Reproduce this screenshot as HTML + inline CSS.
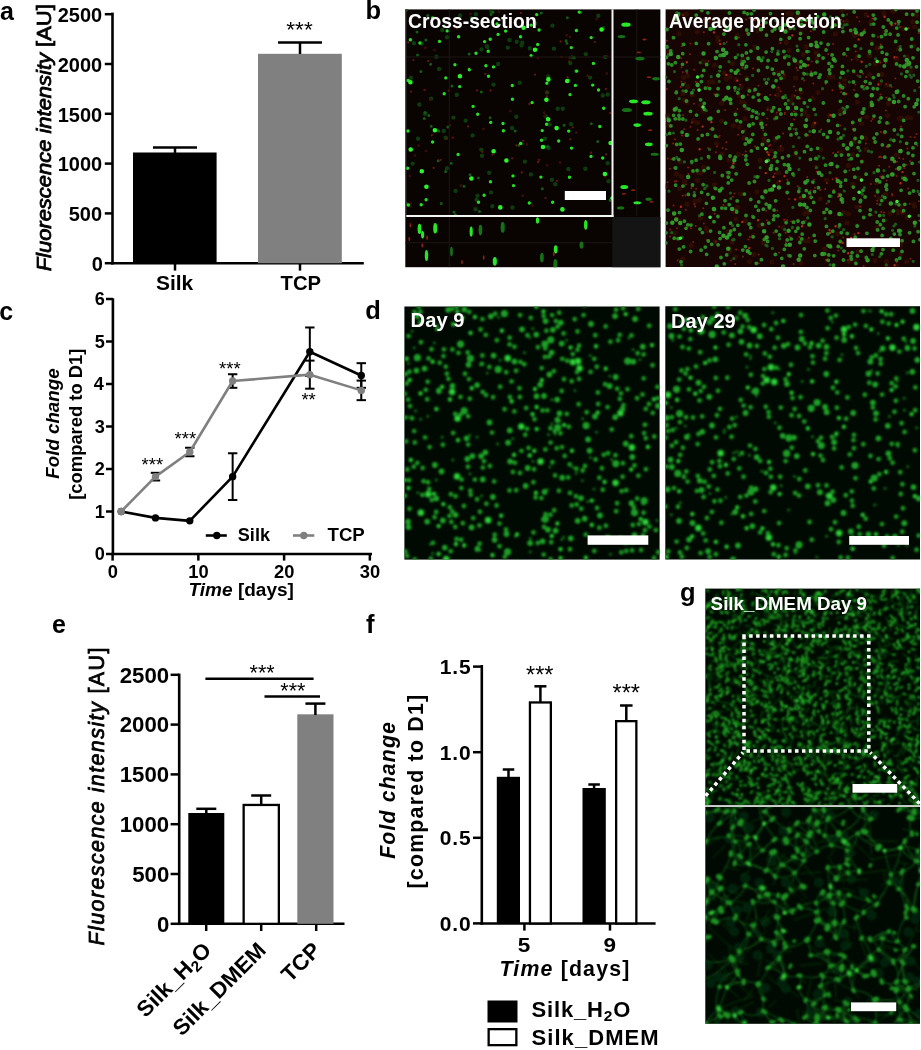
<!DOCTYPE html>
<html><head><meta charset="utf-8"><title>Figure</title>
<style>html,body{margin:0;padding:0;background:#fff}svg{display:block}text{font-family:"Liberation Sans",Arial,sans-serif}</style></head>
<body>
<svg width="921" height="1050" viewBox="0 0 921 1050">
<rect width="921" height="1050" fill="#fff"/>
<text transform="translate(-0.10,19.80)" font-size="25" font-weight="bold" font-style="normal" fill="#000">a</text>
<line x1="112.50" y1="12.60" x2="112.50" y2="264.45" stroke="#000" stroke-width="2.6" />
<line x1="111.25" y1="263.20" x2="363.80" y2="263.20" stroke="#000" stroke-width="2.5" />
<line x1="104.80" y1="263.20" x2="112.50" y2="263.20" stroke="#000" stroke-width="2.5" />
<text transform="translate(91.70,270.90)" font-size="20" font-weight="bold" font-style="normal" fill="#000">0</text>
<line x1="104.80" y1="213.40" x2="112.50" y2="213.40" stroke="#000" stroke-width="2.5" />
<text transform="translate(68.70,221.10)" font-size="20" font-weight="bold" font-style="normal" fill="#000">500</text>
<line x1="104.80" y1="163.60" x2="112.50" y2="163.60" stroke="#000" stroke-width="2.5" />
<text transform="translate(57.70,171.30)" font-size="20" font-weight="bold" font-style="normal" fill="#000">1000</text>
<line x1="104.80" y1="113.80" x2="112.50" y2="113.80" stroke="#000" stroke-width="2.5" />
<text transform="translate(57.70,121.50)" font-size="20" font-weight="bold" font-style="normal" fill="#000">1500</text>
<line x1="104.80" y1="64.00" x2="112.50" y2="64.00" stroke="#000" stroke-width="2.5" />
<text transform="translate(57.70,71.70)" font-size="20" font-weight="bold" font-style="normal" fill="#000">2000</text>
<line x1="104.80" y1="14.20" x2="112.50" y2="14.20" stroke="#000" stroke-width="2.5" />
<text transform="translate(57.70,21.90)" font-size="20" font-weight="bold" font-style="normal" fill="#000">2500</text>
<line x1="175.00" y1="263.20" x2="175.00" y2="270.60" stroke="#000" stroke-width="2.5" />
<line x1="300.00" y1="263.20" x2="300.00" y2="270.60" stroke="#000" stroke-width="2.5" />
<rect x="133.00" y="152.50" width="83.60" height="110.70" fill="#000"/>
<rect x="258.00" y="53.80" width="83.80" height="209.40" fill="#808080"/>
<line x1="175.00" y1="147.50" x2="175.00" y2="153.00" stroke="#000" stroke-width="2.5" />
<line x1="153.00" y1="147.50" x2="197.00" y2="147.50" stroke="#000" stroke-width="2.5" />
<line x1="300.00" y1="42.50" x2="300.00" y2="54.00" stroke="#000" stroke-width="2.5" />
<line x1="278.00" y1="42.50" x2="322.00" y2="42.50" stroke="#000" stroke-width="2.5" />
<text transform="translate(286.30,36.51)" font-size="22.6" font-weight="normal" font-style="normal" fill="#000">***</text>
<text transform="translate(155.92,289.60) scale(1.0300,1)" font-size="20.37" font-weight="bold" font-style="normal" fill="#000">Silk</text>
<text transform="translate(280.50,289.80) scale(1.0300,1)" font-size="19.68" font-weight="bold" font-style="normal" fill="#000">TCP</text>
<text transform="translate(51.00,271.35) rotate(-90) scale(1.0458,1)" font-size="21" font-weight="normal" font-style="normal" fill="#000" stroke="#000" stroke-width="0.8"><tspan font-style="italic">Fluorescence intensity</tspan> [AU]</text>
<text transform="translate(-0.70,319.60)" font-size="25" font-weight="bold" font-style="normal" fill="#000">c</text>
<line x1="112.90" y1="298.20" x2="112.90" y2="555.25" stroke="#000" stroke-width="2.6" />
<line x1="111.65" y1="554.00" x2="372.00" y2="554.00" stroke="#000" stroke-width="2.5" />
<line x1="106.00" y1="554.00" x2="112.90" y2="554.00" stroke="#000" stroke-width="2.5" />
<text transform="translate(94.82,560.40) scale(1.0200,1)" font-size="17.8" font-weight="bold" font-style="normal" fill="#000">0</text>
<line x1="106.00" y1="511.50" x2="112.90" y2="511.50" stroke="#000" stroke-width="2.5" />
<text transform="translate(94.82,517.90) scale(1.0200,1)" font-size="17.8" font-weight="bold" font-style="normal" fill="#000">1</text>
<line x1="106.00" y1="469.00" x2="112.90" y2="469.00" stroke="#000" stroke-width="2.5" />
<text transform="translate(94.82,475.40) scale(1.0200,1)" font-size="17.8" font-weight="bold" font-style="normal" fill="#000">2</text>
<line x1="106.00" y1="426.50" x2="112.90" y2="426.50" stroke="#000" stroke-width="2.5" />
<text transform="translate(94.82,432.90) scale(1.0200,1)" font-size="17.8" font-weight="bold" font-style="normal" fill="#000">3</text>
<line x1="106.00" y1="384.00" x2="112.90" y2="384.00" stroke="#000" stroke-width="2.5" />
<text transform="translate(93.80,390.40) scale(1.0200,1)" font-size="17.8" font-weight="bold" font-style="normal" fill="#000">4</text>
<line x1="106.00" y1="341.50" x2="112.90" y2="341.50" stroke="#000" stroke-width="2.5" />
<text transform="translate(94.82,347.90) scale(1.0200,1)" font-size="17.8" font-weight="bold" font-style="normal" fill="#000">5</text>
<line x1="106.00" y1="299.00" x2="112.90" y2="299.00" stroke="#000" stroke-width="2.5" />
<text transform="translate(94.82,305.40) scale(1.0200,1)" font-size="17.8" font-weight="bold" font-style="normal" fill="#000">6</text>
<line x1="112.60" y1="554.00" x2="112.60" y2="560.60" stroke="#000" stroke-width="2.5" />
<text transform="translate(107.75,578.30) scale(1.0300,1)" font-size="17.8" font-weight="bold" font-style="normal" fill="#000">0</text>
<line x1="198.35" y1="554.00" x2="198.35" y2="560.60" stroke="#000" stroke-width="2.5" />
<text transform="translate(188.35,578.30) scale(1.0300,1)" font-size="17.8" font-weight="bold" font-style="normal" fill="#000">10</text>
<line x1="284.10" y1="554.00" x2="284.10" y2="560.60" stroke="#000" stroke-width="2.5" />
<text transform="translate(274.10,578.30) scale(1.0300,1)" font-size="17.8" font-weight="bold" font-style="normal" fill="#000">20</text>
<line x1="369.85" y1="554.00" x2="369.85" y2="560.60" stroke="#000" stroke-width="2.5" />
<text transform="translate(359.85,578.30) scale(1.0300,1)" font-size="17.8" font-weight="bold" font-style="normal" fill="#000">30</text>
<text transform="translate(188.53,596.00) scale(1.0698,1)" font-size="17.8" font-weight="bold" font-style="normal" fill="#000"><tspan font-style="italic">Time</tspan> [days]</text>
<text transform="translate(59.30,478.70) rotate(-90) scale(1.0300,1)" font-size="18.19" font-weight="bold" font-style="italic" fill="#000">Fold change</text>
<text transform="translate(82.00,499.75) rotate(-90) scale(1.0300,1)" font-size="17.85" font-weight="bold" font-style="normal" fill="#000">[compared to D1]</text>
<line x1="232.65" y1="453.27" x2="232.65" y2="500.02" stroke="#000" stroke-width="2" />
<line x1="227.95" y1="453.27" x2="237.35" y2="453.27" stroke="#000" stroke-width="2" />
<line x1="227.95" y1="500.02" x2="237.35" y2="500.02" stroke="#000" stroke-width="2" />
<line x1="309.82" y1="327.48" x2="309.82" y2="375.93" stroke="#000" stroke-width="2" />
<line x1="305.12" y1="327.48" x2="314.52" y2="327.48" stroke="#000" stroke-width="2" />
<line x1="305.12" y1="375.93" x2="314.52" y2="375.93" stroke="#000" stroke-width="2" />
<line x1="361.27" y1="363.17" x2="361.27" y2="387.82" stroke="#000" stroke-width="2" />
<line x1="356.57" y1="363.17" x2="365.97" y2="363.17" stroke="#000" stroke-width="2" />
<line x1="356.57" y1="387.82" x2="365.97" y2="387.82" stroke="#000" stroke-width="2" />
<polyline points="121.17,511.50 155.47,517.88 189.77,520.85 232.65,476.65 309.82,351.70 361.27,375.50" fill="none" stroke="#000" stroke-width="2.6" stroke-linejoin="round"/>
<circle cx="121.17" cy="511.50" r="3.7" fill="#000"/>
<circle cx="155.47" cy="517.88" r="3.7" fill="#000"/>
<circle cx="189.77" cy="520.85" r="3.7" fill="#000"/>
<circle cx="232.65" cy="476.65" r="3.7" fill="#000"/>
<circle cx="309.82" cy="351.70" r="3.7" fill="#000"/>
<circle cx="361.27" cy="375.50" r="3.7" fill="#000"/>
<line x1="155.47" y1="472.82" x2="155.47" y2="480.48" stroke="#000" stroke-width="2" />
<line x1="150.78" y1="472.82" x2="160.17" y2="472.82" stroke="#000" stroke-width="2" />
<line x1="150.78" y1="480.48" x2="160.17" y2="480.48" stroke="#000" stroke-width="2" />
<line x1="189.77" y1="447.75" x2="189.77" y2="456.25" stroke="#000" stroke-width="2" />
<line x1="185.07" y1="447.75" x2="194.47" y2="447.75" stroke="#000" stroke-width="2" />
<line x1="185.07" y1="456.25" x2="194.47" y2="456.25" stroke="#000" stroke-width="2" />
<line x1="232.65" y1="374.23" x2="232.65" y2="387.82" stroke="#000" stroke-width="2" />
<line x1="227.95" y1="374.23" x2="237.35" y2="374.23" stroke="#000" stroke-width="2" />
<line x1="227.95" y1="387.82" x2="237.35" y2="387.82" stroke="#000" stroke-width="2" />
<line x1="309.82" y1="360.62" x2="309.82" y2="388.68" stroke="#000" stroke-width="2" />
<line x1="305.12" y1="360.62" x2="314.52" y2="360.62" stroke="#000" stroke-width="2" />
<line x1="305.12" y1="388.68" x2="314.52" y2="388.68" stroke="#000" stroke-width="2" />
<line x1="361.27" y1="380.60" x2="361.27" y2="400.15" stroke="#000" stroke-width="2" />
<line x1="356.57" y1="380.60" x2="365.97" y2="380.60" stroke="#000" stroke-width="2" />
<line x1="356.57" y1="400.15" x2="365.97" y2="400.15" stroke="#000" stroke-width="2" />
<polyline points="121.17,511.50 155.47,476.65 189.77,452.00 232.65,381.02 309.82,374.65 361.27,390.38" fill="none" stroke="#808080" stroke-width="2.6" stroke-linejoin="round"/>
<circle cx="121.17" cy="511.50" r="3.7" fill="#808080"/>
<circle cx="155.47" cy="476.65" r="3.7" fill="#808080"/>
<circle cx="189.77" cy="452.00" r="3.7" fill="#808080"/>
<circle cx="232.65" cy="381.02" r="3.7" fill="#808080"/>
<circle cx="309.82" cy="374.65" r="3.7" fill="#808080"/>
<circle cx="361.27" cy="390.38" r="3.7" fill="#808080"/>
<text transform="translate(141.50,470.75)" font-size="18.5" font-weight="normal" font-style="normal" fill="#000">***</text>
<text transform="translate(174.50,445.05)" font-size="18.5" font-weight="normal" font-style="normal" fill="#000">***</text>
<text transform="translate(219.00,375.05)" font-size="18.5" font-weight="normal" font-style="normal" fill="#000">***</text>
<text transform="translate(301.40,405.95)" font-size="18.5" font-weight="normal" font-style="normal" fill="#000">**</text>
<line x1="205.80" y1="535.50" x2="226.80" y2="535.50" stroke="#000" stroke-width="2.6" />
<circle cx="216.8" cy="535.5" r="3.7" fill="#000"/>
<text transform="translate(237.79,541.40) scale(1.0300,1)" font-size="17.59" font-weight="bold" font-style="normal" fill="#000">Silk</text>
<line x1="293.00" y1="535.50" x2="314.30" y2="535.50" stroke="#808080" stroke-width="2.6" />
<circle cx="303.8" cy="535.5" r="3.7" fill="#808080"/>
<text transform="translate(327.50,541.40) scale(1.0300,1)" font-size="18.12" font-weight="bold" font-style="normal" fill="#000">TCP</text>
<text transform="translate(52.00,632.60)" font-size="25" font-weight="bold" font-style="normal" fill="#000">e</text>
<line x1="179.20" y1="673.60" x2="179.20" y2="925.05" stroke="#000" stroke-width="2.6" />
<line x1="177.95" y1="923.80" x2="344.50" y2="923.80" stroke="#000" stroke-width="2.5" />
<line x1="170.60" y1="923.80" x2="179.20" y2="923.80" stroke="#000" stroke-width="2.5" />
<text transform="translate(157.02,931.50) scale(1.0350,1)" font-size="21.5" font-weight="bold" font-style="normal" fill="#000">0</text>
<line x1="170.60" y1="874.00" x2="179.20" y2="874.00" stroke="#000" stroke-width="2.5" />
<text transform="translate(132.18,881.70) scale(1.0350,1)" font-size="21.5" font-weight="bold" font-style="normal" fill="#000">500</text>
<line x1="170.60" y1="824.20" x2="179.20" y2="824.20" stroke="#000" stroke-width="2.5" />
<text transform="translate(119.76,831.90) scale(1.0350,1)" font-size="21.5" font-weight="bold" font-style="normal" fill="#000">1000</text>
<line x1="170.60" y1="774.40" x2="179.20" y2="774.40" stroke="#000" stroke-width="2.5" />
<text transform="translate(119.76,782.10) scale(1.0350,1)" font-size="21.5" font-weight="bold" font-style="normal" fill="#000">1500</text>
<line x1="170.60" y1="724.60" x2="179.20" y2="724.60" stroke="#000" stroke-width="2.5" />
<text transform="translate(119.76,732.30) scale(1.0350,1)" font-size="21.5" font-weight="bold" font-style="normal" fill="#000">2000</text>
<line x1="170.60" y1="674.80" x2="179.20" y2="674.80" stroke="#000" stroke-width="2.5" />
<text transform="translate(119.76,682.50) scale(1.0350,1)" font-size="21.5" font-weight="bold" font-style="normal" fill="#000">2500</text>
<line x1="206.20" y1="923.80" x2="206.20" y2="931.00" stroke="#000" stroke-width="2.5" />
<line x1="261.20" y1="923.80" x2="261.20" y2="931.00" stroke="#000" stroke-width="2.5" />
<line x1="316.20" y1="923.80" x2="316.20" y2="931.00" stroke="#000" stroke-width="2.5" />
<rect x="188.30" y="813.00" width="36.00" height="110.80" fill="#000"/>
<rect x="243.65" y="804.95" width="35.20" height="118.90" fill="#fff" stroke="#000" stroke-width="2.3"/>
<rect x="297.30" y="714.30" width="36.20" height="209.50" fill="#808080"/>
<line x1="206.30" y1="808.80" x2="206.30" y2="814.00" stroke="#000" stroke-width="2.5" />
<line x1="196.30" y1="808.80" x2="216.30" y2="808.80" stroke="#000" stroke-width="2.5" />
<line x1="261.20" y1="795.50" x2="261.20" y2="804.50" stroke="#000" stroke-width="2.5" />
<line x1="251.20" y1="795.50" x2="271.20" y2="795.50" stroke="#000" stroke-width="2.5" />
<line x1="315.40" y1="703.60" x2="315.40" y2="715.00" stroke="#000" stroke-width="2.5" />
<line x1="305.40" y1="703.60" x2="325.40" y2="703.60" stroke="#000" stroke-width="2.5" />
<line x1="205.40" y1="678.70" x2="313.60" y2="678.70" stroke="#000" stroke-width="2.5" />
<line x1="264.50" y1="696.50" x2="320.00" y2="696.50" stroke="#000" stroke-width="2.5" />
<text transform="translate(249.55,679.53)" font-size="21.5" font-weight="normal" font-style="normal" fill="#000">***</text>
<text transform="translate(280.35,698.03)" font-size="21.5" font-weight="normal" font-style="normal" fill="#000">***</text>
<text transform="translate(104.00,945.50) rotate(-90)" font-size="21.4" font-weight="normal" font-style="normal" fill="#000" letter-spacing="1.442" stroke="#000" stroke-width="0.8"><tspan font-style="italic">Fluorescence intensity</tspan> [AU]</text>
<text transform="translate(212.5,951.5) rotate(-45) scale(1.02,1)" text-anchor="end" font-size="22" font-weight="bold">Silk_H<tspan font-size="15" dy="4.2">2</tspan><tspan dy="-4.2">O</tspan></text>
<text transform="translate(267.2,951.5) rotate(-45) scale(1.02,1)" text-anchor="end" font-size="22" font-weight="bold">Silk_DMEM</text>
<text transform="translate(322,951.5) rotate(-45) scale(1.02,1)" text-anchor="end" font-size="22" font-weight="bold">TCP</text>
<text transform="translate(366.00,632.60)" font-size="25.5" font-weight="bold" font-style="normal" fill="#000">f</text>
<line x1="481.80" y1="665.10" x2="481.80" y2="924.65" stroke="#000" stroke-width="2.6" />
<line x1="480.55" y1="923.40" x2="655.60" y2="923.40" stroke="#000" stroke-width="2.5" />
<line x1="473.00" y1="923.40" x2="481.80" y2="923.40" stroke="#000" stroke-width="2.5" />
<text transform="translate(439.70,930.90)" font-size="21" font-weight="bold" font-style="normal" fill="#000" letter-spacing="0.9">0.0</text>
<line x1="473.00" y1="837.80" x2="481.80" y2="837.80" stroke="#000" stroke-width="2.5" />
<text transform="translate(439.70,845.30)" font-size="21" font-weight="bold" font-style="normal" fill="#000" letter-spacing="0.9">0.5</text>
<line x1="473.00" y1="752.20" x2="481.80" y2="752.20" stroke="#000" stroke-width="2.5" />
<text transform="translate(439.70,759.70)" font-size="21" font-weight="bold" font-style="normal" fill="#000" letter-spacing="0.9">1.0</text>
<line x1="473.00" y1="666.60" x2="481.80" y2="666.60" stroke="#000" stroke-width="2.5" />
<text transform="translate(439.70,674.10)" font-size="21" font-weight="bold" font-style="normal" fill="#000" letter-spacing="0.9">1.5</text>
<line x1="524.40" y1="923.40" x2="524.40" y2="930.60" stroke="#000" stroke-width="2.5" />
<line x1="610.00" y1="923.40" x2="610.00" y2="930.60" stroke="#000" stroke-width="2.5" />
<text transform="translate(517.70,952.00) scale(1.1000,1)" font-size="20.5" font-weight="bold" font-style="normal" fill="#000">5</text>
<text transform="translate(603.40,952.00) scale(1.1000,1)" font-size="20.5" font-weight="bold" font-style="normal" fill="#000">9</text>
<rect x="496.80" y="776.80" width="23.20" height="146.60" fill="#000"/>
<rect x="529.95" y="702.45" width="20.90" height="221.00" fill="#fff" stroke="#000" stroke-width="2.3"/>
<rect x="582.50" y="788.00" width="23.30" height="135.40" fill="#000"/>
<rect x="616.15" y="721.15" width="20.20" height="202.30" fill="#fff" stroke="#000" stroke-width="2.3"/>
<line x1="508.50" y1="769.50" x2="508.50" y2="777.00" stroke="#000" stroke-width="2.5" />
<line x1="502.75" y1="769.50" x2="514.25" y2="769.50" stroke="#000" stroke-width="2.5" />
<line x1="540.40" y1="686.30" x2="540.40" y2="702.00" stroke="#000" stroke-width="2.5" />
<line x1="534.40" y1="686.30" x2="546.40" y2="686.30" stroke="#000" stroke-width="2.5" />
<line x1="594.10" y1="784.50" x2="594.10" y2="789.00" stroke="#000" stroke-width="2.5" />
<line x1="588.35" y1="784.50" x2="599.85" y2="784.50" stroke="#000" stroke-width="2.5" />
<line x1="626.30" y1="705.50" x2="626.30" y2="721.00" stroke="#000" stroke-width="2.5" />
<line x1="620.05" y1="705.50" x2="632.55" y2="705.50" stroke="#000" stroke-width="2.5" />
<text transform="translate(526.00,683.18)" font-size="23.5" font-weight="normal" font-style="normal" fill="#000">***</text>
<text transform="translate(612.50,701.18)" font-size="23.5" font-weight="normal" font-style="normal" fill="#000">***</text>
<text transform="translate(499.50,975.50)" font-size="21.3" font-weight="bold" font-style="normal" fill="#000" letter-spacing="1.18"><tspan font-style="italic">Time</tspan> [days]</text>
<text transform="translate(395.20,858.80) rotate(-90)" font-size="21.3" font-weight="bold" font-style="italic" fill="#000" letter-spacing="1.13">Fold change</text>
<text transform="translate(423.00,888.50) rotate(-90)" font-size="21.3" font-weight="bold" font-style="normal" fill="#000" letter-spacing="1.233">[compared to D1]</text>
<rect x="487.50" y="1000.50" width="30.00" height="22.00" fill="#000"/>
<rect x="488.65" y="1029.15" width="27.70" height="16.00" fill="#fff" stroke="#000" stroke-width="2.3"/>
<text transform="translate(531.50,1016.80)" font-size="22" font-weight="bold" font-style="normal" fill="#000" letter-spacing="0.829">Silk_H<tspan font-size="15.5" dy="4.2">2</tspan><tspan dy="-4.2">O</tspan></text>
<text transform="translate(531.50,1045.00)" font-size="22" font-weight="bold" font-style="normal" fill="#000" letter-spacing="1.062">Silk_DMEM</text>
<defs><filter id="b1" x="-2%" y="-2%" width="104%" height="104%"><feGaussianBlur stdDeviation="0.55"/></filter><filter id="b2" x="-2%" y="-2%" width="104%" height="104%"><feGaussianBlur stdDeviation="0.8"/></filter></defs>
<text transform="translate(365.50,18.90)" font-size="25.5" font-weight="bold" font-style="normal" fill="#000">b</text>
<rect x="405.30" y="9.40" width="255.10" height="257.80" fill="#090302"/>
<clipPath id="cb1"><rect x="405.30" y="9.40" width="207.20" height="206.60"/></clipPath>
<clipPath id="cb2"><rect x="612.50" y="9.40" width="47.90" height="206.60"/></clipPath>
<clipPath id="cb3"><rect x="405.30" y="216.00" width="207.20" height="51.20"/></clipPath>
<g clip-path="url(#cb1)" filter="url(#b1)">
<path d="M491.4 11.5h0M575.9 71.1h0M481.5 49.4h0M522.3 42.8h0M431.0 98.8h0M521.5 45.4h0M519.7 82.7h0M603.3 28.3h0M607.6 94.5h0M509.5 40.0h0M553.9 48.6h0M475.9 14.3h0M475.5 209.3h0M607.6 163.2h0M406.0 203.7h0M585.3 168.7h0M442.3 30.0h0M491.0 192.4h0M524.8 161.6h0M453.4 117.6h0M551.9 179.8h0M572.1 57.4h0M585.8 54.1h0M571.1 124.1h0M443.7 131.0h0M512.4 207.5h0M413.9 43.3h0M608.5 181.3h0M436.4 56.7h0M516.7 41.8h0M472.2 19.6h0M552.4 25.6h0M610.9 199.6h0M568.4 169.0h0M481.3 149.6h0M562.7 108.7h0M418.0 138.8h0M472.6 135.4h0M492.3 206.2h0M447.0 168.2h0M549.7 124.4h0M421.8 43.5h0M605.2 57.1h0M439.1 69.0h0M516.3 116.8h0M406.0 10.1h0M507.8 47.6h0M530.9 174.4h0M425.1 113.8h0M489.2 172.7h0M602.7 95.5h0M455.6 190.9h0M410.9 77.7h0M486.9 46.2h0M545.8 116.5h0M456.8 94.8h0M548.3 76.5h0M419.3 104.5h0M445.6 137.8h0M447.0 37.3h0M590.1 77.6h0M465.7 120.6h0M548.6 148.0h0M570.3 63.1h0M493.5 84.6h0M512.1 128.0h0M535.4 23.4h0M482.0 155.8h0M412.6 163.6h0M547.1 92.4h0M498.1 64.0h0M557.7 108.7h0M460.1 15.5h0M476.6 199.7h0M545.1 138.6h0M598.3 15.7h0M529.8 48.2h0M487.3 47.0h0M477.5 195.6h0M555.2 184.2h0" stroke="#0f3a0d" stroke-width="4.4" stroke-linecap="round" fill="none"/>
<path d="M420.9 71.6h0M567.4 17.8h0M444.5 26.3h0M574.3 57.4h0M493.0 12.3h0M428.8 115.6h0M568.9 79.9h0M471.3 17.8h0M425.9 40.1h0M447.9 127.1h0M479.5 211.4h0M464.0 186.3h0M424.3 118.4h0M518.9 145.2h0M490.1 117.7h0M566.1 40.7h0M515.2 130.9h0M566.9 43.2h0M491.0 14.5h0M542.3 188.7h0M478.4 178.0h0M541.3 12.9h0M502.5 18.8h0M470.0 174.8h0M431.2 126.2h0M417.0 32.1h0M602.1 29.3h0M441.3 203.6h0M469.1 54.1h0M425.2 112.5h0M417.5 54.9h0M451.2 163.3h0M438.8 130.9h0M455.3 214.7h0M610.1 200.3h0M591.3 123.8h0M597.7 141.6h0M438.2 160.7h0M580.8 12.4h0M445.6 171.4h0M564.1 125.2h0M430.6 64.2h0M454.0 212.0h0M451.9 85.9h0M547.7 146.4h0M521.5 143.8h0M584.1 198.2h0M427.7 15.6h0M594.1 197.5h0M481.4 92.0h0" stroke="#145a12" stroke-width="3.0" stroke-linecap="round" fill="none"/>
<path d="M546.9 96.5h0M428.2 60.9h0M468.1 126.4h0M440.7 159.9h0M605.8 88.9h0M523.2 140.8h0M570.2 139.4h0M512.1 158.3h0M410.2 203.6h0M591.0 152.7h0M447.0 138.6h0M411.1 91.6h0M449.8 125.4h0M457.1 28.5h0M569.4 61.3h0M521.0 12.8h0M521.8 172.5h0M567.6 77.2h0M431.8 135.3h0M468.7 68.4h0M448.7 90.7h0M546.3 92.4h0M538.9 159.8h0M572.8 127.3h0M610.0 113.1h0M516.3 145.4h0M606.1 154.4h0M594.8 42.2h0M492.5 154.7h0M556.8 180.9h0M460.4 74.4h0M490.6 90.5h0M424.5 89.9h0M538.1 162.2h0M452.8 137.6h0M560.6 41.5h0M408.3 42.5h0M545.6 198.1h0M485.3 73.9h0M535.0 74.7h0M413.4 60.1h0M529.4 104.0h0M477.0 90.4h0M433.6 167.9h0M482.6 151.9h0" stroke="#621810" stroke-width="2.3" stroke-linecap="round" fill="none"/>
<path d="M522.7 195.4h0M569.9 36.7h0M498.6 11.7h0M561.4 57.1h0M607.2 56.0h0M510.3 111.0h0M576.3 132.4h0M587.4 75.4h0M425.4 47.8h0M414.9 155.5h0M547.1 165.3h0M566.7 35.3h0M418.6 145.6h0M405.5 79.0h0M526.8 144.2h0M532.5 205.5h0M606.8 73.6h0M470.4 13.8h0M430.3 99.9h0M537.9 58.1h0M425.9 150.9h0M544.2 112.8h0M434.4 50.1h0M460.7 185.6h0M596.7 19.1h0M598.9 198.0h0M569.2 57.6h0M605.2 176.5h0M434.1 16.8h0M483.4 129.1h0M410.4 206.6h0M544.4 116.1h0M507.0 31.0h0M559.9 162.6h0M409.9 176.1h0" stroke="#350c07" stroke-width="3.0" stroke-linecap="round" fill="none"/>
<path d="M478.5 202.2h0M476.0 53.2h0M445.8 77.9h0M419.9 43.0h0M503.0 123.5h0M520.5 36.7h0M410.4 39.7h0M591.2 37.6h0M546.6 124.2h0M529.3 203.0h0M458.1 154.5h0M512.3 85.5h0M488.2 51.2h0M426.1 199.8h0M537.7 44.5h0M571.3 47.6h0M542.2 130.6h0M570.0 94.6h0M602.7 158.0h0M498.1 34.4h0M458.6 36.7h0M513.0 175.9h0M558.7 141.0h0M493.5 66.9h0M571.5 148.1h0M568.7 131.1h0M459.7 86.6h0M469.3 69.7h0M591.0 156.4h0M532.1 102.6h0M505.6 31.1h0M503.4 130.8h0M477.7 114.2h0M611.9 198.0h0M421.2 204.8h0M569.5 177.2h0M432.6 142.0h0M576.4 30.5h0M408.3 205.0h0M593.4 63.4h0M576.7 71.1h0M579.2 12.1h0M531.1 55.8h0M536.7 14.6h0M539.1 30.0h0M497.0 23.9h0M484.6 41.6h0M473.1 106.4h0M541.5 140.3h0M513.5 185.6h0M490.2 39.2h0M546.9 83.2h0M598.5 90.0h0M408.2 80.4h0M603.7 108.2h0M575.4 85.4h0M531.1 25.1h0M447.2 30.9h0M488.5 76.2h0M520.6 143.4h0M454.9 64.8h0M484.1 195.2h0M444.2 93.7h0M408.0 131.0h0M485.9 65.7h0M552.6 202.2h0M592.7 85.1h0M407.7 168.3h0M540.9 177.1h0M512.4 99.2h0M432.5 18.0h0M439.5 41.4h0M599.8 126.5h0M490.5 181.8h0M490.7 122.4h0" stroke="#22e022" stroke-width="3.4" stroke-linecap="round" fill="none"/>
<path d="M459.9 76.2h0M421.8 171.2h0M506.4 160.5h0M523.6 27.8h0M567.2 81.0h0M604.9 174.0h0M548.1 119.2h0M548.4 79.4h0M426.4 186.7h0M500.3 207.4h0M556.6 128.1h0M493.6 151.2h0M471.4 178.5h0M601.6 29.5h0M410.4 82.3h0M546.4 99.8h0M562.4 209.4h0M543.0 147.0h0M434.9 130.3h0M535.0 49.7h0M410.7 149.5h0M610.6 143.0h0" stroke="#2af52a" stroke-width="4.6" stroke-linecap="round" fill="none"/>
</g>
<line x1="449.30" y1="9.40" x2="449.30" y2="267.20" stroke="#1d1615" stroke-width="1" />
<line x1="405.30" y1="57.00" x2="660.40" y2="57.00" stroke="#1d1615" stroke-width="1" />
<line x1="636.80" y1="9.40" x2="636.80" y2="216.00" stroke="#1d1615" stroke-width="1" />
<line x1="405.30" y1="242.70" x2="612.00" y2="242.70" stroke="#1d1615" stroke-width="1" />
<g clip-path="url(#cb2)" filter="url(#b1)">
<ellipse cx="624.2" cy="187.0" rx="3.9" ry="2.0" fill="#25e825"/>
<ellipse cx="648.6" cy="199.2" rx="3.2" ry="1.6" fill="#157015"/>
<ellipse cx="639.9" cy="58.6" rx="4.7" ry="1.9" fill="#157015"/>
<ellipse cx="654.7" cy="154.2" rx="4.1" ry="1.5" fill="#157015"/>
<ellipse cx="637.2" cy="202.7" rx="3.8" ry="1.5" fill="#25e825"/>
<ellipse cx="621.5" cy="36.6" rx="3.9" ry="1.7" fill="#157015"/>
<ellipse cx="656.0" cy="78.8" rx="3.9" ry="1.7" fill="#157015"/>
<ellipse cx="633.5" cy="101.4" rx="4.5" ry="1.8" fill="#25e825"/>
<ellipse cx="620.6" cy="207.9" rx="3.7" ry="1.6" fill="#157015"/>
<ellipse cx="648.0" cy="113.7" rx="4.7" ry="1.9" fill="#25e825"/>
<ellipse cx="626.9" cy="109.9" rx="5.0" ry="2.0" fill="#157015"/>
<ellipse cx="648.8" cy="144.3" rx="3.9" ry="1.9" fill="#25e825"/>
<ellipse cx="626.0" cy="24.7" rx="4.7" ry="2.1" fill="#25e825"/>
<ellipse cx="645.9" cy="102.2" rx="4.6" ry="2.0" fill="#25e825"/>
<ellipse cx="637.2" cy="125.1" rx="3.8" ry="1.8" fill="#25e825"/>
<ellipse cx="648.9" cy="77.2" rx="2.2" ry="0.9" fill="#8a2010"/>
<ellipse cx="650.1" cy="130.2" rx="2.2" ry="0.9" fill="#8a2010"/>
<ellipse cx="638.8" cy="52.4" rx="2.2" ry="0.9" fill="#8a2010"/>
<ellipse cx="644.5" cy="39.5" rx="2.2" ry="0.9" fill="#8a2010"/>
<ellipse cx="633.2" cy="190.2" rx="2.2" ry="0.9" fill="#8a2010"/>
<ellipse cx="651.6" cy="201.8" rx="2.2" ry="0.9" fill="#8a2010"/>
<ellipse cx="623.9" cy="193.8" rx="2.2" ry="0.9" fill="#8a2010"/>
</g>
<g clip-path="url(#cb3)" filter="url(#b1)">
<ellipse cx="502.7" cy="227.4" rx="2.1" ry="5.4" fill="#157015"/>
<ellipse cx="480.4" cy="230.1" rx="1.9" ry="5.3" fill="#157015"/>
<ellipse cx="555.3" cy="264.3" rx="2.0" ry="5.3" fill="#157015"/>
<ellipse cx="494.8" cy="261.4" rx="2.1" ry="4.4" fill="#25e825"/>
<ellipse cx="537.5" cy="220.4" rx="1.6" ry="3.2" fill="#25e825"/>
<ellipse cx="471.2" cy="231.6" rx="1.6" ry="5.2" fill="#25e825"/>
<ellipse cx="451.5" cy="251.5" rx="1.4" ry="4.8" fill="#157015"/>
<ellipse cx="435.2" cy="228.3" rx="2.0" ry="5.2" fill="#25e825"/>
<ellipse cx="426.5" cy="255.6" rx="1.7" ry="5.5" fill="#25e825"/>
<ellipse cx="585.7" cy="224.9" rx="1.7" ry="4.8" fill="#25e825"/>
<ellipse cx="581.5" cy="245.1" rx="2.0" ry="3.6" fill="#157015"/>
<ellipse cx="419.5" cy="228.9" rx="1.9" ry="5.2" fill="#25e825"/>
<ellipse cx="555.7" cy="249.4" rx="1.9" ry="4.1" fill="#25e825"/>
<ellipse cx="541.9" cy="257.6" rx="1.9" ry="4.8" fill="#157015"/>
<ellipse cx="422.6" cy="234.8" rx="1.6" ry="3.7" fill="#25e825"/>
<ellipse cx="483.7" cy="257.5" rx="0.9" ry="2.2" fill="#8a2010"/>
<ellipse cx="462.0" cy="262.1" rx="0.9" ry="2.2" fill="#8a2010"/>
<ellipse cx="409.3" cy="239.0" rx="0.9" ry="2.2" fill="#8a2010"/>
<ellipse cx="553.7" cy="254.0" rx="0.9" ry="2.2" fill="#8a2010"/>
<ellipse cx="410.4" cy="225.2" rx="0.9" ry="2.2" fill="#8a2010"/>
<ellipse cx="422.3" cy="245.4" rx="0.9" ry="2.2" fill="#8a2010"/>
<ellipse cx="427.1" cy="237.8" rx="0.9" ry="2.2" fill="#8a2010"/>
</g>
<rect x="612.20" y="217.00" width="48.20" height="50.20" fill="#141414"/>
<line x1="405.80" y1="9.40" x2="405.80" y2="216.00" stroke="#4a4a4a" stroke-width="1" />
<line x1="612.50" y1="9.40" x2="612.50" y2="217.00" stroke="#f6f6f6" stroke-width="2" />
<line x1="406.30" y1="216.10" x2="613.50" y2="216.10" stroke="#f6f6f6" stroke-width="2" />
<rect x="564.80" y="191.00" width="41.20" height="9.00" fill="#fff"/>
<text transform="translate(408.05,27.60) scale(0.9504,1)" font-size="20.3" font-weight="bold" font-style="normal" fill="#fff">Cross-section</text>
<rect x="665.60" y="9.40" width="254.40" height="257.60" fill="#170503"/>
<clipPath id="cb4"><rect x="665.60" y="9.40" width="254.40" height="257.60"/></clipPath>
<g clip-path="url(#cb4)" filter="url(#b1)">
<path d="M737.4 35.8h0M760.9 121.6h0M812.7 98.3h0M683.1 94.1h0M842.2 10.3h0M798.4 14.4h0M885.5 60.1h0M801.4 32.9h0M804.8 213.6h0M898.3 212.8h0M893.0 11.4h0M870.6 22.0h0M887.1 266.1h0M848.2 165.6h0M852.1 31.8h0M885.3 31.9h0M726.3 79.0h0M840.5 110.8h0M763.8 138.7h0M857.2 225.7h0M880.6 82.4h0M678.9 33.7h0M694.8 201.5h0M687.0 204.3h0M666.1 186.3h0M728.5 175.5h0M859.0 178.0h0M684.4 14.7h0M763.0 243.0h0M783.8 77.1h0M785.3 220.7h0M718.3 41.2h0M899.3 118.6h0M778.5 89.5h0M727.8 231.4h0M869.8 74.8h0M850.0 246.1h0M771.9 262.1h0M688.7 225.2h0M882.0 74.4h0M736.0 79.5h0M700.4 218.3h0M843.3 212.4h0M829.0 76.7h0M687.8 76.0h0M866.1 14.5h0M801.3 92.2h0M739.0 95.6h0M816.1 52.9h0M706.1 228.2h0M857.5 102.1h0M728.9 160.0h0M902.8 212.4h0M778.3 172.9h0M757.0 192.1h0M797.4 16.4h0M837.1 233.9h0M788.9 50.6h0M742.8 59.0h0M879.3 198.8h0M741.2 87.3h0M697.7 122.8h0M913.9 204.4h0M903.6 28.6h0M901.1 244.5h0M871.9 42.4h0M886.6 261.4h0M853.9 142.0h0M752.8 235.7h0M817.9 92.6h0M686.5 13.9h0M844.2 85.6h0M699.2 88.5h0M783.1 227.6h0M786.2 42.6h0M876.4 183.1h0M804.5 240.8h0M768.7 109.1h0M679.5 188.6h0M823.8 253.5h0M667.6 115.8h0M776.9 116.4h0M676.6 219.2h0M676.5 174.3h0M745.1 118.8h0M878.8 62.0h0M795.7 78.1h0M820.8 149.6h0M835.4 34.0h0M826.5 180.0h0M682.8 259.1h0M882.0 213.7h0M865.7 138.2h0M898.5 49.3h0M854.8 261.0h0M681.6 176.5h0M913.2 45.9h0M807.8 240.7h0M732.7 63.5h0M848.2 214.0h0M905.2 177.5h0M679.3 220.9h0M738.4 154.6h0M849.0 261.4h0M805.9 46.7h0M795.8 152.3h0M856.9 58.6h0M805.9 22.2h0M916.2 15.2h0M803.2 54.4h0M735.5 113.0h0M730.0 76.7h0M744.1 138.0h0M908.9 63.3h0M709.5 20.4h0M898.5 211.1h0M876.9 47.9h0M777.9 182.4h0M800.8 198.0h0M715.0 241.9h0M816.2 167.0h0M814.7 123.5h0M668.8 51.6h0M788.0 30.5h0M817.0 58.4h0M839.8 113.7h0M832.9 76.9h0M697.3 180.5h0M875.6 63.8h0M674.9 233.2h0M857.2 206.9h0M866.8 116.9h0M907.5 217.4h0M857.9 251.7h0M896.6 154.9h0M680.0 161.4h0M791.7 13.8h0M745.5 220.7h0M824.5 249.0h0M857.9 57.2h0M847.1 21.5h0M886.8 85.2h0M912.6 21.7h0M854.5 35.5h0M885.2 220.0h0M795.9 154.5h0M721.6 103.3h0M703.3 110.8h0M700.7 172.8h0M791.0 100.9h0M753.7 254.6h0M906.7 261.7h0M757.8 30.5h0M707.0 231.0h0M754.9 47.3h0M908.7 66.9h0M808.1 115.9h0M700.7 105.3h0M866.2 149.3h0M883.8 13.5h0M693.0 120.7h0M829.0 115.4h0M735.8 219.2h0M882.6 176.6h0M699.3 200.3h0M820.2 198.7h0M852.7 154.5h0M763.4 225.1h0M901.0 254.5h0M742.8 63.9h0M714.6 184.8h0M910.9 71.0h0M779.9 149.8h0M771.6 150.7h0M760.0 160.6h0M914.4 206.2h0M910.6 117.9h0M703.6 61.5h0M724.5 207.7h0M722.4 154.0h0M901.5 117.9h0M725.9 238.0h0M914.7 26.9h0M874.9 260.4h0M741.0 101.7h0M714.4 65.3h0M861.4 123.2h0M744.3 103.3h0M896.4 266.2h0M746.9 78.3h0M734.1 211.4h0M896.8 59.1h0M692.2 95.1h0M876.8 227.7h0M907.3 117.6h0M676.6 21.2h0M870.8 105.9h0M708.9 82.0h0M691.1 245.4h0M775.0 139.5h0M716.5 144.0h0M730.1 251.3h0M885.7 194.5h0M809.1 197.6h0M687.1 102.6h0M889.8 213.2h0M745.9 108.4h0M701.1 9.6h0M907.3 56.9h0M869.4 55.4h0M781.4 149.6h0M712.6 81.8h0M701.0 10.4h0M759.3 225.6h0M721.6 120.9h0M765.7 142.1h0M720.1 21.6h0M749.6 261.7h0M813.2 125.8h0M740.5 194.0h0M703.3 167.5h0M792.7 27.1h0M793.0 96.6h0M668.3 125.2h0M717.5 36.9h0M840.3 152.0h0M765.0 190.9h0M888.6 103.6h0M799.5 238.9h0M733.4 125.7h0M789.3 102.3h0M808.2 212.3h0M887.4 115.7h0M737.7 207.2h0M844.5 80.0h0M778.4 73.1h0M798.8 63.1h0M683.6 77.6h0M687.8 86.6h0M749.1 89.4h0M902.1 206.2h0M732.1 242.5h0M788.3 13.3h0M785.0 31.1h0M735.5 256.9h0M800.9 263.1h0M778.1 95.3h0M724.0 73.1h0M861.9 161.6h0M884.6 132.9h0M887.0 241.4h0M684.4 181.5h0M684.6 100.4h0M698.0 172.4h0M697.2 32.0h0M852.8 184.1h0M880.8 243.5h0M847.0 222.9h0M739.0 127.3h0M804.3 111.9h0" stroke="#300a06" stroke-width="5.5" stroke-linecap="round" fill="none" stroke-opacity="0.8"/>
<path d="M783.2 133.5h0M797.2 19.3h0M703.3 208.2h0M885.7 62.8h0M694.1 69.7h0M889.2 123.6h0M914.7 137.3h0M695.1 206.5h0M696.1 188.8h0M919.0 201.2h0M872.6 119.0h0M681.5 67.5h0M884.1 212.6h0M811.7 61.4h0M787.1 220.3h0M693.3 242.0h0M685.5 195.3h0M670.2 229.6h0M745.7 151.5h0M676.7 181.2h0M919.3 87.3h0M878.8 48.4h0M674.9 181.3h0M734.5 193.5h0M682.2 43.7h0M746.0 143.0h0M726.7 42.0h0M694.0 103.8h0M681.4 148.9h0M673.1 143.4h0M746.2 19.6h0M671.2 159.3h0M846.7 55.8h0M810.9 31.3h0M784.1 219.7h0M713.7 129.1h0M895.3 78.4h0M864.7 29.4h0M735.3 209.4h0M886.4 84.3h0M770.2 94.8h0M714.5 94.3h0M879.1 157.3h0M880.2 156.4h0M837.9 152.3h0M719.6 135.8h0M753.2 68.4h0M746.0 246.3h0M910.5 258.7h0M804.2 80.4h0M758.5 85.8h0M910.4 231.9h0M865.9 143.4h0M789.0 198.9h0M892.0 194.0h0M906.6 164.8h0M879.1 165.7h0M805.4 221.0h0M779.2 226.8h0M731.2 260.6h0M851.7 59.7h0M839.7 83.8h0M690.3 43.4h0M775.9 253.7h0M726.0 149.3h0M777.5 53.3h0M842.5 87.7h0M677.1 228.3h0M859.5 21.4h0M780.7 91.6h0M832.6 90.2h0M843.5 21.2h0M896.6 176.0h0M766.9 220.2h0M854.0 90.1h0M688.5 173.9h0M773.6 232.8h0M703.8 223.4h0M880.3 62.2h0M730.6 167.6h0M738.0 134.8h0M801.1 110.6h0M697.1 82.6h0M871.9 215.3h0M691.4 188.0h0M889.3 166.7h0M910.0 161.2h0M784.8 112.8h0M814.1 179.7h0M918.1 47.9h0M748.4 239.6h0M840.2 88.7h0M808.8 25.6h0M703.8 19.3h0M880.7 44.5h0M760.4 94.2h0M842.8 28.3h0M667.9 53.7h0M810.1 100.5h0M685.0 83.1h0M733.0 196.7h0M847.1 14.6h0M878.0 36.9h0M767.3 118.6h0M673.2 37.2h0M854.3 186.7h0M866.3 259.0h0M891.6 86.9h0M832.7 179.3h0M723.4 205.1h0M897.0 161.7h0M864.4 81.8h0M880.5 94.6h0M742.9 154.7h0M821.2 129.4h0M877.2 203.8h0M799.3 237.0h0M767.6 109.7h0M915.0 90.3h0M699.5 229.6h0M841.0 92.1h0M870.9 184.1h0M780.7 145.9h0M907.3 148.6h0M692.0 122.5h0M742.9 256.4h0M776.8 112.5h0M860.4 206.6h0M685.9 184.6h0M903.2 159.0h0M736.1 249.6h0M682.1 135.6h0M715.9 152.3h0M767.7 236.4h0M684.1 129.2h0M739.0 37.5h0M880.5 176.7h0M755.1 146.5h0M779.4 24.8h0M749.5 18.1h0M690.8 228.2h0M864.4 85.8h0M670.1 236.5h0M682.8 72.2h0M881.5 157.3h0M777.2 210.6h0M899.2 158.1h0M900.0 27.1h0M797.8 186.2h0M880.9 132.0h0M825.6 83.8h0M851.3 158.4h0M917.4 145.5h0M714.6 213.7h0M780.3 43.1h0M910.4 137.0h0M708.3 61.3h0M730.3 248.2h0M872.3 18.4h0M843.9 94.0h0M776.9 200.8h0M740.1 84.6h0M902.4 212.4h0M877.1 200.8h0M909.8 203.8h0M855.3 84.4h0M844.9 250.8h0M810.8 194.4h0M710.2 129.2h0M800.3 197.5h0M797.6 70.3h0M916.4 134.0h0M695.7 226.1h0M758.6 254.4h0M673.4 205.6h0M838.5 193.7h0M674.9 139.3h0M793.9 86.5h0M688.1 167.4h0M758.7 263.2h0M725.2 110.1h0M833.1 44.0h0M703.8 32.2h0M881.3 211.8h0M695.7 81.8h0M834.2 24.3h0M681.0 58.1h0M863.2 73.4h0M855.7 51.5h0M826.9 183.1h0M828.2 54.3h0M784.0 74.5h0M747.8 95.0h0M896.9 57.3h0M766.2 210.8h0M685.8 209.7h0M895.8 169.1h0M901.0 126.6h0M863.7 266.0h0M791.6 126.1h0M908.0 188.6h0M793.9 111.4h0M848.0 259.9h0M793.7 128.9h0M794.7 19.9h0M875.2 195.9h0M825.2 189.1h0M871.3 121.1h0M811.1 71.4h0M807.3 177.0h0M808.8 59.8h0M736.4 19.6h0M772.6 158.3h0M755.6 181.8h0M763.3 130.5h0M716.9 146.5h0M720.7 66.3h0M774.7 173.5h0M796.5 68.1h0M810.7 190.4h0M719.7 40.5h0M886.3 97.6h0M808.4 135.2h0M795.8 90.4h0M704.1 189.3h0M838.3 250.6h0M792.2 228.4h0M793.6 263.9h0M708.1 86.7h0M861.5 118.1h0M808.9 237.7h0M719.9 26.3h0M670.0 168.7h0M906.2 71.1h0M794.2 119.6h0M791.1 221.5h0M890.9 159.9h0M785.9 243.1h0M778.4 87.5h0M787.3 179.8h0M725.3 201.3h0M760.7 24.9h0M843.2 237.4h0M896.9 262.3h0M677.7 260.2h0M894.7 238.8h0M667.6 182.3h0M715.8 241.5h0M735.7 24.1h0M815.0 187.8h0M801.2 115.4h0M682.9 195.7h0M667.7 158.6h0M690.4 126.7h0M813.7 72.8h0M857.5 75.4h0M885.9 110.6h0M840.4 125.6h0M747.0 33.3h0M821.2 22.7h0M784.8 114.1h0M739.9 74.2h0M789.5 236.4h0M867.6 88.5h0M816.9 171.8h0M849.4 170.4h0M681.7 46.3h0M866.2 77.0h0M810.2 23.1h0M813.4 83.6h0M676.3 13.2h0M726.3 142.3h0M857.0 17.3h0M794.7 95.7h0M820.1 190.1h0M687.0 73.1h0M886.7 180.4h0M708.1 148.0h0M758.1 49.2h0M769.0 146.0h0M832.8 236.9h0M735.3 264.0h0M759.2 176.2h0M766.2 125.1h0M840.4 200.5h0M683.0 15.2h0M753.9 91.2h0M779.0 252.8h0M742.2 68.0h0M775.3 95.2h0M770.3 144.8h0M694.4 204.2h0M826.7 203.5h0M777.7 54.6h0M854.5 234.1h0M892.5 195.4h0M697.5 84.9h0M841.2 19.7h0M737.6 109.0h0M868.2 16.4h0M735.3 173.5h0M666.8 88.9h0M852.8 129.2h0M854.5 72.6h0M847.1 49.8h0M825.7 212.8h0M681.5 81.8h0M749.8 237.1h0M683.1 115.3h0M918.8 33.1h0M908.6 28.2h0M803.8 125.1h0M839.5 83.0h0M785.6 232.7h0M707.0 240.0h0M689.8 54.3h0M722.6 148.0h0M744.5 130.6h0M680.8 87.1h0M666.9 40.8h0M833.1 152.9h0M783.2 15.9h0M858.6 34.7h0M843.4 114.2h0M887.5 34.5h0M755.0 20.2h0M904.1 167.9h0M751.8 50.9h0M892.3 101.0h0M697.6 130.1h0" stroke="#7a1e12" stroke-width="2.0" stroke-linecap="round" fill="none"/>
<path d="M758.1 220.3h0M680.9 206.8h0M891.7 25.0h0M838.5 196.4h0M858.4 233.1h0M784.5 176.1h0M814.9 123.1h0M699.6 149.2h0M799.6 98.4h0M851.1 237.9h0M795.1 106.9h0M795.2 199.4h0M742.3 222.0h0M833.7 190.4h0M817.1 26.8h0M830.1 232.7h0M835.6 226.3h0M702.6 126.6h0M848.2 253.3h0M686.8 62.2h0M726.4 74.9h0M830.5 115.1h0M900.5 183.3h0M842.6 242.8h0M884.6 16.7h0M773.4 176.8h0M849.7 242.2h0M717.7 137.1h0M894.5 57.3h0M676.5 118.7h0M710.0 18.1h0M765.8 173.1h0M829.5 230.0h0M737.3 80.6h0M895.4 23.6h0M817.1 44.6h0M858.6 39.4h0M878.4 84.5h0M902.5 172.1h0M861.6 61.7h0M836.5 178.5h0M767.4 152.3h0M802.1 226.2h0M919.5 220.6h0M792.4 35.4h0M826.5 260.0h0M720.2 44.1h0M714.0 32.4h0M795.9 61.3h0M890.9 239.0h0M887.2 146.6h0M779.7 181.1h0M768.8 154.7h0M681.5 150.9h0M808.2 65.3h0M711.4 122.1h0M894.6 265.2h0M846.0 94.0h0M749.3 247.9h0M733.4 163.4h0" stroke="#b02c16" stroke-width="2.4" stroke-linecap="round" fill="none"/>
<path d="M849.3 82.0h0M901.4 73.9h0M917.9 191.3h0M799.8 158.1h0M892.6 230.3h0M676.5 91.4h0M667.9 118.2h0M845.1 109.7h0M808.8 51.5h0M717.9 94.9h0M730.5 193.0h0M864.1 88.9h0M878.7 99.8h0M877.3 190.1h0M792.9 207.4h0M866.3 66.2h0M894.2 97.5h0M681.5 264.9h0M918.0 180.3h0M676.7 12.5h0M864.4 187.5h0M879.7 256.6h0M825.2 218.7h0M758.7 114.1h0M822.5 88.7h0M832.1 236.8h0M779.5 238.7h0M859.9 76.6h0M682.9 90.8h0M817.2 159.1h0M706.9 185.9h0M746.6 108.2h0M694.3 192.3h0M729.0 61.7h0M893.4 95.3h0M871.0 24.4h0M793.8 175.7h0M844.8 129.0h0M709.5 149.4h0M890.3 85.3h0M769.0 180.4h0M755.0 176.7h0M771.8 51.6h0M787.2 25.3h0M686.0 120.2h0M752.4 216.2h0M679.2 98.7h0M818.9 156.3h0M823.3 158.0h0M911.0 67.1h0M794.3 28.8h0M860.0 150.7h0M911.3 39.1h0M802.5 78.5h0M772.4 248.4h0M724.1 43.5h0M768.3 79.2h0M861.5 193.1h0M732.6 225.5h0M725.4 25.7h0M709.0 158.0h0M862.3 194.2h0M706.4 110.6h0M874.0 172.7h0M860.9 48.7h0M869.7 53.5h0M673.4 133.0h0M830.0 172.7h0M789.3 56.4h0M809.9 131.5h0M665.8 77.2h0M763.3 198.1h0M913.2 261.3h0M810.1 100.3h0M883.7 215.4h0M909.9 75.1h0M919.4 162.0h0M829.6 69.7h0M900.2 46.7h0M841.2 248.0h0M869.8 64.4h0M914.9 226.1h0M918.9 215.6h0M907.1 65.6h0M719.6 71.0h0M786.6 55.7h0M895.5 224.2h0M752.6 75.4h0M700.2 62.7h0M735.1 90.3h0M844.6 24.9h0M807.7 217.9h0M727.0 172.3h0M732.7 239.9h0M793.0 103.9h0M900.3 141.7h0M763.1 57.6h0M693.4 90.0h0M671.7 232.7h0M893.9 226.0h0M788.3 100.4h0M738.8 44.7h0M738.8 89.2h0M793.6 58.4h0M799.0 137.7h0M701.4 158.4h0M896.0 203.8h0M803.4 73.0h0M847.8 70.9h0M881.4 80.9h0M714.9 209.9h0M719.2 81.4h0M842.9 108.1h0M765.9 245.1h0M886.3 264.9h0M807.7 106.8h0M815.7 114.7h0M911.3 77.3h0M875.9 212.1h0M736.6 210.4h0M841.8 214.7h0M797.0 46.1h0M788.4 255.4h0M896.4 91.7h0M830.6 16.8h0M848.9 159.5h0M764.5 79.3h0M686.7 70.9h0M774.6 118.8h0M704.9 188.4h0M668.2 55.4h0M737.9 54.9h0M872.3 254.5h0M785.2 95.7h0M880.1 204.5h0M831.0 247.2h0M684.4 161.9h0M733.8 258.5h0M682.1 237.3h0M898.6 24.2h0M890.7 139.7h0M894.5 130.0h0M914.8 90.7h0M714.6 172.4h0M913.8 75.2h0M840.3 77.7h0M760.2 167.7h0M861.4 136.9h0M902.3 177.9h0M674.6 167.8h0M674.5 71.6h0M801.7 114.7h0M840.1 114.5h0M871.6 151.9h0M816.4 167.7h0M793.4 146.6h0M667.2 47.8h0M745.1 68.2h0M714.5 187.8h0M778.1 51.0h0M832.2 54.8h0M741.8 61.1h0M838.0 139.2h0M669.0 191.2h0M711.2 76.7h0M691.8 163.0h0M807.2 74.1h0M918.8 112.1h0M699.6 215.7h0M796.0 129.3h0M819.7 131.4h0M775.7 20.7h0M868.6 151.2h0M847.1 24.5h0M785.9 97.6h0M799.4 188.4h0M730.8 198.6h0M842.6 27.7h0M884.0 170.5h0M734.0 239.4h0M676.8 157.4h0M882.6 196.1h0M897.9 134.5h0M898.1 21.3h0M875.7 58.8h0M830.2 264.8h0M792.5 227.3h0M839.1 227.2h0M666.6 134.7h0M831.1 196.2h0M904.4 56.0h0M798.9 169.6h0M767.1 245.9h0M793.9 28.4h0M828.8 201.3h0M843.5 135.4h0M784.6 229.4h0M844.3 191.0h0M873.9 36.0h0M843.6 229.7h0" stroke="#1f5a1a" stroke-width="3.2" stroke-linecap="round" fill="none"/>
<path d="M852.1 252.6h0M766.2 204.1h0M860.2 201.8h0M796.4 133.5h0M900.1 65.8h0M746.4 52.9h0M880.4 224.7h0M756.4 112.4h0M866.1 174.2h0M775.3 254.4h0M800.5 33.6h0M759.1 100.4h0M704.1 170.6h0M806.3 190.6h0M896.5 64.0h0M736.2 173.8h0M853.3 187.1h0M679.4 212.6h0M727.3 28.2h0M911.8 38.9h0M906.5 64.2h0M718.1 244.8h0M851.0 256.3h0M675.6 185.2h0M776.1 80.7h0M774.2 216.0h0M784.3 249.3h0M904.0 165.2h0M696.3 43.4h0M802.7 222.7h0M920.0 194.3h0M665.8 242.9h0M816.2 42.3h0M844.0 251.1h0M735.2 157.2h0M825.5 165.2h0M751.4 150.9h0M899.9 151.4h0M708.5 156.6h0M855.1 29.4h0M885.0 131.9h0M720.2 66.8h0M686.0 228.3h0M874.0 116.1h0M916.5 66.8h0M666.4 223.1h0M859.1 56.2h0M746.8 30.0h0M807.2 146.4h0M826.4 226.4h0M881.1 97.8h0M772.4 48.6h0M814.1 109.3h0M842.6 87.7h0M757.3 176.9h0M703.8 70.4h0M807.5 180.7h0M696.6 115.1h0M780.9 114.0h0M683.0 186.1h0M843.2 72.9h0M854.2 11.9h0M746.5 66.5h0M886.6 189.5h0M855.2 45.9h0M712.5 129.0h0M820.2 74.8h0M884.9 197.6h0M911.3 46.6h0M785.5 103.9h0M766.5 35.1h0M895.7 41.5h0M678.7 13.8h0M866.9 233.3h0M747.9 58.4h0M736.9 120.6h0M853.9 198.7h0M902.0 251.4h0M863.9 109.0h0M671.8 65.0h0M906.0 179.8h0M873.7 24.1h0M865.5 81.6h0M740.6 121.8h0M877.7 191.8h0M917.0 10.9h0M776.7 168.8h0M779.5 109.7h0M893.9 140.5h0M704.3 109.3h0M766.5 83.0h0M691.0 225.1h0M843.4 260.0h0M841.0 137.9h0M899.9 167.7h0M890.8 238.3h0M788.8 64.0h0M753.1 236.8h0M772.0 111.0h0M721.8 208.1h0M666.0 232.8h0M706.7 64.5h0M813.7 202.4h0M788.2 183.2h0M675.7 168.0h0M814.2 28.7h0M912.1 163.3h0M797.9 228.2h0M842.9 31.6h0M745.4 246.6h0M693.0 171.0h0M886.5 185.0h0M826.8 19.1h0M737.9 70.5h0M731.7 180.1h0M747.5 13.8h0M679.0 115.5h0M775.4 152.9h0M746.0 215.5h0M902.1 240.7h0M905.1 106.7h0M779.5 234.9h0M708.3 241.0h0M873.2 88.5h0M666.4 145.6h0M715.6 57.7h0M763.1 114.0h0M870.4 209.8h0M767.4 99.3h0M762.3 144.5h0M788.5 155.8h0M898.7 101.5h0M808.3 58.7h0M810.5 159.4h0M837.6 125.4h0M700.6 99.8h0M735.5 57.6h0M901.1 190.3h0M734.9 87.6h0M791.8 114.3h0M772.3 31.1h0M900.5 230.8h0M817.6 148.3h0M762.0 197.0h0M730.8 103.3h0M716.5 95.4h0M797.8 50.4h0M853.8 169.3h0M758.3 94.5h0M811.1 149.4h0M879.6 215.6h0M851.3 158.7h0M725.6 123.1h0M893.3 211.0h0M855.2 237.2h0M878.5 75.0h0M896.5 259.9h0M815.9 158.4h0M894.3 130.0h0M887.0 122.9h0M778.7 136.8h0M817.6 16.6h0M723.9 227.7h0M674.2 238.2h0M901.3 129.7h0M891.4 242.2h0M763.3 209.2h0M718.3 111.3h0M709.7 88.6h0M914.0 173.6h0M748.5 34.0h0M883.0 249.6h0M917.1 22.2h0M867.1 87.9h0M715.4 136.2h0M704.2 103.4h0M707.9 194.3h0M791.0 134.9h0M894.4 161.4h0M795.8 231.3h0M815.2 241.2h0M829.6 196.1h0M800.1 38.7h0M814.2 235.4h0M857.4 256.0h0M730.7 231.1h0M707.9 12.8h0M675.3 62.7h0M757.7 48.0h0M861.1 251.2h0M804.5 151.7h0M877.2 222.0h0M783.9 51.5h0M684.4 221.2h0M777.9 53.9h0M775.0 156.6h0M898.9 204.8h0M768.2 160.3h0M670.8 51.0h0M777.3 161.5h0M838.2 246.4h0M701.4 81.6h0M714.0 221.7h0M824.0 212.4h0M682.1 132.2h0M831.8 66.4h0M801.5 19.8h0M830.2 164.4h0M804.4 102.9h0M724.3 263.8h0M798.8 191.5h0M791.2 238.9h0M707.5 134.4h0M844.0 53.9h0M702.2 135.3h0M802.2 234.2h0M829.1 70.0h0M749.2 224.0h0M747.2 164.3h0M847.7 49.2h0M776.2 231.1h0M832.8 231.2h0M882.4 144.9h0M799.9 242.5h0M736.7 212.0h0M731.2 70.7h0M679.4 110.6h0M823.7 32.0h0M745.3 144.0h0M669.0 81.4h0M873.1 35.5h0M724.2 55.4h0M835.9 155.4h0M753.4 217.2h0M804.3 248.8h0M753.1 123.8h0M877.4 88.8h0M860.0 210.6h0M886.8 54.2h0M909.5 232.8h0M754.1 10.1h0M920.0 239.7h0M828.3 260.3h0M705.4 88.2h0M766.1 52.1h0M710.6 231.1h0M795.7 114.5h0M769.6 189.9h0M844.3 112.4h0M691.9 92.8h0M742.2 55.5h0M814.8 255.6h0M812.9 22.8h0M701.1 250.2h0M914.2 106.8h0M781.1 78.4h0M814.6 191.6h0M806.1 20.0h0M750.8 199.5h0M717.9 216.5h0M821.7 175.2h0M745.9 44.8h0M842.5 202.1h0M735.4 114.5h0M882.2 52.4h0M690.6 251.5h0M668.4 63.8h0M670.9 125.9h0M842.5 66.4h0M698.1 138.9h0M720.0 156.2h0M873.3 77.6h0M833.6 265.2h0M721.9 188.3h0M683.6 246.8h0M833.8 191.9h0M676.2 108.2h0M857.6 155.4h0M719.5 232.5h0M829.8 73.5h0M754.4 181.5h0M828.4 120.7h0M835.0 25.1h0M723.9 34.1h0M840.4 195.1h0M845.2 171.5h0M751.1 139.8h0M871.9 43.9h0M737.2 200.9h0M885.3 34.4h0M861.0 71.4h0M898.1 34.9h0M917.7 81.1h0M730.6 223.2h0M750.9 51.2h0M742.8 250.1h0M806.1 134.9h0M808.6 37.6h0M809.5 192.8h0M666.2 57.4h0M901.7 136.4h0M732.8 166.9h0M765.9 22.6h0M908.3 98.7h0M871.4 102.5h0M913.4 241.4h0M679.3 249.1h0M817.7 46.6h0M749.1 183.0h0M903.5 210.7h0M752.8 134.4h0M861.8 161.6h0M801.8 24.6h0M708.6 43.7h0M807.0 51.6h0M708.1 168.2h0M913.0 57.8h0M801.0 61.7h0M681.0 261.8h0M863.8 217.5h0M831.9 27.4h0M756.3 263.3h0M787.2 192.5h0M909.6 193.1h0M711.7 244.3h0M853.6 71.1h0M676.2 92.7h0M774.0 73.6h0M762.3 127.4h0M720.1 238.6h0M828.8 254.9h0M823.1 58.0h0M682.8 84.6h0M873.4 246.9h0M859.5 141.9h0M668.0 210.1h0M696.2 15.1h0M782.5 72.1h0M883.3 27.0h0M789.6 128.6h0M835.1 60.9h0M815.5 73.1h0M767.3 67.3h0M875.1 142.0h0M669.7 133.4h0M881.5 36.7h0M879.8 181.9h0M673.6 115.3h0M858.0 168.5h0M762.4 224.3h0M700.0 229.1h0M876.8 133.8h0M870.1 83.4h0M769.4 207.8h0M839.8 23.9h0M758.4 210.3h0M786.6 172.0h0M718.1 88.7h0M784.4 164.6h0M774.1 210.1h0M758.4 70.5h0M742.7 131.8h0M881.8 200.6h0M721.0 257.5h0M891.7 174.3h0M837.2 166.5h0M676.7 144.4h0M880.5 117.8h0M776.1 60.2h0M770.5 13.6h0M883.1 228.4h0M686.5 101.0h0M728.3 177.1h0M796.0 153.0h0M884.8 157.2h0M811.2 197.3h0M725.0 200.7h0M897.7 91.1h0M746.0 155.9h0M680.4 144.1h0M691.8 161.7h0M906.6 14.2h0M751.4 13.8h0M753.2 97.1h0M666.9 46.6h0M823.6 134.3h0M840.4 101.3h0M862.1 86.6h0M790.4 28.2h0M746.7 138.9h0M853.4 82.0h0M893.2 250.2h0M855.1 138.5h0M879.3 122.0h0M761.4 259.7h0M717.0 51.6h0M884.4 245.0h0M908.2 153.1h0M676.5 19.3h0M726.7 254.9h0M750.0 253.3h0M762.2 20.3h0M865.1 197.0h0M752.9 110.8h0M697.1 170.5h0M886.2 30.9h0M761.4 60.5h0M758.7 201.9h0M847.2 233.5h0M798.0 221.0h0M736.1 38.0h0M828.0 245.6h0M744.1 12.4h0M752.0 116.4h0M818.8 55.3h0M678.0 238.7h0M806.4 120.0h0M864.1 32.2h0M839.6 225.0h0M900.3 49.7h0M827.4 137.2h0M792.9 174.0h0M812.9 182.1h0M729.2 204.7h0M778.9 74.7h0M706.4 203.3h0M900.0 234.6h0M866.3 257.4h0M913.0 147.8h0M850.7 30.3h0M673.5 37.7h0M824.7 253.9h0M786.2 245.1h0M715.6 188.6h0M828.1 44.4h0M744.4 194.1h0M793.6 222.2h0M877.6 229.9h0M827.9 233.9h0M756.7 118.0h0M882.1 235.4h0M918.0 49.5h0M737.8 92.9h0M786.1 222.7h0M841.3 232.7h0M702.4 232.6h0M869.9 214.6h0M852.7 122.5h0M915.8 143.3h0M912.9 155.5h0M863.0 190.3h0M891.1 23.0h0M884.3 65.9h0M750.8 227.7h0M775.6 200.8h0M701.6 192.4h0M790.0 255.9h0M773.7 107.6h0M744.1 61.6h0M826.1 50.0h0M705.3 247.1h0M847.2 106.8h0M686.0 91.1h0M713.7 28.3h0M748.9 109.1h0M851.3 259.0h0M720.1 55.5h0M848.6 154.8h0M708.8 118.8h0M765.3 134.4h0M857.2 226.0h0M874.0 138.1h0M855.9 263.4h0M906.7 143.3h0M881.3 47.1h0M782.5 157.7h0M903.6 95.9h0M768.8 223.1h0M895.8 9.5h0M777.9 215.8h0M797.8 97.7h0M692.5 185.0h0M821.0 43.1h0M807.0 207.5h0M844.0 93.6h0M845.6 180.2h0M776.5 117.8h0M783.1 97.5h0M682.5 64.3h0M772.3 69.2h0M809.8 100.3h0M829.0 63.4h0M904.9 204.3h0M888.9 145.6h0M791.7 124.7h0M682.9 119.0h0M919.5 30.3h0M800.5 89.5h0M894.4 234.1h0M818.5 187.7h0M819.1 77.4h0M838.2 133.1h0M734.3 229.5h0M840.7 186.2h0M755.1 89.5h0M841.4 155.1h0M683.7 44.4h0M843.0 15.3h0M789.3 38.0h0M840.3 86.0h0M823.3 103.0h0M875.0 18.8h0M913.5 191.0h0M667.0 29.5h0M787.2 239.9h0M869.5 51.4h0M725.5 208.3h0M873.3 15.1h0M810.4 210.4h0M843.5 145.0h0M885.9 186.6h0M730.0 156.0h0M890.1 34.2h0M724.0 99.7h0M817.0 61.8h0M688.4 194.4h0M784.7 57.5h0M912.7 14.6h0M840.2 241.5h0M854.4 129.7h0M706.6 254.3h0M801.5 109.9h0M781.8 258.3h0M694.4 195.5h0M702.0 75.8h0M728.3 182.9h0M826.2 81.8h0M679.2 118.9h0M755.8 206.3h0M883.6 220.5h0M764.3 239.4h0M858.1 147.6h0M896.8 28.1h0M833.7 255.8h0M887.8 176.1h0M905.8 76.6h0M729.4 13.0h0M687.8 224.8h0M744.4 105.8h0M907.0 71.7h0M889.3 99.3h0M881.4 253.8h0M746.9 79.4h0M860.6 200.5h0M898.9 21.6h0M909.0 64.3h0M859.7 120.1h0M832.1 54.9h0M701.9 214.2h0M803.3 222.4h0M682.7 53.7h0M851.1 142.7h0M804.3 73.8h0M728.9 172.7h0M917.6 100.0h0M722.3 175.5h0M840.6 182.5h0M773.5 219.7h0M737.9 225.3h0M899.8 258.2h0M800.7 67.2h0M836.6 17.6h0M888.3 19.9h0M903.6 120.4h0M745.8 159.8h0M918.1 231.7h0M776.8 137.8h0M696.1 160.2h0M784.7 24.9h0M757.5 148.2h0M749.4 90.9h0M774.8 29.2h0M801.8 238.9h0M771.5 165.7h0M678.5 14.8h0M739.8 234.5h0M673.8 158.9h0M701.9 10.3h0M703.2 184.7h0M854.9 177.2h0M767.6 241.4h0M805.7 65.6h0M675.2 118.8h0M826.7 209.3h0M690.5 111.3h0M768.3 140.7h0M678.8 159.6h0M882.9 177.4h0M780.8 39.3h0M768.1 60.5h0" stroke="#2b8a24" stroke-width="3.8" stroke-linecap="round" fill="none"/>
<path d="M789.8 244.8h0M892.4 158.8h0M716.8 266.5h0M765.7 98.1h0M735.7 72.8h0M674.8 109.5h0M766.6 237.6h0M847.3 148.4h0M909.0 63.1h0M798.7 259.8h0M670.8 53.9h0M703.5 53.5h0M789.6 168.9h0M916.3 104.0h0M906.8 60.1h0M688.1 177.1h0M877.9 170.4h0M749.1 141.7h0M896.8 91.9h0M898.8 168.6h0M726.3 53.0h0M819.0 172.9h0M811.5 74.4h0M772.0 189.5h0M780.4 28.2h0M833.7 59.2h0M894.0 102.1h0M800.1 204.5h0M811.0 45.1h0M785.5 31.4h0M892.5 174.6h0M747.8 251.3h0M719.8 190.5h0M742.2 64.3h0M720.3 158.1h0M856.6 95.5h0M900.6 150.9h0M804.2 204.7h0M899.1 230.8h0M674.1 213.6h0M712.9 197.7h0M678.2 57.0h0M758.6 58.2h0M831.5 164.0h0M822.4 254.1h0M681.8 150.0h0M697.6 85.0h0M769.5 206.0h0M851.1 144.5h0M862.6 112.8h0M749.2 125.6h0M890.8 203.4h0M787.8 108.0h0M773.3 86.4h0M797.8 12.7h0M904.2 66.6h0M729.5 234.6h0M686.9 134.9h0M723.1 55.0h0M715.9 58.1h0M764.1 231.2h0M904.6 178.7h0M742.8 96.7h0M730.2 99.6h0M871.8 95.2h0M861.9 137.4h0M668.8 120.3h0M778.9 187.4h0M728.3 87.8h0M713.9 209.0h0M676.2 219.5h0M805.4 182.5h0M765.6 191.5h0M837.8 181.0h0M867.6 260.3h0M723.1 49.8h0M794.8 60.4h0M830.2 212.3h0M842.1 72.7h0M800.2 255.5h0M833.5 115.7h0M672.3 222.8h0M830.0 131.9h0M872.5 249.9h0M710.5 118.6h0M824.2 14.4h0M788.6 230.7h0M734.3 160.2h0M839.4 214.1h0M877.0 180.3h0M856.0 32.6h0M727.0 237.4h0M761.4 123.8h0M761.0 29.3h0M796.2 107.9h0M680.2 223.0h0M710.4 28.9h0M914.8 222.8h0M723.4 235.7h0M885.5 60.1h0M861.7 34.2h0M872.0 105.0h0M728.2 248.8h0M770.7 168.9h0M876.3 242.2h0M809.4 224.4h0M783.0 266.6h0M816.6 46.1h0M803.9 196.0h0M732.1 209.0h0M841.7 199.2h0M813.8 131.3h0M805.7 125.9h0M726.4 97.7h0M804.0 64.9h0M811.0 19.9h0M718.2 75.6h0M676.0 16.8h0M788.3 165.3h0M830.0 246.2h0" stroke="#329a2a" stroke-width="4.5" stroke-linecap="round" fill="none"/>
<path d="M766.4 161.4h0M697.6 77.0h0M680.3 238.3h0M859.1 192.2h0M897.0 201.5h0M909.3 216.3h0M703.0 107.0h0M765.9 148.8h0M861.5 180.1h0M774.1 186.0h0M906.1 29.0h0M699.1 90.1h0M710.1 217.2h0M877.2 61.5h0" stroke="#40e840" stroke-width="3.6" stroke-linecap="round" fill="none"/>
</g>
<rect x="846.50" y="238.30" width="53.50" height="8.70" fill="#fff"/>
<text transform="translate(669.06,27.80) scale(0.9425,1)" font-size="20.3" font-weight="bold" font-style="normal" fill="#fff">Average projection</text>
<text transform="translate(365.30,319.40)" font-size="25.5" font-weight="bold" font-style="normal" fill="#000">d</text>
<rect x="404.40" y="306.50" width="255.20" height="253.10" fill="#010a02"/>
<clipPath id="cd1"><rect x="404.40" y="306.50" width="255.20" height="253.10"/></clipPath>
<g clip-path="url(#cd1)" filter="url(#b2)">
<path d="M420.6 419.3h0M452.8 460.0h0M646.4 424.4h0M549.9 466.9h0M432.8 553.5h0M438.5 388.9h0M555.2 434.2h0M408.6 381.0h0M574.9 390.6h0M417.9 492.8h0M427.6 358.5h0M448.5 558.6h0M551.8 424.0h0M590.4 457.5h0M639.9 359.7h0M477.1 437.3h0M470.0 473.9h0M498.6 317.4h0M529.9 337.6h0M594.0 489.1h0M590.2 355.6h0M524.5 352.8h0M584.4 306.5h0M610.5 554.3h0M613.9 482.5h0M559.7 421.5h0M548.6 434.7h0M497.7 444.0h0M437.3 325.0h0M480.2 550.1h0M561.6 539.6h0M587.7 501.6h0M533.0 461.4h0M412.1 331.1h0M408.2 417.1h0M414.2 347.9h0M430.5 544.2h0M480.4 364.8h0M611.5 459.5h0M487.2 373.1h0M633.1 349.8h0M415.6 411.0h0M582.2 480.6h0M427.9 416.3h0M547.3 489.6h0M582.6 418.7h0M596.5 432.1h0M434.3 343.0h0M436.2 480.0h0M408.5 363.4h0M657.0 520.4h0M532.8 328.7h0M500.0 360.2h0M469.7 435.3h0M628.8 338.0h0M566.5 340.2h0M442.1 437.2h0M609.8 376.1h0M563.6 537.3h0M551.9 399.8h0M481.6 495.9h0M576.3 473.2h0M572.8 467.2h0M530.2 551.9h0M431.6 319.9h0M530.3 538.5h0M515.2 536.2h0M512.8 438.7h0M592.9 541.9h0" stroke="#0f5a14" stroke-width="3.4" stroke-linecap="round" fill="none"/>
<path d="M532.5 414.3h0M645.8 408.9h0M562.0 447.1h0M555.9 321.0h0M569.7 464.4h0M632.8 525.0h0M571.9 450.8h0M594.3 358.9h0M409.1 480.2h0M504.6 409.2h0M443.5 356.1h0M547.4 410.4h0M647.9 447.0h0M482.7 391.9h0M409.5 508.8h0M405.0 495.7h0M421.0 342.2h0M469.0 379.1h0M436.4 409.0h0M420.3 322.3h0M427.7 381.8h0M422.7 468.0h0M543.3 519.6h0M413.8 466.8h0M438.7 553.9h0M445.8 366.7h0M645.0 530.3h0M616.1 309.7h0M414.5 312.0h0M537.8 543.0h0M442.1 386.9h0M528.6 447.9h0M643.7 378.4h0M494.2 481.4h0M500.2 386.8h0M544.9 356.9h0M492.6 555.3h0M428.7 358.4h0M564.0 379.3h0M533.4 482.2h0M443.9 349.4h0M461.4 488.1h0M560.5 558.1h0M492.0 432.6h0M450.7 551.2h0M582.7 470.5h0M452.3 511.4h0M618.1 340.2h0M438.6 526.1h0M541.4 498.1h0M643.5 503.0h0M585.0 466.0h0M626.3 490.2h0M484.0 461.3h0M560.6 549.2h0M654.3 436.5h0M520.0 473.0h0M534.6 419.2h0M452.4 349.5h0M542.5 410.5h0M536.0 492.9h0M446.9 373.8h0M605.1 384.2h0M494.7 534.8h0M408.2 399.6h0M643.1 535.4h0M534.4 450.8h0M558.9 490.8h0M605.9 525.7h0M586.7 412.3h0M535.6 497.5h0M638.4 475.8h0M408.6 488.1h0M429.7 447.1h0M469.8 398.7h0M617.2 388.8h0M634.5 465.5h0M638.2 308.9h0M432.7 361.7h0M632.1 550.4h0M448.5 378.9h0M524.3 364.2h0M458.5 352.9h0M610.4 341.7h0M557.4 523.6h0M460.4 414.8h0M408.6 336.1h0M514.9 462.8h0M456.6 539.0h0M550.6 559.2h0M529.8 455.5h0M576.4 468.7h0M552.4 462.2h0M470.3 490.6h0M595.6 459.5h0M493.1 397.3h0M474.9 316.9h0M544.1 527.0h0M543.7 554.6h0M552.1 315.1h0M559.2 312.8h0M623.5 405.1h0M453.2 324.3h0M439.7 362.8h0M621.0 393.4h0M625.8 542.6h0M657.5 386.9h0M599.3 477.8h0M443.3 504.1h0M563.6 333.5h0M511.5 381.4h0M452.3 309.0h0M571.7 381.3h0M482.8 467.6h0M652.0 345.1h0M463.9 506.0h0M509.6 344.4h0M605.7 326.4h0M627.5 389.3h0M598.2 404.0h0M541.9 380.2h0M619.9 398.9h0M433.0 542.9h0M514.4 411.4h0M449.8 507.2h0M597.1 508.0h0M449.9 399.5h0M577.5 331.5h0M597.9 392.5h0M404.7 393.7h0M637.1 398.3h0M485.8 334.9h0M501.9 330.8h0M407.3 469.5h0M607.6 407.1h0M644.1 433.1h0M527.1 428.7h0M631.3 436.3h0M517.0 534.5h0M412.0 418.2h0M427.2 399.2h0M621.3 552.4h0M489.9 466.0h0M462.4 317.7h0M410.9 460.0h0M550.5 514.8h0M422.4 494.9h0M545.6 514.3h0M631.5 335.5h0M643.6 354.5h0M570.6 347.6h0M519.9 397.0h0M450.9 494.2h0M516.2 490.3h0M641.1 550.1h0M520.1 315.1h0M470.5 333.0h0M546.4 330.8h0M644.8 424.8h0M469.2 311.9h0M554.2 510.3h0M622.9 463.3h0M543.5 311.5h0M504.9 556.8h0M449.5 515.9h0M568.2 477.5h0M526.2 408.0h0M602.8 489.8h0M536.3 306.8h0M516.1 370.7h0M425.1 437.4h0M479.5 525.4h0M442.9 444.8h0M495.2 313.8h0M625.8 314.1h0M541.7 368.1h0M530.8 317.9h0M623.1 308.3h0M414.8 442.5h0M425.8 389.9h0M597.8 412.7h0M577.1 372.1h0M649.2 325.7h0M562.3 358.9h0M405.4 551.5h0M581.3 508.8h0M404.5 480.1h0M572.8 354.1h0M423.6 481.2h0M509.9 397.0h0M638.9 524.1h0M455.6 496.2h0M409.7 379.9h0M453.2 433.0h0M482.0 363.9h0M596.8 366.8h0M564.7 455.9h0M637.7 353.2h0M434.2 494.0h0M496.6 505.5h0M480.6 329.5h0M637.2 498.5h0M654.1 557.9h0M465.0 373.8h0M604.7 482.0h0M461.6 479.5h0M499.6 546.3h0M619.7 334.9h0M545.3 348.4h0M626.3 551.0h0M591.9 500.6h0M658.1 398.1h0M611.7 429.5h0M620.4 538.2h0M496.9 340.3h0M599.4 527.8h0M511.7 401.5h0M570.0 549.3h0M436.2 512.0h0M608.1 453.2h0M615.5 455.2h0M417.4 462.9h0M653.9 399.3h0M410.0 406.1h0M553.9 371.3h0M480.0 511.8h0M467.7 352.5h0M482.4 355.5h0M591.9 525.0h0M462.8 523.2h0M506.0 529.4h0M474.9 479.6h0M468.2 444.6h0M550.4 428.3h0M457.5 311.9h0M579.1 379.0h0M482.4 319.1h0M549.2 356.6h0M468.1 416.2h0M594.3 551.0h0M535.0 389.1h0M554.9 431.3h0M418.8 306.6h0M405.6 374.3h0M616.2 511.3h0M479.6 543.7h0M514.1 454.9h0M595.3 335.2h0M451.3 521.9h0M470.7 494.8h0M519.5 388.3h0M645.9 469.3h0M464.2 545.5h0M567.2 360.7h0M509.7 337.8h0M406.2 441.4h0M617.1 503.3h0M622.6 476.7h0M640.8 519.1h0M509.5 490.5h0M404.9 417.6h0M583.6 315.1h0M578.7 404.2h0M414.2 431.1h0M596.0 346.3h0M585.7 534.6h0M461.2 539.8h0M577.6 349.7h0M513.0 472.0h0M460.5 396.9h0M458.0 440.3h0M601.9 468.2h0M506.2 372.2h0M428.1 482.2h0M566.8 413.9h0M571.7 505.5h0M455.9 544.3h0M468.0 466.7h0M537.9 347.2h0M437.2 328.9h0M556.7 448.2h0M555.1 475.4h0M585.9 557.7h0M477.1 499.2h0M574.7 319.2h0M520.4 361.9h0M590.6 371.9h0M545.4 449.5h0M551.8 536.1h0M527.5 335.2h0M642.5 394.5h0M434.6 517.2h0M429.3 489.0h0M652.5 365.3h0M420.5 393.5h0M430.9 558.6h0M431.5 349.2h0M414.7 559.4h0M557.7 326.8h0M473.2 518.1h0M605.7 368.8h0M525.3 434.7h0M652.8 412.9h0M514.5 346.8h0M633.8 507.2h0M576.7 504.5h0M501.3 515.7h0M456.9 306.7h0M575.9 496.2h0M550.6 442.6h0M543.7 316.1h0M409.5 371.8h0M536.6 407.0h0M579.1 345.6h0M560.5 433.2h0M561.7 391.0h0M621.6 491.3h0M551.2 542.3h0M471.7 388.3h0M431.7 500.0h0M499.5 523.6h0M406.7 383.6h0M649.5 526.6h0M658.2 552.2h0M631.1 469.6h0M521.5 450.9h0M603.8 454.8h0M455.3 526.9h0M534.0 469.3h0M407.1 555.9h0M564.1 425.1h0M568.9 426.7h0M643.6 512.7h0M486.4 503.7h0M486.0 395.0h0M489.4 366.9h0M406.7 358.7h0M649.0 404.0h0M420.4 311.7h0M655.9 530.1h0M455.3 413.9h0M645.8 438.2h0M536.7 429.1h0M533.5 532.4h0M570.0 492.9h0" stroke="#1a9222" stroke-width="4.9" stroke-linecap="round" fill="none"/>
<path d="M584.7 518.7h0M510.2 461.4h0M471.6 527.4h0M485.4 452.4h0M448.2 309.8h0M417.3 316.0h0M615.1 316.1h0M615.7 377.0h0M408.0 521.7h0M570.8 538.3h0M581.0 498.1h0M562.2 477.7h0M642.8 346.7h0M452.5 386.0h0M548.0 529.7h0M444.8 547.6h0M536.6 396.2h0M506.5 534.0h0M544.0 395.9h0M522.0 329.3h0M545.6 321.1h0M492.9 496.9h0M468.6 364.7h0M551.6 352.6h0M591.0 323.9h0M434.9 465.0h0M442.9 520.5h0M438.9 391.0h0M561.7 343.6h0M508.1 442.7h0M632.4 541.2h0M467.3 459.0h0M595.0 416.4h0M634.5 535.1h0M588.1 439.4h0M607.7 537.7h0M416.5 370.6h0M489.5 422.4h0M658.0 406.0h0M609.6 386.0h0M493.6 355.6h0M540.3 384.7h0M633.3 361.7h0M557.2 399.6h0M559.5 413.5h0M427.2 521.6h0M482.8 479.4h0M509.8 430.4h0M408.5 527.1h0M455.5 514.8h0M514.5 361.5h0M542.6 541.3h0M625.8 443.7h0M544.6 491.9h0M490.8 316.3h0M536.3 334.6h0M477.1 385.1h0M464.3 309.4h0M436.3 498.5h0M525.7 485.9h0M494.6 539.8h0M481.1 456.1h0M549.4 374.5h0M477.4 548.9h0M589.6 450.7h0M552.9 329.8h0M600.0 515.4h0M622.4 409.2h0M441.5 471.5h0M615.2 417.2h0M527.7 468.0h0M577.7 520.8h0M560.8 322.7h0M424.6 368.6h0M555.6 530.7h0M632.3 457.0h0M472.4 456.1h0M466.6 438.3h0M530.1 543.1h0M635.1 319.0h0M557.4 419.9h0M631.5 503.2h0" stroke="#1ea026" stroke-width="5.8" stroke-linecap="round" fill="none"/>
<path d="M457.0 476.3h0M498.2 369.4h0M488.1 520.2h0M557.7 427.5h0M446.2 559.0h0M615.8 463.6h0M540.6 461.5h0M504.4 313.6h0M452.1 391.8h0M545.3 519.1h0M572.9 362.1h0M627.7 361.1h0M620.5 413.1h0M634.5 512.6h0M615.6 482.8h0M417.4 357.7h0M507.7 358.2h0M464.2 410.8h0M428.3 494.1h0M460.6 344.1h0M521.3 426.5h0M507.6 551.8h0M645.4 522.0h0M550.8 339.8h0M579.6 368.3h0M544.9 344.1h0M578.1 361.2h0M644.2 500.8h0M457.6 418.5h0M586.1 425.6h0M631.9 447.4h0M470.4 358.4h0M420.9 512.7h0" stroke="#1e9e26" stroke-width="7.2" stroke-linecap="round" fill="none"/>
<path d="M532.9 414.6h0M572.3 451.1h0M647.9 446.9h0M436.5 409.5h0M438.4 554.4h0M442.3 386.5h0M492.1 554.9h0M560.9 557.9h0M438.9 526.3h0M560.3 549.0h0M535.7 492.5h0M534.2 451.0h0M408.6 488.1h0M432.6 361.8h0M557.5 523.2h0M529.4 455.4h0M475.1 317.2h0M453.2 324.7h0M443.5 504.4h0M652.1 345.5h0M541.7 380.0h0M450.1 399.6h0M501.9 330.6h0M517.2 534.6h0M410.8 460.1h0M570.4 347.5h0M470.9 332.7h0M543.5 311.6h0M536.3 306.8h0M625.4 314.4h0M597.4 412.5h0M404.4 479.8h0M410.1 380.2h0M433.7 493.5h0M604.2 481.7h0M591.5 500.5h0M511.4 401.0h0M654.4 399.7h0M591.5 524.9h0M457.2 311.6h0M535.0 389.1h0M514.0 454.9h0M464.1 545.0h0M640.4 519.0h0M596.2 346.6h0M457.9 439.8h0M456.2 543.8h0M585.7 557.8h0M551.8 535.9h0M420.6 393.2h0M605.9 368.3h0M500.8 515.5h0M536.9 407.4h0M472.1 388.2h0M631.6 469.5h0M564.1 424.8h0M406.8 358.5h0M537.1 429.0h0" stroke="#2ccc36" stroke-width="2.6" stroke-linecap="round" fill="none"/>
<path d="M457.0 476.3h0M488.1 520.2h0M446.2 559.0h0M540.6 461.5h0M452.1 391.8h0M572.9 362.1h0M620.5 413.1h0M615.6 482.8h0M507.7 358.2h0M428.3 494.1h0M521.3 426.5h0M645.4 522.0h0M579.6 368.3h0M578.1 361.2h0M457.6 418.5h0M631.9 447.4h0M420.9 512.7h0" stroke="#36e040" stroke-width="3.8" stroke-linecap="round" fill="none"/>
</g>
<rect x="587.60" y="535.40" width="60.70" height="9.40" fill="#fff"/>
<text transform="translate(410.61,327.30) scale(0.9942,1)" font-size="20.3" font-weight="bold" font-style="normal" fill="#fff">Day 9</text>
<rect x="665.30" y="306.20" width="254.70" height="253.30" fill="#010a02"/>
<clipPath id="cd2"><rect x="665.30" y="306.20" width="254.70" height="253.30"/></clipPath>
<g clip-path="url(#cd2)" filter="url(#b2)">
<path d="M898.1 446.6h0M761.9 471.3h0M724.5 430.2h0M779.2 369.0h0M672.9 340.2h0M869.3 310.8h0M750.4 358.6h0M689.0 434.8h0M889.5 416.4h0M907.2 372.7h0M870.4 311.2h0M709.9 493.6h0M676.3 428.1h0M788.6 509.9h0M826.3 494.9h0M682.6 347.9h0M812.5 436.8h0M898.2 545.4h0M874.8 504.9h0M733.7 452.9h0M794.5 476.4h0M736.4 417.0h0M725.7 497.5h0M671.4 514.7h0M878.2 333.5h0M879.4 351.4h0M832.2 322.0h0M737.0 451.7h0M907.7 466.6h0M712.1 318.4h0M871.0 372.3h0M781.1 485.7h0M842.0 354.7h0M795.3 553.0h0M749.4 455.3h0M772.8 312.8h0M904.1 398.2h0M916.7 427.9h0M802.1 381.5h0M680.2 502.8h0M731.6 514.1h0M826.6 536.3h0M752.1 391.9h0M835.8 436.6h0M904.4 410.2h0M871.5 370.6h0M739.1 455.2h0M808.4 369.4h0M680.4 321.7h0M756.5 395.7h0M775.2 422.9h0M750.5 355.9h0M724.2 432.4h0M906.8 545.6h0M897.2 381.3h0M747.0 367.2h0M885.0 488.4h0M906.0 341.8h0M671.2 407.5h0M685.2 426.1h0M816.9 557.1h0" stroke="#0f5a14" stroke-width="3.4" stroke-linecap="round" fill="none"/>
<path d="M779.7 494.1h0M855.5 478.2h0M805.3 470.4h0M880.6 359.0h0M674.0 488.1h0M703.6 497.0h0M773.0 544.3h0M833.0 387.7h0M702.9 317.1h0M686.1 417.2h0M847.9 557.7h0M853.5 440.1h0M813.0 454.1h0M680.2 454.9h0M682.5 346.9h0M891.7 383.2h0M717.0 415.2h0M811.8 539.8h0M811.6 343.2h0M665.6 437.6h0M689.0 389.4h0M686.2 320.0h0M863.3 444.2h0M770.4 468.7h0M881.6 311.4h0M900.8 494.0h0M823.0 460.0h0M878.6 459.1h0M882.1 394.6h0M712.1 462.3h0M852.6 548.7h0M873.8 488.5h0M818.0 485.3h0M700.7 391.1h0M813.0 362.6h0M736.8 318.3h0M666.8 557.0h0M679.5 336.6h0M834.1 448.5h0M697.7 444.1h0M827.6 328.2h0M858.1 353.1h0M692.4 514.0h0M778.0 337.7h0M839.6 359.9h0M800.9 331.9h0M841.6 467.5h0M749.3 327.2h0M836.5 381.8h0M884.0 545.7h0M675.3 309.3h0M668.3 551.5h0M740.3 496.9h0M826.5 485.5h0M747.8 387.6h0M717.4 314.1h0M805.0 343.5h0M825.1 358.7h0M715.8 378.0h0M693.0 417.5h0M871.4 329.4h0M835.9 315.6h0M727.3 377.8h0M755.3 501.5h0M671.8 417.2h0M763.1 376.1h0M705.1 362.9h0M809.6 522.0h0M895.9 400.8h0M679.2 379.6h0M847.4 397.5h0M769.8 356.7h0M886.1 472.0h0M779.5 427.8h0M680.0 422.1h0M889.8 458.3h0M837.3 392.4h0M780.2 476.8h0M788.8 374.3h0M704.0 386.7h0M760.1 460.9h0M706.9 518.0h0M719.4 461.0h0M832.6 491.7h0M870.7 481.5h0M699.5 400.5h0M686.8 548.0h0M742.0 453.2h0M901.6 423.2h0M750.6 407.2h0M844.0 334.5h0M832.1 437.0h0M771.3 329.3h0M830.7 317.9h0M709.6 556.9h0M676.6 541.6h0M791.6 392.7h0M703.2 533.5h0M713.8 475.9h0M788.0 344.3h0M700.1 352.2h0M682.0 556.7h0M726.6 546.7h0M731.6 436.7h0M709.8 469.5h0M740.2 312.8h0M702.2 416.4h0M683.9 328.9h0M725.8 465.0h0M916.6 549.7h0M750.0 445.6h0M903.0 508.3h0M858.8 526.8h0M792.5 398.1h0M887.9 338.4h0M785.6 555.0h0M688.8 348.6h0M776.1 323.0h0M846.1 418.8h0M768.6 412.1h0M742.9 516.2h0M708.8 486.5h0M696.9 490.9h0M756.9 346.0h0M865.9 325.9h0M864.8 394.8h0M718.1 325.9h0M888.7 323.6h0M880.8 363.8h0M818.0 441.3h0M836.9 407.8h0M780.8 407.6h0M746.6 528.2h0M914.9 450.2h0M835.0 522.2h0M852.7 505.8h0M672.7 430.0h0M892.6 462.8h0M851.9 336.3h0M690.3 339.1h0M727.7 473.5h0M891.8 443.9h0M810.1 347.2h0M766.0 472.9h0M914.9 496.3h0M711.9 511.9h0M899.4 351.6h0M902.3 531.7h0M863.5 311.1h0M887.0 536.5h0M692.2 536.5h0M875.8 355.5h0M720.0 408.9h0M791.6 415.3h0M742.5 326.6h0M774.7 347.8h0M695.3 393.7h0M795.5 550.4h0M795.2 493.0h0M684.0 476.8h0M776.2 367.8h0M714.5 501.2h0M896.5 325.0h0M854.0 448.2h0M877.7 373.5h0M852.6 537.8h0M720.5 500.7h0M764.2 511.1h0M737.2 507.5h0M720.0 466.3h0M812.5 356.3h0M666.6 425.3h0M900.2 472.3h0M760.2 532.4h0M836.5 433.6h0M826.4 353.3h0M804.3 421.5h0M895.7 386.5h0M764.4 369.1h0M894.5 411.8h0M902.5 321.8h0M879.4 474.3h0M915.4 387.4h0M739.3 468.4h0M870.5 456.0h0M896.2 516.6h0M839.0 418.1h0M686.3 471.5h0M747.7 320.0h0M698.5 434.0h0M786.7 548.3h0M717.5 489.6h0M783.3 320.9h0M681.5 370.4h0M697.8 475.9h0M696.0 366.5h0M827.4 310.6h0M762.8 383.6h0M891.6 390.1h0M892.7 558.0h0M728.6 344.8h0M716.0 437.4h0M764.1 325.0h0M695.1 323.0h0M769.1 462.0h0M755.5 448.9h0M799.1 495.6h0M687.4 369.1h0M856.1 348.0h0M865.7 518.8h0M844.0 426.9h0M799.1 416.0h0M733.8 459.1h0M764.9 353.5h0M676.1 442.3h0M728.1 307.1h0M762.4 528.4h0M729.4 427.0h0M799.3 479.0h0M779.1 523.1h0M666.4 466.6h0M770.8 476.7h0M862.8 514.9h0M855.1 324.6h0M671.9 445.7h0M915.2 410.2h0M859.7 534.2h0M851.8 491.4h0M665.7 403.1h0M714.1 306.5h0M849.8 454.4h0M871.7 357.4h0M743.6 476.7h0M770.6 492.2h0M677.2 400.0h0M791.0 364.8h0M902.4 484.3h0M918.6 535.6h0M721.4 522.8h0M848.9 327.1h0M690.8 330.4h0M836.6 337.8h0M746.1 354.4h0M685.6 373.6h0M705.7 540.4h0M903.8 338.7h0M716.0 541.9h0M750.9 374.8h0M872.9 407.6h0M682.9 447.8h0M751.1 487.6h0M882.0 524.1h0M876.0 534.2h0M718.0 390.7h0M897.6 444.2h0M680.0 552.5h0M768.9 416.7h0M840.7 557.4h0M807.9 428.5h0M723.7 332.5h0M821.0 437.8h0M822.6 340.8h0M882.4 321.7h0M687.6 481.6h0M665.3 506.4h0M820.5 455.6h0M678.0 506.7h0M668.0 431.1h0M875.6 419.5h0M746.4 495.6h0M690.6 377.7h0M800.6 397.2h0M785.7 461.1h0M704.6 481.7h0M734.7 425.2h0M869.3 382.8h0M911.6 414.1h0M831.0 529.2h0M891.2 314.3h0M715.9 554.3h0M743.6 405.6h0M845.8 495.3h0M812.1 381.4h0M854.0 434.9h0M740.8 399.9h0M765.8 406.7h0M852.0 500.6h0M700.6 553.1h0M679.3 491.3h0M904.6 432.0h0M794.7 409.0h0M767.9 533.1h0M914.6 348.5h0M896.3 378.4h0M678.4 461.1h0M773.8 554.3h0M785.6 379.5h0M732.1 418.6h0M838.8 542.0h0M778.4 545.2h0M715.5 347.6h0M801.1 315.1h0M791.8 447.8h0M709.5 360.5h0M751.2 513.9h0M886.2 314.3h0M778.8 556.7h0" stroke="#1a9222" stroke-width="4.9" stroke-linecap="round" fill="none"/>
<path d="M834.2 442.2h0M801.8 339.0h0M745.6 413.0h0M686.9 437.0h0M670.6 459.7h0M872.9 402.6h0M850.9 531.4h0M759.8 336.2h0M912.5 310.9h0M888.4 453.3h0M918.8 498.4h0M891.4 539.8h0M870.3 361.7h0M782.7 435.8h0M741.5 341.8h0M731.9 335.3h0M708.1 551.2h0M740.4 331.3h0M701.6 490.0h0M692.5 523.0h0M826.3 374.0h0M709.6 322.0h0M712.0 425.5h0M670.0 326.1h0M853.2 412.9h0M912.4 371.8h0M826.5 346.9h0M733.0 559.4h0M667.6 489.4h0M818.6 345.6h0M913.1 341.0h0M826.7 412.2h0M735.2 512.1h0M699.8 480.6h0M671.5 336.0h0M904.3 523.2h0M679.0 520.9h0M749.6 345.5h0M755.6 489.1h0M827.5 503.2h0M756.8 457.2h0M825.1 406.9h0M882.7 348.5h0M907.4 348.0h0M833.4 499.9h0M752.4 526.1h0M702.3 431.8h0M807.8 486.3h0M868.4 534.3h0M715.3 359.3h0M868.5 373.7h0M712.4 318.7h0M794.0 437.6h0M698.5 382.7h0M709.3 396.8h0M895.0 536.7h0M671.9 466.9h0M819.9 492.2h0M783.8 345.8h0M738.0 545.5h0M843.5 512.9h0M875.2 384.4h0M787.0 383.9h0M689.1 539.6h0M913.5 487.1h0M745.2 315.7h0M876.1 413.3h0M887.8 425.8h0M797.5 347.5h0M666.6 417.9h0M917.3 359.9h0M796.8 456.1h0M844.2 339.9h0M878.4 438.3h0" stroke="#1ea026" stroke-width="5.8" stroke-linecap="round" fill="none"/>
<path d="M766.7 380.1h0M750.9 492.0h0M844.1 329.4h0M874.2 478.1h0M839.1 533.1h0M811.2 408.3h0M668.0 394.8h0M679.6 413.6h0M773.3 487.6h0M712.2 334.4h0M720.7 453.2h0M799.0 544.8h0M698.4 527.9h0M677.8 473.4h0M753.7 329.8h0M786.6 453.4h0M701.1 331.1h0M676.6 389.3h0M892.5 347.6h0M788.9 437.9h0M768.9 537.4h0M755.7 391.2h0M916.5 327.2h0M855.0 465.5h0M771.0 367.2h0M817.1 402.5h0M829.5 495.9h0M821.3 445.5h0M774.3 381.9h0" stroke="#1e9e26" stroke-width="7.2" stroke-linecap="round" fill="none"/>
<path d="M779.6 494.0h0M773.1 544.5h0M813.2 454.3h0M811.2 343.6h0M881.8 311.1h0M853.0 549.0h0M666.5 556.6h0M692.0 514.4h0M836.1 382.1h0M747.7 387.6h0M871.2 329.6h0M705.6 363.0h0M886.1 472.0h0M788.9 374.3h0M870.5 481.7h0M844.0 334.3h0M791.6 393.0h0M726.8 546.7h0M726.3 464.6h0M887.9 338.3h0M743.3 516.6h0M718.0 326.3h0M747.0 528.2h0M852.1 336.6h0M914.6 496.4h0M691.9 536.7h0M695.5 393.5h0M896.6 325.1h0M737.3 507.5h0M836.2 434.0h0M902.8 321.8h0M838.6 417.7h0M783.6 321.3h0M891.8 389.7h0M769.0 462.0h0M843.8 426.5h0M762.6 528.8h0M862.4 514.8h0M666.2 402.7h0M676.9 399.6h0M691.2 330.2h0M715.6 541.8h0M875.9 534.6h0M807.6 428.3h0M665.0 506.5h0M690.2 377.7h0M911.6 414.5h0M812.4 381.4h0M678.8 491.4h0M678.2 461.4h0M715.4 347.3h0M778.8 557.1h0" stroke="#2ccc36" stroke-width="2.6" stroke-linecap="round" fill="none"/>
<path d="M766.7 380.1h0M844.1 329.4h0M839.1 533.1h0M668.0 394.8h0M773.3 487.6h0M720.7 453.2h0M698.4 527.9h0M753.7 329.8h0M701.1 331.1h0M892.5 347.6h0M768.9 537.4h0M916.5 327.2h0M771.0 367.2h0M829.5 495.9h0M774.3 381.9h0" stroke="#36e040" stroke-width="3.8" stroke-linecap="round" fill="none"/>
</g>
<rect x="849.20" y="536.00" width="59.80" height="8.80" fill="#fff"/>
<text transform="translate(671.01,327.60) scale(0.9891,1)" font-size="20.3" font-weight="bold" font-style="normal" fill="#fff">Day 29</text>
<text transform="translate(680.10,600.80)" font-size="25.5" font-weight="bold" font-style="normal" fill="#000">g</text>
<rect x="705.30" y="588.60" width="214.70" height="216.80" fill="#000a01"/>
<clipPath id="cg1"><rect x="705.30" y="588.60" width="214.70" height="216.80"/></clipPath>
<g clip-path="url(#cg1)" filter="url(#b2)">
<path d="M889.7 784.7l-2.3 4.2M783.4 768.9l8.2 4.7M905.3 700.2l1.2 4.6M874.3 651.6l6.1 2.5M777.7 605.2l-11.3 3.1M784.7 774.5l2.8 6.4M732.5 779.1l6.0 0.3M838.3 698.2l-7.8 5.7M788.7 795.7l-3.1 7.3M854.5 661.6l8.7 5.1M764.5 776.7l6.2 1.2M869.6 619.0l7.3 7.0M818.1 761.9l-7.2 3.5M732.8 739.3l5.7 8.2M726.1 706.8l2.6 3.1M736.5 694.7l11.6 2.3M905.0 620.9l4.2 0.9M891.6 624.7l-1.5 6.1M792.6 801.2l-7.1 7.9M837.4 724.1l3.7 10.4M854.9 719.1l10.0 3.0M884.9 717.0l4.7 6.9M758.1 744.2l-2.2 8.0M814.3 612.8l-4.7 1.1M784.3 664.1l-2.4 9.9M759.7 662.0l-2.7 9.9M817.6 789.5l0.2 7.6M812.3 634.5l8.6 1.4M874.6 699.1l2.7 6.7M739.4 617.2l-3.8 2.3M758.3 660.2l-8.1 6.9M890.5 739.5l-7.3 4.4M886.6 683.9l0.2 11.6M786.0 676.1l8.8 3.0M897.1 671.9l-7.5 6.8M873.3 663.2l9.7 1.3M836.8 753.2l10.5 1.4M709.2 681.1l1.3 7.2M820.4 744.7l-9.8 6.9M766.9 677.2l0.9 9.1M899.0 763.2l-2.2 4.9M729.5 787.8l-5.8 4.0M844.1 649.1l-5.6 5.0M898.6 791.4l-4.7 6.2M879.6 800.5l3.1 6.5M747.6 761.8l7.8 6.5M908.3 725.0l7.6 3.7M733.1 677.0l6.6 3.4M856.5 641.0l1.9 4.9M748.1 803.6l-9.5 3.3M738.3 719.2l-2.0 8.6M907.9 614.4l4.6 6.3M742.7 737.7l2.5 3.2M752.4 703.1l-8.2 2.7M798.8 769.2l-5.7 3.7M861.0 783.4l-4.5 10.6M821.2 738.9l-0.0 9.7M739.8 632.1l4.3 5.9M811.3 802.1l-3.5 9.6M850.8 681.1l-5.1 9.3M750.3 646.3l-5.1 4.2M736.9 700.4l-4.3 1.2M898.1 718.3l2.3 8.7M709.3 678.2l-0.2 8.9M902.3 789.8l-6.2 2.1M893.7 645.9l11.2 3.1M819.0 613.6l-4.0 2.0M868.2 672.3l-3.5 4.1M858.9 796.1l3.5 3.8M818.0 692.3l-3.0 5.4M844.6 791.6l4.9 0.1M908.7 663.7l2.1 6.4M897.0 766.2l6.1 7.4M731.2 689.9l-5.6 5.8M818.9 687.3l-2.2 3.8M716.0 718.0l1.0 7.7M884.3 689.4l-1.1 10.4M774.5 740.9l6.7 9.9M879.9 690.8l-3.3 5.1M724.3 669.0l-8.8 7.7M776.9 653.0l-11.7 0.6M847.7 625.7l-6.4 5.8M734.9 619.5l-6.3 2.7M827.4 750.3l-4.6 6.0M766.4 636.2l4.1 8.7M909.3 668.9l2.7 10.3M898.4 598.6l1.9 5.7M835.7 789.4l-2.3 8.8M826.8 651.4l-6.0 6.4M723.7 723.9l8.8 5.3M861.9 786.1l-1.8 4.0M891.9 750.0l-6.5 3.4M839.0 702.6l-9.1 1.2M800.6 602.9l5.3 3.1M803.5 781.9l-2.9 3.9M919.6 637.8l5.9 3.9M780.9 767.0l-4.7 4.8M743.5 690.8l3.2 3.1M893.4 677.8l-9.2 3.4M797.5 728.9l-8.8 5.6M879.9 683.9l-4.1 9.4M842.3 715.9l9.3 4.2M750.5 691.3l8.2 5.1M813.3 755.6l-2.7 5.1M767.8 680.3l4.4 0.3M735.7 681.7l-4.5 1.7M720.5 676.0l-0.4 4.3M822.4 692.9l4.7 3.3M806.1 757.2l-5.1 8.6M851.7 600.3l-3.5 2.5M741.0 699.4l10.0 1.6M836.4 799.8l-8.0 5.1M774.9 652.3l-8.2 0.9M919.3 636.2l-8.6 7.1M718.2 721.7l-1.9 8.6M853.3 639.6l-10.2 3.3M722.6 710.7l-9.7 5.6M758.9 623.8l-5.2 7.7M799.4 784.6l10.3 3.6M917.4 601.9l-11.4 1.2M867.4 755.7l-9.8 2.8M713.1 762.4l0.7 6.9M744.0 736.2l-8.0 8.5M893.5 603.3l10.5 2.1M794.3 629.0l-0.2 4.5M784.8 733.4l2.5 6.3M879.7 800.5l-5.8 3.5M802.4 785.7l-1.1 4.0M771.1 687.8l2.3 10.2M857.1 747.2l-1.5 9.1M716.3 663.7l10.4 0.9M719.6 638.8l5.7 2.7M907.3 745.6l-5.3 9.0M737.4 633.8l-7.2 7.1M844.2 667.1l7.9 3.5M840.5 594.6l-8.8 1.4M730.1 688.2l-5.4 2.6M853.3 599.7l6.8 1.7M743.5 757.1l0.5 5.4M902.3 745.6l5.2 2.9M909.6 626.5l7.0 1.1M893.6 755.9l5.4 0.0M808.6 707.6l-2.7 5.2M842.6 635.2l4.4 3.0M911.0 739.2l4.9 8.9M827.6 691.3l9.0 1.0M768.5 687.7l2.1 5.3M847.2 736.4l-6.0 6.1M867.7 620.0l3.8 1.8M889.6 796.6l1.7 4.8M782.2 721.0l0.5 8.8M709.1 731.2l11.7 0.6M873.6 650.1l10.4 4.8M739.8 659.5l9.0 6.6M907.5 728.3l-3.9 6.4M822.3 632.5l-10.2 4.0M807.2 716.9l1.3 11.0M761.7 599.4l9.9 5.9M845.5 597.9l5.2 1.6M848.2 764.3l-6.4 8.9M835.9 708.7l-3.4 10.5M804.9 660.9l2.1 6.8M878.5 795.0l-6.1 1.5M787.5 771.2l4.3 7.0M776.3 601.5l9.1 6.6M892.1 590.1l-0.7 11.7M793.7 642.0l1.9 6.0M915.5 611.0l2.3 9.3M843.6 739.3l0.9 5.4M732.0 615.1l5.4 0.5M858.1 656.9l-1.1 5.7M707.3 671.7l5.5 7.7M848.0 707.8l10.3 0.6M850.4 651.5l10.1 0.4M769.7 795.8l1.0 4.8M821.2 601.5l-7.6 3.8M833.9 773.4l11.2 0.5M779.6 682.5l3.7 5.3M901.0 709.2l6.0 2.0M741.6 752.6l9.2 5.4M829.1 662.0l-9.2 5.1M752.8 701.2l-4.0 0.6M709.7 707.0l-6.5 5.2M866.7 686.8l6.1 0.9M774.5 624.9l9.4 1.1M742.7 666.2l-3.9 2.7M895.3 787.7l7.2 2.9M824.7 772.2l2.6 3.5M813.0 628.3l1.2 9.9M889.0 662.4l6.3 8.7M865.4 743.1l2.9 7.1M849.9 608.4l2.9 8.4M898.0 661.3l-8.4 0.0M781.0 612.1l-0.1 9.1M836.7 656.9l10.4 5.2M919.2 660.1l-3.3 8.5M763.3 649.7l8.4 1.9M735.7 705.0l1.3 5.3M848.1 783.7l-3.2 8.9M898.9 647.0l-5.9 2.3M815.5 735.6l-6.7 8.9M734.6 702.0l-3.1 6.1M842.4 781.8l-6.7 1.9M896.9 739.1l2.1 4.1M829.7 656.4l-11.6 2.7M795.3 717.4l2.9 4.9M815.8 796.2l-9.1 3.6M845.3 645.8l8.1 6.4M822.2 726.0l-4.9 3.6M767.6 710.8l4.3 7.0M797.0 761.3l-5.4 3.6M823.4 761.4l-6.3 9.4M909.1 743.6l-4.5 3.6M791.2 695.7l7.6 3.3M785.8 606.9l-7.8 3.0M836.4 633.6l1.0 6.3M871.7 604.5l-0.5 10.7M853.3 624.3l2.0 6.0M822.3 676.1l7.5 0.7M823.6 724.8l4.1 3.0M763.1 608.5l3.2 8.7M773.4 725.1l-0.7 6.2M847.9 761.4l-8.0 0.5M771.8 690.7l-7.8 4.9M807.6 606.0l-6.9 5.0M765.5 702.2l-1.0 5.2M919.1 756.7l3.7 4.9M912.7 680.6l5.6 9.0M740.1 620.8l-0.0 4.3M879.7 773.2l-4.7 10.9M830.3 656.0l6.9 2.2M785.8 688.6l4.9 7.5M812.2 639.5l1.5 7.1M763.5 707.5l5.7 0.9M795.6 735.4l9.4 3.4M848.1 798.0l0.3 5.8M885.1 638.8l4.4 4.6M865.4 589.5l5.9 7.7M887.4 651.8l-3.6 6.6M801.8 664.4l-5.4 2.9M835.6 748.4l-7.6 2.9M767.0 755.6l4.4 0.2M721.4 651.8l-5.3 2.7M904.5 745.0l-6.8 9.7M811.8 791.9l5.9 1.8M878.2 729.2l-3.7 4.0M817.6 657.4l10.0 1.9M770.2 613.5l-1.3 7.7M735.1 734.7l-8.7 7.5M836.8 729.4l-0.3 5.8M864.1 768.3l6.5 5.4M764.9 797.7l3.8 11.0M896.9 729.9l4.0 0.3M801.8 699.3l-7.2 5.8M795.7 610.5l-4.6 2.0M728.1 652.4l9.1 7.7M731.8 751.5l-2.5 9.7M746.2 800.2l8.7 7.8M911.8 589.9l-2.9 7.9M818.2 665.0l2.0 4.8M737.6 760.3l9.2 2.8M788.7 761.1l5.7 10.5M844.1 679.7l6.5 1.4M723.5 768.9l-10.8 4.4M908.9 604.7l0.2 4.6M859.2 590.4l7.0 3.4M730.2 595.9l-8.4 5.5M710.7 695.1l-5.9 7.4M870.5 773.3l-3.3 7.4M756.7 594.2l5.1 4.5M711.4 793.3l0.8 5.1M741.1 657.5l3.2 3.6M839.0 646.3l-2.9 4.2M905.2 743.6l2.3 7.4M839.6 795.9l-6.6 4.9M767.4 736.8l3.9 6.4M735.8 707.8l5.3 4.5M722.2 621.5l3.6 2.3M856.9 610.5l11.6 3.0M825.9 751.2l-2.6 11.4M810.3 720.6l9.0 5.3M731.9 662.0l-6.4 1.6M759.3 679.6l6.0 5.1M713.6 601.6l-1.0 6.0M709.0 678.1l-5.8 0.0M908.9 672.4l-6.3 7.6M808.3 768.8l-4.9 2.4M830.5 798.7l-1.6 7.6M787.8 682.0l0.9 5.6M749.0 628.8l2.9 5.1M868.8 652.9l-5.9 9.9M898.9 742.8l-8.5 2.1M915.0 625.4l-8.9 3.5M827.1 675.4l-3.1 11.6M865.0 695.0l-10.4 1.7M749.8 756.3l10.7 3.6M741.9 795.4l1.7 5.8M743.4 754.5l4.6 1.4M900.0 725.7l-3.2 9.8M830.5 667.2l1.1 11.0M709.7 665.3l-3.5 3.6M813.1 619.0l6.7 7.4M852.6 650.9l1.9 5.3M717.5 790.5l-11.4 2.9M755.1 612.9l-7.1 5.1M872.5 679.5l-8.6 1.1M868.5 653.4l7.4 6.2M861.3 786.0l2.5 5.4M773.1 629.0l4.5 3.1M896.4 786.1l-2.4 3.3M908.5 784.9l5.6 4.3M771.2 705.7l0.6 9.4M842.4 802.7l-4.2 5.1M839.1 667.5l-3.8 6.9M866.4 728.8l-1.7 5.8M768.5 798.9l11.6 3.2M754.8 593.6l9.8 3.4M760.2 736.2l11.2 3.4M895.7 696.3l-9.1 7.6M746.9 681.7l4.9 1.6M781.8 696.6l-7.6 7.1M846.9 634.4l4.5 3.6M762.9 710.7l-1.8 6.7M900.3 670.3l4.3 5.1M831.1 749.1l-7.5 4.4M716.7 790.0l-4.0 2.3M731.2 732.4l5.2 9.3M874.1 630.8l-4.1 10.8M737.4 642.8l-5.6 6.9M784.1 761.5l10.2 3.1M913.7 697.6l-6.0 1.9M815.3 680.4l-1.5 6.6M918.1 776.4l11.6 1.5M806.3 744.6l1.8 4.3M869.5 698.9l3.3 3.8M877.0 635.9l8.1 8.1M836.0 774.7l-4.0 0.1M740.2 734.5l-1.4 3.8M917.3 802.4l8.3 3.0M847.3 804.9l7.2 0.3M746.1 708.7l-2.5 8.7M843.8 672.3l4.5 2.0M736.2 802.2l-3.6 5.7M907.4 605.0l-1.7 9.8M783.8 778.2l-4.6 8.9M733.4 706.4l5.2 10.6M895.1 775.7l3.7 7.6M819.4 750.3l-7.9 5.9M712.6 641.1l-9.4 3.4M776.3 609.3l-9.0 1.4M855.3 681.4l-1.6 6.4M805.6 802.0l4.0 0.9M881.3 786.4l9.5 1.2M707.9 625.2l10.3 2.9M737.1 594.3l-9.2 4.9M718.4 641.7l2.2 7.4M729.5 653.6l-7.6 8.2M837.4 646.3l-6.9 2.0M732.0 753.0l-1.3 4.1M779.5 645.7l-4.8 3.4M763.9 674.4l10.4 4.3M767.2 612.1l7.6 3.5M861.5 668.4l5.5 5.3M865.8 678.9l4.0 9.4M862.4 732.1l3.9 6.2M906.5 788.8l-6.8 1.6M867.7 730.1l-9.1 5.5M858.5 790.7l3.8 1.5M720.6 659.1l4.1 4.6M792.7 739.2l-2.7 6.3M792.8 696.6l-3.9 1.4M850.4 640.7l1.5 5.7M835.7 748.0l4.1 5.9M712.1 729.2l5.7 2.0M765.5 767.5l-3.0 9.2M718.4 678.1l-2.2 3.6M746.7 639.6l-8.2 2.5M780.4 658.2l11.4 0.4M720.8 604.8l0.1 8.4M741.0 655.4l6.6 2.3M800.4 614.9l-1.4 10.6M873.3 678.6l1.4 4.6M792.9 720.7l-5.7 8.1M812.5 663.4l-9.2 6.9M800.0 645.3l3.9 3.3M872.2 594.7l6.1 4.0M755.1 695.1l-8.7 3.3M803.2 798.8l7.6 0.3M832.4 725.0l4.5 0.1M719.4 795.7l3.9 5.3M730.8 606.1l8.4 1.6M766.8 729.4l-4.4 1.3M788.9 651.0l6.4 0.9M908.5 590.8l-7.7 7.9M802.3 718.6l6.1 3.8M859.7 711.7l10.1 1.8M888.4 602.3l-5.8 7.3M808.7 749.7l11.2 3.8M737.7 661.2l5.9 5.0M887.2 695.8l-0.2 8.6M839.8 776.4l2.2 6.1M725.0 757.4l-4.0 2.3M889.5 653.3l5.8 2.6M803.9 690.3l-9.3 2.6M798.0 694.6l3.8 1.4M902.9 654.1l5.8 3.6M841.7 645.8l-6.3 3.6M868.7 594.3l-7.7 4.1M856.6 704.3l1.3 7.9M750.4 640.8l-9.9 6.3M838.5 742.0l-11.3 2.8M845.8 798.7l5.9 7.0M850.8 704.8l-4.5 6.8M913.0 799.7l-1.5 11.0M779.6 765.6l6.9 3.8M790.4 717.7l7.6 5.8M859.2 696.5l7.7 6.5M881.7 719.3l-4.6 1.1M724.9 673.8l-5.3 3.8M836.6 720.0l4.6 6.7M814.6 723.8l-7.6 2.2M756.7 687.1l6.4 4.8M754.2 602.7l-1.1 4.2M824.7 700.9l1.2 4.7M878.3 642.0l2.3 7.0M795.1 682.1l-3.9 3.0M782.3 657.4l-6.3 9.2M795.7 683.6l5.4 5.7M744.8 741.5l0.8 10.9M824.5 593.1l-5.9 5.1M860.8 628.1l-7.7 1.8M837.3 716.0l-5.3 7.0M708.9 721.1l-10.8 4.1M846.7 685.5l-7.5 7.0M705.8 698.4l-0.8 7.6M779.7 627.6l-4.9 4.2M717.7 592.9l-2.5 3.3M864.8 725.2l-7.1 8.1M831.0 693.2l2.3 6.1M768.3 784.8l8.9 7.0M801.3 591.8l-6.1 7.5M918.5 606.5l-4.9 10.6M869.5 798.2l5.3 2.1M851.4 615.4l11.5 0.6M867.3 743.8l2.6 7.5M762.9 685.5l10.5 5.6M863.9 672.7l-2.5 4.8M712.0 723.3l4.0 4.9M791.1 804.4l-10.2 1.0M823.3 772.2l6.5 9.3M869.4 651.1l-5.6 5.0M757.6 669.3l1.7 4.7M902.0 719.5l-2.1 3.7M730.4 721.1l-4.1 10.1M772.0 635.5l5.2 10.6M903.7 598.8l-4.8 7.0M918.5 716.1l-0.9 9.6M799.5 697.7l-6.3 2.5M779.9 642.9l3.4 10.5M728.5 687.1l-1.0 5.0M783.9 731.8l3.5 11.3M900.3 768.1l3.8 3.3M742.7 770.4l9.2 0.7M899.3 722.9l9.3 4.4M886.7 682.0l-2.5 9.5M722.5 637.4l2.5 7.6M811.8 800.5l3.9 7.8M826.1 643.9l3.1 4.0M854.2 735.6l10.5 3.5M820.1 735.4l4.2 8.8M867.8 620.7l-10.5 4.1M880.1 728.2l2.3 3.8M723.8 772.7l-2.6 10.9M915.7 592.8l3.9 0.9M711.5 672.9l-8.5 5.4M836.3 742.0l-10.1 4.0M726.5 727.7l3.5 5.1M784.1 615.3l-3.5 3.3M713.3 634.8l-1.4 8.2M802.8 728.3l6.3 9.1M830.9 779.2l-2.7 10.3M849.4 799.0l2.2 3.4M719.9 701.9l10.1 1.7M908.3 788.4l5.5 0.4M811.0 624.0l7.4 3.2M706.7 615.0l-1.7 6.3M916.5 778.1l0.1 8.7M743.6 710.8l5.7 7.7M753.3 802.8l4.4 11.0M902.0 592.1l-9.9 3.2M911.6 708.5l6.4 2.1M789.1 619.1l-10.1 4.7M720.4 755.6l6.4 1.0M833.9 724.1l4.8 9.3M715.4 696.7l-0.5 9.1M868.8 656.8l3.8 1.4M792.3 617.1l4.9 5.2M765.9 738.6l-9.9 2.9M754.2 646.2l-9.2 3.7M848.0 756.3l6.9 2.3M800.9 745.6l-2.0 4.0M839.8 789.0l0.0 8.3M863.2 757.8l-9.3 5.2M802.3 699.5l4.0 4.1M709.6 804.3l-11.2 4.1M886.7 746.8l1.7 7.4M825.7 704.2l-2.1 5.7M848.7 740.9l-10.7 4.2M741.4 602.3l5.6 9.3M725.8 756.5l-3.0 7.2M845.1 725.8l1.9 9.4M904.7 702.2l7.6 1.6M893.5 643.7l-10.6 3.3M775.9 618.2l4.4 0.8M713.2 643.4l-7.5 5.9M813.9 694.7l-6.1 8.8M779.3 590.4l-8.0 8.9M718.4 733.9l-1.5 7.4M752.9 620.1l7.8 7.2M764.1 701.4l-8.6 2.2M850.4 767.6l-11.4 0.9M765.8 792.2l-7.2 1.3M821.1 592.2l-3.7 9.6M915.0 655.1l3.7 6.9M857.4 728.6l1.8 7.1M854.0 631.2l-1.8 6.2M710.1 802.4l-4.2 4.6M883.6 637.1l9.3 2.0M752.1 666.7l8.0 7.7M823.4 743.7l5.4 5.5M806.3 757.0l6.8 0.1M905.6 700.4l6.1 10.0M899.9 797.3l7.4 6.4M898.8 625.0l11.2 3.1M914.4 712.0l-6.0 2.0M792.0 617.6l7.1 3.8M856.4 604.6l-0.9 4.1M730.7 709.3l-4.6 0.6M847.7 669.1l0.3 7.5M851.0 753.7l-5.6 3.3M751.2 609.5l8.2 5.1M815.0 772.4l-0.3 10.5M761.6 695.6l8.7 4.0M817.8 771.5l4.9 1.3M860.3 751.7l11.2 3.7M780.8 623.3l8.2 8.6M752.5 655.4l3.2 4.7M889.1 696.3l9.7 1.4M750.1 625.7l-4.7 0.3M821.8 718.7l-1.4 11.4M907.4 712.1l4.1 1.3M879.4 697.8l3.3 5.7M854.5 653.7l-5.5 4.8M720.9 667.6l-8.1 7.2M852.1 653.9l7.5 1.7M718.9 657.9l-8.1 4.1M852.9 675.2l-5.6 9.3M886.3 617.5l1.8 5.5M827.8 610.0l-3.6 8.8M804.0 804.1l10.1 4.5M851.8 618.5l7.8 9.0M738.5 749.4l-2.9 6.8M772.9 643.8l-6.0 0.9M735.2 613.7l-4.9 11.0M839.5 635.1l-9.4 4.9M752.7 590.8l-1.1 4.8M758.5 649.5l11.1 4.4M913.7 606.9l-7.6 0.8M785.4 665.5l0.9 11.5M912.4 763.5l-2.5 3.3M897.0 759.9l7.6 2.7M813.5 617.9l-8.4 2.4M780.4 654.4l3.3 8.7M829.3 627.7l-0.5 11.9M913.3 729.3l10.0 2.0M785.3 708.8l-6.0 2.3M898.1 607.8l0.8 7.4M876.8 633.0l6.2 5.3M870.1 789.2l9.4 3.0M800.7 714.0l2.9 10.2M814.6 664.6l3.8 2.1M742.1 680.9l9.3 2.9M810.0 748.7l4.3 6.8M896.8 790.4l-4.5 9.3M823.2 791.2l5.7 2.7M896.6 681.8l2.5 5.1M823.3 601.1l7.4 5.7M776.2 595.6l3.5 5.1M789.6 656.4l3.2 5.4M829.5 755.4l-3.4 10.7M893.5 609.4l6.2 0.5M724.3 786.1l5.9 2.4M844.6 675.3l5.3 1.9M791.0 660.4l11.0 0.0M870.5 691.7l-9.0 2.5M790.9 698.1l4.9 5.8M787.9 648.3l-3.8 5.4M884.9 799.2l-5.5 2.8M824.0 741.8l8.8 2.2M768.9 612.4l-1.0 10.9M789.5 669.0l9.1 5.0M781.2 744.9l-6.0 1.7M807.8 684.8l3.9 2.1M868.7 677.2l-1.4 5.0M806.2 667.5l-6.0 0.1M713.4 782.6l-1.7 4.3M876.0 689.6l4.5 0.0M859.7 668.2l-4.6 1.1M851.0 708.3l-6.6 7.1M710.3 626.5l5.9 1.0M807.1 790.6l4.7 4.1M711.6 690.0l-8.1 8.2M893.0 619.1l-4.3 2.5M795.6 591.0l-1.9 3.6M739.5 763.6l-6.3 2.6M743.7 666.0l-2.6 4.1M846.4 693.6l8.4 1.4M837.5 758.3l8.0 8.8M754.7 649.9l-3.4 5.0M781.1 652.2l3.5 10.0M842.3 763.9l6.2 1.1M811.2 666.3l7.8 0.7M768.0 601.1l-0.8 6.7M891.3 692.4l2.9 8.4M855.3 797.0l1.3 7.9M780.4 750.7l-0.4 9.0M917.0 720.5l-7.8 2.3M773.4 760.3l7.7 2.0M782.6 639.2l-5.4 6.6M819.7 782.3l5.1 4.1M758.7 792.9l2.2 7.1M843.1 616.3l-6.8 2.0M807.9 639.0l-4.1 7.9M837.3 793.1l-11.5 3.1M733.7 627.3l5.0 0.2M812.0 751.4l-3.9 4.5M895.8 617.3l1.2 9.2M783.7 779.8l4.7 4.8M918.9 795.0l-3.9 5.6M910.8 699.3l6.0 1.8M903.2 694.2l-6.0 3.5M807.4 686.2l2.7 11.3M715.4 608.8l4.1 1.3M744.1 631.7l7.4 6.4M825.4 650.6l6.5 0.9M733.0 753.7l4.6 7.8M888.5 667.1l-3.4 3.3M850.4 718.1l1.1 6.6M815.2 768.8l8.5 8.1M784.4 728.7l-3.8 5.5" stroke="#137016" stroke-width="1.0" stroke-linecap="round" fill="none" stroke-opacity="0.85"/>
<path d="M843.3 633.8l-1.0 2.3M874.7 782.1l-4.0 1.2M727.1 676.9l0.7 3.1M803.1 768.9l1.7 1.7M743.9 769.6l3.4 0.7M739.9 682.1l-0.2 3.4M914.8 706.8l1.4 1.7M853.5 611.7l0.8 3.6M893.0 665.1l-1.1 2.2M776.4 761.2l0.7 3.2M719.7 684.1l-1.9 3.5M839.4 672.3l1.4 1.8M906.3 718.7l1.1 1.9M826.8 715.4l-0.1 2.6M725.7 680.5l0.5 1.8M833.2 776.3l-0.7 1.7M742.8 753.1l1.7 1.3M804.3 600.0l-3.7 0.5M889.7 687.0l0.7 1.8M767.0 691.3l-2.6 1.0M905.3 762.1l-3.4 2.0M721.8 785.8l-2.0 0.3M815.8 797.2l-2.3 2.7M735.7 635.2l-1.3 3.9M910.3 695.3l0.4 2.1M810.4 597.7l-2.4 1.2M849.4 682.2l0.7 1.4M761.8 619.7l2.2 0.2M812.0 717.4l-1.3 2.9M735.4 669.2l0.4 1.7M707.1 638.1l2.0 0.3M715.4 661.0l1.6 0.3M858.5 745.3l-1.4 0.8M880.3 785.0l1.5 4.1M820.8 715.8l2.1 3.3M793.6 622.6l-0.9 2.9M784.3 629.3l-1.7 1.2M746.4 785.3l-2.2 0.1M732.1 793.0l2.2 1.4M745.5 800.0l-0.7 2.0M913.0 695.4l1.6 2.5M746.3 694.7l2.9 2.7M737.6 652.9l-2.2 0.9M888.7 805.1l-1.9 2.5M863.6 690.5l0.9 3.3M708.8 654.8l3.5 0.5M722.7 691.0l-0.8 2.6M834.9 781.5l2.5 0.9M847.2 786.8l-3.1 2.8M759.6 604.5l2.1 3.5M773.8 719.3l3.0 0.3M850.8 653.0l-2.1 1.3M867.4 622.4l3.7 1.0M768.7 601.5l-1.8 2.2M748.0 742.9l1.8 0.9M746.1 689.2l3.3 2.6M746.1 700.6l3.2 0.5M723.1 732.9l3.1 3.0M864.4 664.8l2.1 0.4M887.6 761.8l-0.6 2.9M910.1 743.1l0.9 4.0M884.7 691.5l1.3 3.9M809.3 745.6l-1.7 1.7M916.6 769.6l1.2 3.3M804.3 594.1l-1.6 0.9M725.8 765.5l-1.2 3.4M913.7 783.5l-3.6 2.2M806.5 700.5l3.3 1.2M790.0 658.3l-0.8 4.1M770.9 655.9l-1.7 3.6M841.8 717.7l-1.7 1.9M824.8 734.2l-4.0 1.5M891.1 762.9l-1.8 1.2M916.6 804.1l-1.2 2.0M799.9 592.5l3.9 1.2M771.3 688.9l-1.5 0.3M836.6 664.6l-1.9 2.2M918.7 757.1l3.6 0.2M745.4 743.7l0.5 2.1M806.1 680.8l-3.2 0.3M814.4 732.7l-0.9 1.8M728.9 620.8l-0.7 3.4M803.2 624.3l-0.0 1.7M737.2 730.8l2.6 3.6M860.4 688.1l-1.7 0.5M902.3 781.9l4.2 1.0M867.9 613.9l1.0 2.9M909.8 671.1l-3.0 1.3M843.7 635.7l-4.0 1.0M855.9 798.3l3.4 0.4M885.1 726.1l3.8 0.2M906.3 663.9l-0.6 1.9M708.0 695.8l-1.1 4.2M771.5 664.2l-3.2 0.7M814.1 709.8l0.3 2.3M864.3 724.8l0.0 2.8M758.4 737.2l3.0 1.5M879.4 623.4l-0.8 4.3M844.3 746.0l-0.5 2.2M850.2 648.2l-2.8 1.6M786.0 765.9l-2.7 3.6M900.0 794.2l0.2 2.0M807.7 611.2l-2.3 3.2M850.9 701.6l-2.9 2.7M903.6 693.3l1.9 1.5M731.4 784.0l-1.3 0.9M725.3 727.5l-1.4 3.7M853.4 731.5l2.4 1.6M912.7 643.9l3.6 0.0M854.5 796.5l-2.5 0.3M774.7 740.5l1.5 0.4M858.8 690.9l0.3 1.5M894.4 595.1l-2.2 1.8M757.7 728.6l2.6 2.3M734.8 731.2l0.0 1.9M836.4 721.2l1.5 0.9M724.0 647.2l2.1 0.3M709.6 742.3l3.6 2.5M897.1 632.7l-1.9 0.5M713.2 636.8l-0.2 2.0M803.0 669.9l-3.7 1.3M906.6 596.1l1.3 2.8M785.2 681.4l1.2 1.6M722.5 669.9l-2.0 1.9M894.7 676.9l-1.6 0.9M857.2 626.5l-4.1 0.7M711.6 632.7l-3.3 0.8M803.1 769.3l2.4 2.1M822.8 617.3l1.1 4.3M778.4 687.2l-1.3 2.6M728.3 672.1l-1.6 2.1M726.8 600.7l-2.1 1.0M777.0 751.0l-4.0 1.2M809.5 800.0l-1.5 0.8M730.0 743.4l-0.6 3.9M790.8 791.2l2.1 2.7M870.9 601.2l-1.0 2.0M910.1 731.9l-2.5 0.1M801.7 744.1l-3.4 1.6M793.2 717.3l-2.3 1.6M717.6 672.1l0.6 2.7M782.5 703.5l-1.5 1.4M861.2 675.9l1.3 1.5M889.9 621.3l3.7 1.9M777.2 614.0l2.2 2.1M809.2 755.0l-1.7 0.1M718.2 606.9l-1.7 0.7M780.6 588.7l-2.8 0.5M846.7 698.7l4.3 0.8M790.2 747.4l-3.2 1.0M746.3 687.5l1.0 4.0M808.5 692.0l-1.1 4.0M791.7 609.5l3.1 1.3M913.3 753.5l1.5 3.9M793.2 729.1l2.5 1.0M801.6 644.6l-3.0 3.0M772.1 641.2l1.4 0.9M905.3 735.8l3.2 2.6M815.7 774.7l0.1 3.3M752.4 791.2l-1.6 1.7M879.2 662.4l2.6 1.4M835.5 749.2l-3.4 1.7M855.8 714.0l3.3 2.4M715.9 746.8l-1.1 4.2M873.3 782.6l-4.0 0.0M821.1 635.7l1.7 0.8M739.8 762.5l-1.8 1.9M818.4 592.0l0.7 2.1M789.0 712.5l-1.9 4.0M845.9 774.1l-4.0 2.1M709.1 617.3l-1.4 0.9M877.7 752.1l-1.9 0.2M772.2 799.6l3.1 2.7M886.6 599.0l-3.0 0.9M880.4 783.6l-0.6 2.4M859.6 654.6l-2.0 1.6M804.7 700.2l-1.4 4.2M826.0 690.4l2.0 4.0M819.0 626.7l0.8 1.3M878.0 708.3l0.6 4.1M725.6 647.1l-2.2 0.3M912.2 782.8l3.1 1.6M808.3 731.3l0.6 3.8M849.6 715.9l-2.5 3.2M815.0 599.5l0.6 1.9M753.2 602.2l-0.9 2.8M850.6 590.6l-1.5 2.6M786.2 765.0l-3.8 1.0M904.6 769.4l1.7 1.2M883.8 724.5l0.5 2.3M818.5 640.5l-0.3 4.3M815.3 594.7l-0.5 3.7M836.1 783.0l-3.8 0.0M863.7 802.4l1.2 2.1M706.6 797.2l1.3 1.3M824.3 767.4l1.1 2.3M872.4 620.8l2.3 1.2M769.0 656.0l-1.9 0.8M840.7 795.3l4.3 0.7M716.9 695.9l-2.2 1.3M810.4 644.0l2.3 2.5M824.1 728.6l-0.7 1.6M761.8 690.0l1.6 0.7M766.0 609.3l0.9 1.7M707.8 606.9l-2.8 2.4M771.3 690.7l-1.0 1.6M890.6 782.4l-3.7 0.2M863.0 770.3l-2.1 1.6M783.1 798.4l-3.4 0.5M784.0 729.0l2.7 0.3M802.7 631.1l-0.8 1.4M793.2 619.9l-0.4 4.4M902.2 686.8l-1.8 1.0M773.1 665.4l-2.2 3.8M819.8 802.1l-1.3 3.7M894.6 738.3l-2.2 1.8M895.5 620.9l-3.3 1.6M727.3 590.6l1.6 3.6M807.1 764.7l0.2 1.9M709.8 732.5l-2.5 1.6M721.3 663.9l2.3 3.3M784.2 740.1l0.4 2.1M782.7 610.9l4.4 0.6M757.4 798.6l0.8 4.1M737.4 589.3l4.2 0.6M882.0 669.4l-0.6 2.6M745.9 746.1l4.2 1.3M797.8 659.8l-1.1 2.5M852.7 794.2l3.5 1.7M716.8 712.6l2.6 2.8M874.0 628.1l0.9 1.7M891.5 708.0l1.6 3.4M707.1 636.0l2.7 3.3M778.8 684.8l1.4 1.7M783.2 803.7l-0.7 1.8M802.0 763.3l-2.0 0.9M776.8 617.3l-4.3 0.9M738.6 699.6l2.5 2.8M716.2 623.9l-1.3 3.9M917.9 628.8l-2.0 3.7M788.0 710.3l0.3 1.7M785.7 634.7l-2.3 1.9M710.4 748.4l-2.5 2.7M719.1 621.8l3.7 0.9M896.9 794.6l-2.1 0.5M775.8 781.6l-1.6 0.5M897.5 687.2l-1.9 2.9M845.8 661.5l-1.6 1.3M749.8 679.5l2.9 2.9M892.1 617.5l2.8 2.0M839.7 707.3l-3.4 0.9M722.2 642.7l-2.3 0.3M799.9 696.7l2.7 2.0M748.7 762.4l0.1 4.0M885.5 608.0l2.4 0.1M912.5 595.4l1.5 2.3M912.4 759.9l1.5 1.1M748.1 750.2l-3.3 0.8M784.1 648.4l1.5 1.4M915.8 660.1l4.0 0.4M917.1 680.8l-1.7 1.3M840.5 761.8l-1.4 1.6M771.7 667.0l-2.3 1.9M787.9 625.8l-2.4 0.6M762.7 797.8l-0.5 3.5M812.3 674.7l1.0 1.6M752.8 643.1l1.0 1.4M837.0 705.6l2.5 0.0M902.7 617.5l0.4 2.9M871.5 730.1l1.8 0.2M865.6 593.8l1.7 1.4M765.7 796.4l1.8 2.6M782.7 591.6l0.2 2.5M789.4 800.1l-2.7 3.3M787.9 670.5l-0.1 3.2M860.3 642.8l2.3 0.3M756.0 686.2l-3.0 2.9M764.0 695.5l3.6 1.1M864.8 748.2l-2.1 3.1M905.6 726.7l3.2 1.2M899.0 677.7l0.2 3.0M721.4 772.0l-2.9 3.0M900.2 613.4l1.9 2.9M880.7 674.8l2.3 3.4M875.3 735.8l-1.8 1.9M714.4 711.8l2.8 0.1M909.4 799.5l1.4 1.2M728.3 592.2l1.9 1.1M786.3 591.1l1.1 2.2M871.3 658.1l1.6 1.2M740.7 716.4l-3.4 0.3M735.8 763.7l0.2 2.5M787.8 649.0l0.1 2.6M786.3 778.4l1.8 4.1M915.1 768.0l1.0 1.4M745.8 766.9l1.9 1.9M815.7 793.0l3.7 0.7M808.8 740.8l2.4 3.6M748.5 777.1l3.1 3.3M711.4 719.8l-3.5 1.8M839.5 703.9l-1.9 0.7M884.2 791.4l-0.8 1.7M783.7 761.3l-2.3 0.1M806.2 694.0l3.5 2.6M904.9 671.8l-3.6 2.4M857.4 639.9l-2.7 0.1M721.7 688.4l-2.6 3.0M736.3 649.8l2.2 2.3M847.0 605.2l-1.6 0.4M821.9 643.9l0.0 1.8M848.5 690.1l1.2 2.5M764.6 734.0l0.8 2.5M740.1 660.6l3.1 1.1M708.1 774.4l-3.9 1.6M810.4 648.8l-3.2 2.0M747.3 679.9l2.1 1.6M764.6 621.3l4.0 0.1M719.1 650.3l2.4 0.9M805.0 722.8l-2.3 2.0M884.9 693.0l2.6 0.9M747.2 741.4l-0.9 1.5M724.3 744.7l0.7 1.5M741.8 781.1l-1.8 0.8M801.4 662.2l1.0 4.4M856.3 757.6l-2.0 0.2M809.3 699.8l0.6 3.3M913.8 640.0l-3.4 1.9M832.9 798.0l-3.6 0.3M883.9 761.0l-1.7 3.5M748.7 632.6l0.1 3.5M889.9 777.9l-0.8 1.9M842.1 762.8l-2.0 0.1M907.6 638.7l-2.8 1.2M822.4 621.7l0.4 4.2M840.8 663.2l2.6 1.0M864.8 754.2l-2.0 1.0M759.3 621.9l1.0 3.6M814.2 640.9l1.7 0.8M772.0 706.4l-3.4 1.0M814.7 635.9l-1.0 4.2M882.9 745.5l1.4 0.6M778.1 788.4l2.1 2.9M726.3 665.4l2.1 0.8M768.0 722.2l1.9 3.7M914.6 596.5l-2.0 1.8M867.2 722.1l2.2 3.5M858.6 627.1l-2.5 1.3M726.2 659.1l1.3 3.1M910.2 758.7l-4.1 0.4M758.5 801.7l2.0 0.6M746.3 741.9l-3.4 1.2M757.1 793.0l3.7 2.0M786.1 774.9l-1.1 3.4M773.1 602.0l-1.7 0.2M787.3 788.3l4.1 0.0M756.0 720.0l-1.1 3.3M902.1 608.2l-0.7 4.2M717.1 604.3l-3.1 1.7M778.0 746.7l4.3 0.9M844.6 648.2l1.4 1.2M863.1 712.3l-0.7 2.7M731.2 664.0l0.2 1.6M756.6 631.0l-1.8 2.8M714.8 621.9l2.2 1.0M847.6 695.0l-0.3 2.5M905.1 761.5l2.4 0.3M743.7 605.0l1.0 1.5M884.2 754.4l1.0 2.4M838.2 714.7l-1.7 0.2M729.3 772.5l2.8 0.9M858.0 688.4l2.2 1.5M820.1 673.5l1.1 2.0M743.9 609.6l2.9 1.0M912.9 789.3l-2.8 1.9M874.9 612.2l-0.9 2.7M755.9 687.2l0.8 1.4M887.4 771.3l2.3 0.7M841.9 727.8l-1.3 2.7M875.2 669.4l-0.1 3.5M837.3 778.2l1.1 2.1M808.8 603.0l1.1 1.1M743.0 613.6l-1.8 0.8M821.7 764.1l2.8 2.6M746.3 744.2l2.5 0.5M892.6 670.3l2.5 0.6M818.7 661.9l2.4 1.2M901.6 786.1l-1.5 3.7M743.4 604.6l-0.4 1.7M846.1 616.7l-1.0 2.3M820.8 671.0l-3.1 2.5M887.3 699.3l0.2 2.0M867.5 607.0l1.5 0.4M750.6 710.3l0.6 1.4M915.3 710.9l-2.1 3.5M732.6 626.5l-1.0 2.2M874.4 802.0l2.7 0.5M826.5 799.0l-1.8 0.0M752.6 647.9l0.7 2.2M748.9 680.1l1.7 1.0M839.1 695.9l-0.7 1.6M802.8 693.2l-1.0 1.7M799.4 705.5l-3.7 0.1M756.8 631.3l1.7 2.9M803.1 655.7l-1.2 1.5M738.3 697.4l-0.2 2.2M752.9 669.8l3.9 1.6M854.5 631.7l2.7 1.0M789.2 785.3l-0.1 2.6M838.4 738.3l1.5 0.4M765.2 745.6l-2.5 2.6M714.9 657.0l2.3 3.7M783.0 705.9l4.1 1.1M843.7 641.9l2.7 2.5M823.2 744.7l0.3 2.0M789.4 796.2l0.9 2.1M721.1 628.1l1.1 2.1M711.0 714.2l-0.1 4.1M741.9 675.4l1.8 2.9M712.4 620.0l-1.2 2.7M725.3 728.0l2.4 1.2M881.6 649.9l4.1 0.6M767.9 655.3l-0.4 3.8M846.8 743.4l-0.4 4.4M808.4 647.0l-3.4 1.6M880.1 610.0l-1.3 3.7M769.1 738.1l1.2 2.9M843.4 754.0l-0.2 4.2M804.7 622.7l3.5 0.5M911.7 670.9l1.9 0.6M722.4 638.3l0.9 1.5M856.5 743.0l-2.9 1.3M782.2 688.7l-0.7 2.9M790.0 717.9l-0.9 4.3M860.9 766.7l-4.1 1.5M746.1 766.5l-0.7 2.8M807.9 610.4l-2.4 1.5M843.4 722.8l-1.2 1.6M715.4 763.4l0.7 1.5M775.4 647.0l-1.4 1.4M788.3 692.4l-0.7 1.9M845.4 695.4l0.3 2.1M863.7 695.9l-0.6 1.7M762.7 757.7l0.3 3.0M911.9 649.0l2.7 0.8M705.5 675.1l-0.9 1.5M706.2 755.1l-2.0 1.7M720.1 651.9l0.8 3.9M718.9 741.5l-0.9 1.2M864.3 764.4l1.3 2.5M709.3 668.7l1.5 1.2M739.1 619.3l2.5 2.0M776.7 804.2l-2.4 2.7M737.8 659.0l0.9 3.1M806.4 793.9l-2.3 0.3M917.7 635.1l3.4 2.6M816.2 702.1l-0.6 1.8M811.8 779.0l3.4 0.2M766.3 734.5l-3.6 1.0M816.0 795.5l-1.5 3.9M740.7 648.9l2.1 1.2M717.0 697.3l0.9 3.3M780.2 679.7l3.8 1.0M785.9 760.4l-3.5 2.3M736.4 802.9l3.1 1.1M867.7 801.0l-1.7 3.1M728.1 599.9l-1.0 1.3M901.6 628.9l1.5 2.8M740.7 599.5l-0.3 4.0M882.4 768.3l1.2 1.3M817.9 798.3l-3.4 1.1M785.5 677.9l2.6 2.3M849.0 628.9l1.7 0.7M866.2 625.8l-3.0 2.1M775.5 748.0l-1.8 0.9M748.6 781.5l1.2 1.8M804.5 669.6l-0.6 3.7M874.7 762.2l0.5 4.0M883.2 720.7l2.1 1.4M737.1 722.0l-2.5 0.4M793.5 771.5l0.8 1.8M755.1 799.6l0.1 4.2M753.0 674.6l-0.3 2.3M833.0 726.4l3.8 2.4M784.0 718.0l-1.5 1.5M851.1 606.6l-0.6 3.3M753.0 695.0l-1.8 0.3M851.9 668.1l-1.6 1.6M750.3 755.5l1.5 1.1M741.9 641.8l0.5 4.3M896.7 595.7l1.9 2.5M740.4 599.9l4.2 1.0M722.3 774.5l1.6 0.2M709.6 769.7l-2.6 1.4M711.5 647.8l1.0 3.2M787.6 799.2l2.6 1.0M872.4 600.1l3.7 2.1M900.3 719.1l3.2 0.1M860.6 775.5l-2.7 1.1M837.3 655.2l-2.8 1.3M808.8 696.9l2.8 2.6M769.4 764.7l-2.5 0.0M718.6 668.7l-2.7 0.1M794.7 708.4l2.6 1.1M785.2 629.3l0.5 2.4M710.5 611.3l1.9 1.1M831.4 804.6l-2.4 3.7M804.1 789.7l-1.8 1.5M717.9 686.9l-3.3 0.6M772.9 775.5l2.0 0.0M903.6 593.0l1.3 1.0M832.8 778.0l-3.9 2.1M791.4 683.1l-2.5 0.6M723.0 761.1l-3.9 1.9M734.5 680.1l2.6 1.6M880.7 734.9l0.2 3.3M916.8 739.1l2.4 3.6M799.3 629.8l-3.3 0.9M710.4 801.0l-3.2 1.9M759.4 755.2l-1.2 1.0M732.5 601.0l-2.2 2.8M857.9 633.2l1.0 1.9M856.4 600.0l-1.4 1.0M728.0 594.5l1.1 1.1M866.4 608.6l-2.3 0.9M867.5 787.3l2.4 2.8M851.0 678.2l-1.7 0.7M772.2 615.4l-1.4 2.6M744.0 692.3l3.3 2.4M907.3 670.7l0.4 3.2M842.6 629.4l-2.7 0.8M848.0 788.8l-3.3 2.7M772.8 681.7l-2.8 1.7M820.8 791.8l-4.0 1.6M876.9 706.9l1.4 1.3M758.9 778.1l-1.5 1.0M834.1 632.5l1.3 1.5M877.0 675.5l1.3 1.9M764.6 621.2l-0.7 3.4M873.9 752.9l-0.2 4.1M736.2 776.0l1.3 1.4M726.3 655.1l-0.9 4.1M720.0 630.7l-0.3 1.5M727.0 596.4l1.0 3.5M809.9 790.3l-2.7 3.0M822.8 783.4l-0.5 1.5M881.0 720.7l-2.0 3.1M719.3 675.9l2.4 0.6M879.9 628.2l-3.0 0.9M772.6 758.5l-0.1 1.6M897.3 700.5l-0.2 4.2M867.8 649.6l-1.6 0.7M741.6 594.1l-0.7 2.2M706.8 720.1l1.5 1.2M736.7 663.5l2.1 0.5M919.2 804.3l0.8 2.7M713.4 622.6l-1.3 0.8M813.9 628.7l-1.9 2.4M807.8 771.9l-0.7 3.0M732.2 712.5l-0.6 4.0M857.3 625.1l-1.5 0.9M906.1 787.5l1.1 1.8M800.0 637.5l1.7 0.8M915.8 678.5l1.7 0.5M716.8 634.3l-1.5 2.3M912.9 738.9l-4.1 0.1M826.8 641.7l-3.5 2.0M772.0 755.1l1.6 1.8M804.8 658.0l-2.3 2.8M822.2 704.0l1.0 3.8M807.7 678.7l-2.5 0.5M723.4 590.8l-0.2 3.7M741.1 617.1l-3.0 0.1M750.4 741.4l-0.7 2.0M830.9 761.9l-2.7 2.3M915.9 796.3l2.0 3.0M766.5 719.6l-4.3 0.5M752.6 684.6l-2.8 0.0M755.9 701.9l0.9 1.2M753.8 704.0l-2.2 1.2M753.8 715.4l-2.8 0.5M760.8 662.2l2.6 0.3M868.2 755.4l1.5 1.0M840.0 785.3l-1.0 3.1M849.6 702.7l-0.5 1.8M866.8 639.1l2.8 1.5M807.8 633.4l-3.9 0.1M902.1 612.2l-0.6 4.1M751.5 782.1l0.5 3.3M877.2 666.1l1.5 0.4M760.2 654.0l3.4 1.3M729.6 634.8l-0.3 3.4M905.9 636.9l4.4 0.6M901.8 726.8l-3.7 1.1M711.3 601.5l-1.3 2.9M818.2 638.8l-0.6 1.5M767.4 705.3l-3.2 0.9M807.2 661.4l-3.9 1.4M824.9 612.3l2.0 0.1M870.0 637.5l1.2 1.8M707.0 589.5l1.1 1.6M708.0 801.3l-2.7 2.1M730.7 638.2l4.0 0.8M787.5 792.0l-3.7 0.3M836.6 738.1l2.4 3.6M890.4 615.5l3.0 2.7M891.0 695.8l-1.6 0.6M862.7 628.0l2.0 0.1M724.2 722.2l-2.9 3.4M878.8 683.0l3.6 0.7M839.3 675.3l-2.1 3.9M868.6 745.5l-2.5 0.4M876.1 661.0l-3.9 0.5M916.7 749.4l-0.8 1.3M861.5 751.0l-1.3 2.3M729.2 691.3l-2.4 0.9M882.8 742.8l1.2 2.7M918.2 637.0l0.9 2.3M802.4 621.0l0.1 2.1M919.8 761.7l2.3 2.4M812.2 795.2l-0.5 1.8M793.2 803.0l1.8 0.8M861.8 733.6l-3.5 2.5M880.6 595.7l1.7 0.2M878.0 777.8l0.9 1.4M788.2 718.6l-1.5 1.1M803.0 715.0l0.7 2.2M908.9 658.7l0.2 3.8M883.7 650.9l-1.1 1.2M866.6 794.6l-3.6 2.4M824.3 705.2l-0.8 4.2M773.3 707.9l0.3 3.9M710.8 708.2l-1.5 0.4M821.9 663.5l1.4 3.0M867.2 721.8l2.7 1.9M863.6 626.2l2.2 1.8M710.9 623.3l-2.1 3.0M857.0 721.7l1.7 2.3M798.9 756.9l2.2 2.2M717.0 597.0l-0.3 1.8M889.1 625.1l3.2 0.0M727.8 604.1l-1.9 3.0M918.9 589.3l1.2 3.5M737.1 600.7l4.0 0.6M755.2 698.2l-3.3 1.5M753.7 760.9l1.3 1.1M812.7 661.3l1.2 2.0M826.6 695.5l-1.4 0.8M816.5 592.5l3.6 1.7M882.5 591.4l2.2 2.3M918.3 629.0l2.0 1.7M872.3 736.3l-2.9 2.1M727.4 776.8l-3.0 0.4M774.0 649.0l-3.4 0.0M705.8 675.9l-1.1 1.6M839.1 782.7l2.3 0.7M793.2 719.2l-2.0 0.9M870.2 640.8l-4.1 0.7M761.6 803.3l-1.7 3.0M901.1 708.1l-0.5 1.7M768.3 710.6l-2.2 0.1M786.3 623.5l0.8 3.6M785.6 667.3l-0.9 2.4M775.3 592.1l2.2 2.1M742.3 610.9l1.6 1.3M827.9 667.4l0.8 3.3M915.2 801.2l-0.4 1.6M802.0 673.3l1.1 2.9M708.0 696.8l0.3 4.0M847.3 617.0l-0.1 1.9M788.1 642.2l-2.4 1.7M794.8 625.4l3.6 1.3M767.0 774.9l-2.1 1.5M739.2 723.5l1.4 1.5M815.8 771.8l3.2 0.0M889.7 770.0l-3.0 1.6M803.5 687.0l-0.2 1.8M804.0 747.0l-0.9 1.7M913.7 595.4l1.3 2.7M765.3 762.0l-0.9 3.0M900.0 645.3l1.0 2.4M847.6 667.0l-2.2 2.5M807.1 751.0l-1.9 1.7M839.2 600.5l-0.9 2.6M766.5 590.1l-4.2 0.8M918.1 735.2l-0.8 1.8M812.2 748.5l-2.7 0.6M724.6 611.9l3.0 0.5M730.4 785.2l-2.7 2.1M780.4 629.5l3.3 1.4M895.7 708.0l0.7 4.1M805.4 799.5l1.3 0.8M850.3 682.6l0.1 3.9M813.7 671.3l0.9 3.4M723.7 634.5l0.8 4.4M902.5 639.1l0.4 2.2M914.9 616.7l0.6 1.7M834.9 631.3l3.2 0.7M810.6 621.5l-1.6 0.3M841.6 711.7l-1.4 0.9M821.3 604.2l-1.2 2.5M728.7 802.5l2.6 0.5M760.8 672.0l-1.1 1.2M707.9 603.0l2.7 2.8M847.9 666.7l1.7 0.2M861.7 709.3l3.1 1.4M883.3 786.8l-2.0 1.8M721.2 766.5l-1.8 3.8M825.0 635.8l1.3 3.2M812.2 731.4l-1.9 0.6M722.7 693.1l-1.8 3.6M855.5 795.6l-1.6 3.8M876.0 632.4l0.9 1.5M709.6 757.4l-2.4 1.6M797.9 685.3l1.4 2.5M776.0 792.9l-1.3 1.6M864.0 678.1l-1.2 2.4M737.9 731.3l-2.8 1.6M804.6 765.5l-0.7 2.7M894.3 643.7l0.3 2.4M766.0 704.0l0.0 3.1M745.4 762.9l-3.0 2.8M832.8 776.1l1.7 3.4M910.6 625.2l-2.2 2.6M779.3 655.3l-1.8 1.7M908.8 749.0l2.9 2.8M766.0 729.2l2.0 0.9M918.0 687.9l-2.8 3.3M721.7 763.1l-3.3 1.0M806.8 657.7l1.4 1.8M744.4 802.9l-3.9 1.0M808.1 675.7l0.0 2.2M756.5 617.6l-1.2 1.8M811.9 597.0l-3.6 2.5M736.2 709.0l0.4 3.2M848.4 594.7l4.0 1.1M772.4 767.3l0.2 3.0M729.3 775.4l0.2 3.8M779.6 634.2l-3.6 0.3M910.6 676.2l2.0 2.1M852.2 728.2l0.1 3.3M736.4 721.7l0.3 1.7M813.6 640.5l-1.7 2.2M713.0 712.7l2.8 3.5M904.5 778.7l1.7 0.3M812.8 712.7l1.8 2.7M771.7 784.2l3.0 0.0M749.2 726.6l3.9 1.0M747.1 801.2l2.1 2.0M886.7 608.8l-2.6 1.3M802.7 658.6l2.4 1.0M806.0 652.6l0.9 3.5M848.4 766.2l-1.3 2.0M914.6 710.1l0.1 3.5M789.2 795.3l0.5 2.3M789.0 773.6l2.4 1.0M797.4 757.5l1.5 0.7M797.5 783.5l2.9 2.7M894.9 654.5l-1.8 0.1M725.4 799.9l4.1 0.6M899.3 785.5l0.7 1.9M822.3 594.5l-2.6 1.1M827.3 749.0l1.4 2.3M777.8 609.8l-3.2 3.2M842.6 803.3l0.5 1.4M764.0 680.7l1.3 4.0M909.0 775.6l-4.0 1.9M889.2 701.4l2.1 0.2M781.6 778.2l3.0 1.4M735.0 723.4l1.9 2.0M834.7 751.9l4.3 1.3M706.4 605.3l-1.4 2.1M868.8 699.6l0.7 4.3M734.0 663.6l1.7 2.4M845.3 625.9l0.5 3.8M777.7 655.6l-3.2 1.1M753.4 622.0l2.9 3.4M842.8 639.9l1.3 1.4M788.5 638.4l2.5 1.7M768.1 794.9l-0.5 3.8M855.7 655.2l4.1 1.8M915.7 794.3l0.0 1.9M896.3 628.2l2.0 1.6M726.8 730.1l2.2 2.6M824.8 804.7l1.9 1.0M844.4 590.6l-2.7 0.2M778.1 768.1l2.6 3.2M844.6 745.1l0.5 1.8M769.5 594.6l-1.8 2.5M813.1 612.9l1.7 3.0M873.6 703.6l-3.5 0.3M873.8 780.0l-1.4 3.9M718.7 666.2l2.3 1.5M782.9 756.3l2.3 1.2M816.9 595.6l-0.0 4.2M861.4 601.6l0.2 4.3M777.4 591.2l-0.5 1.5M818.6 604.8l0.5 1.7M754.0 768.4l-2.9 2.7M781.2 708.6l0.8 2.0M770.9 784.8l-3.1 1.5" stroke="#1ca020" stroke-width="2.1" stroke-linecap="round" fill="none" stroke-opacity="0.9"/>
<path d="M818.3 711.4h0M861.2 728.9h0M801.9 702.5h0M706.1 774.5h0M919.8 658.7h0M814.9 694.6h0M913.8 636.8h0M918.8 667.9h0M820.6 780.4h0M757.3 741.8h0M754.1 784.8h0M763.1 721.8h0M794.8 708.2h0M791.6 717.2h0M727.7 613.0h0M745.3 642.6h0M771.3 591.6h0M782.4 705.4h0M832.4 792.9h0M835.1 765.4h0M872.0 629.1h0M729.0 720.8h0M842.4 689.9h0M918.5 704.0h0M778.2 730.7h0M733.0 696.3h0M716.5 775.2h0M714.7 601.1h0M784.7 591.7h0M871.9 596.9h0M737.0 794.1h0M894.3 722.1h0M802.3 700.6h0M850.1 744.4h0M734.0 598.2h0M707.9 627.7h0M876.5 671.2h0M724.0 706.3h0M889.8 795.5h0M863.6 605.9h0M868.8 771.6h0M726.4 719.6h0M789.1 666.5h0M743.6 723.9h0M777.9 755.2h0M852.7 637.1h0M800.6 760.9h0M761.7 599.6h0M816.7 635.2h0M790.1 734.5h0M909.1 744.9h0M833.7 673.0h0M724.6 625.6h0M896.6 713.4h0M887.2 677.0h0M745.4 620.1h0M723.5 751.1h0M868.3 600.0h0M725.0 718.2h0M839.2 698.7h0M825.8 746.8h0M911.2 619.0h0M729.9 635.4h0M707.8 805.4h0M919.3 709.8h0M850.6 644.9h0M846.6 673.2h0M770.8 774.0h0M820.7 741.2h0M820.7 738.5h0M840.0 804.4h0M835.8 604.1h0M861.6 685.5h0M823.2 720.9h0M863.8 604.9h0M787.2 639.4h0M884.3 722.7h0M885.1 628.0h0M906.2 669.1h0M720.7 659.0h0M810.1 795.4h0M883.9 733.7h0M874.8 695.9h0M724.4 725.8h0M711.7 790.5h0M882.3 750.3h0M802.8 709.2h0M825.2 591.4h0M909.0 684.9h0M898.2 640.6h0M860.5 798.3h0M908.9 688.4h0M721.3 750.6h0M753.7 653.7h0M896.1 669.5h0M736.4 766.9h0M716.3 723.3h0M748.9 616.3h0M772.5 779.3h0M837.0 779.9h0M892.6 784.4h0M894.7 676.7h0M852.9 782.7h0M801.3 659.8h0M825.7 793.2h0M762.6 774.3h0M840.5 648.7h0M742.8 727.9h0M734.5 666.9h0M710.0 689.8h0M903.7 672.9h0M814.1 705.2h0M728.7 680.1h0M710.5 666.1h0M823.5 749.7h0M721.3 667.1h0M782.8 677.9h0M840.3 592.0h0M817.4 757.4h0M845.3 680.6h0M861.1 672.3h0M751.6 703.5h0M726.4 781.7h0M914.8 617.1h0M716.5 742.1h0M872.1 773.6h0M792.3 737.1h0M865.9 665.3h0M709.8 782.3h0M818.0 760.0h0M804.0 596.0h0M908.9 715.7h0M807.9 795.6h0M860.3 678.8h0M882.1 750.3h0M751.2 662.7h0M773.6 742.5h0M917.5 680.9h0M740.2 736.7h0M839.0 622.9h0M725.2 767.8h0M823.1 723.2h0M837.1 713.2h0M763.3 598.5h0M799.6 600.3h0M920.0 591.0h0M790.1 708.4h0M740.2 676.5h0M827.4 652.4h0M729.3 723.5h0M895.4 789.0h0M843.5 731.3h0M738.7 734.1h0M725.3 732.0h0M821.6 783.2h0M915.8 752.0h0M794.7 759.1h0M797.8 658.0h0M866.9 722.6h0M882.7 747.6h0M749.5 762.7h0M728.8 649.3h0M744.3 727.7h0M771.0 689.1h0M792.2 627.2h0M910.2 757.5h0M801.1 731.9h0M840.4 712.4h0M722.0 717.8h0M808.7 617.4h0M868.2 663.2h0M848.7 746.9h0M886.2 635.2h0M835.2 723.2h0M832.6 713.9h0M767.8 608.0h0M779.7 794.7h0M839.6 691.2h0M779.6 801.7h0M754.4 689.6h0M827.1 618.5h0M757.1 631.4h0M891.3 796.5h0M849.3 631.2h0M712.1 717.3h0M879.9 801.6h0M909.0 651.8h0M879.2 769.8h0M827.8 723.2h0M752.0 664.7h0M893.5 770.5h0M835.6 797.8h0M864.6 783.6h0M763.6 802.4h0M912.0 625.4h0M889.9 720.8h0M733.2 701.5h0M875.1 776.8h0M799.2 743.5h0M815.4 705.5h0M874.1 638.4h0M870.9 609.0h0M883.3 640.5h0M714.6 731.9h0M847.2 594.5h0M717.9 754.8h0M783.3 758.0h0M819.9 761.7h0M889.3 777.4h0M707.5 789.1h0M802.6 788.4h0M750.9 773.2h0M774.7 672.8h0M713.2 775.0h0M856.9 590.0h0M794.7 616.1h0M731.9 743.4h0M765.1 632.8h0M877.6 671.4h0M764.3 641.4h0M878.3 781.3h0M863.0 638.0h0M745.2 657.2h0M908.3 659.0h0M777.0 791.4h0M849.2 642.4h0M877.2 650.3h0M865.9 630.1h0M731.6 704.5h0M766.6 592.3h0M893.7 787.4h0M757.0 783.5h0M848.2 595.3h0M827.3 681.5h0M829.8 752.4h0M881.3 599.0h0M804.3 674.4h0M879.8 658.6h0M888.6 683.3h0M747.9 661.6h0M795.1 681.7h0M831.1 732.8h0M878.2 666.7h0M751.0 771.5h0M916.3 745.8h0M883.1 630.6h0M720.2 656.4h0M834.1 706.2h0M855.3 733.3h0M795.8 669.0h0M775.4 663.1h0M796.8 764.0h0M706.2 648.7h0M869.6 697.6h0M880.2 614.1h0M707.9 800.0h0M883.9 769.7h0M849.8 757.2h0M917.9 772.6h0M876.6 726.6h0M777.6 630.2h0M707.3 789.6h0M912.1 796.2h0M776.5 677.0h0M737.3 736.0h0M708.4 741.4h0M741.6 652.3h0M916.6 740.2h0M755.8 768.1h0M845.0 735.0h0M751.0 785.5h0M761.7 704.4h0M807.6 637.3h0M770.4 751.2h0M856.6 758.6h0M895.5 789.0h0M755.7 735.7h0M754.6 733.4h0M808.9 789.7h0M891.4 764.5h0M794.5 688.4h0M770.0 796.2h0M769.9 686.1h0M762.0 759.6h0M877.9 668.3h0M777.2 775.2h0M909.8 711.0h0M788.7 664.9h0M793.3 726.7h0M899.0 718.2h0M819.4 623.9h0M759.5 651.1h0M768.4 790.9h0M914.4 768.3h0M862.8 721.9h0M882.7 595.6h0M897.1 683.2h0M878.6 656.0h0M746.2 668.5h0M873.5 673.0h0M911.8 606.7h0M864.6 659.5h0M848.8 788.7h0M759.3 751.6h0M735.3 619.9h0M805.2 799.1h0M834.3 748.7h0M816.7 593.6h0M712.3 702.3h0M907.3 634.1h0M885.3 744.7h0M798.3 647.2h0M820.7 748.1h0M892.7 606.5h0M847.4 605.0h0M888.8 675.9h0M884.7 590.2h0M800.8 589.7h0M775.8 710.2h0M781.4 692.7h0M780.5 785.7h0M827.9 789.1h0M840.3 750.4h0M856.8 712.1h0M719.6 799.1h0M778.7 782.1h0M914.4 792.7h0M820.7 640.5h0M903.3 743.7h0M911.7 796.4h0M865.6 785.2h0M836.6 629.1h0M852.2 774.5h0M733.2 719.9h0M887.9 763.5h0M908.0 793.5h0M771.5 747.2h0M917.4 589.9h0M820.5 678.5h0M813.5 761.0h0M782.9 740.7h0M824.1 632.7h0M918.7 762.2h0M710.8 640.3h0M765.5 769.6h0M888.9 727.6h0M895.8 589.9h0M753.9 745.9h0M731.6 728.8h0M869.9 688.7h0M841.1 732.0h0M788.1 680.6h0M808.4 772.8h0M774.9 709.0h0M724.1 651.2h0M816.0 784.5h0M740.8 785.5h0M829.9 681.2h0M737.9 789.8h0M836.7 593.5h0M858.4 657.3h0M750.2 648.9h0M799.7 676.3h0M848.0 613.9h0M858.9 777.0h0M858.2 612.9h0M836.4 661.6h0M853.9 646.1h0M823.4 707.2h0M782.8 646.6h0M876.6 702.4h0M855.3 646.1h0M766.0 768.4h0M881.8 732.4h0M810.9 630.0h0M811.4 772.8h0M812.7 610.7h0M713.1 653.7h0M892.1 672.2h0M809.1 635.1h0M904.6 725.6h0M820.9 698.8h0M747.0 674.2h0M898.1 591.7h0M817.1 634.9h0M733.6 723.4h0M733.4 636.5h0M793.6 652.7h0M897.6 648.6h0M756.5 622.9h0M744.2 637.4h0M769.5 702.8h0M864.9 682.2h0M727.3 687.7h0M862.9 790.3h0M908.6 636.0h0M748.2 662.7h0M855.0 794.7h0M729.4 758.6h0M707.5 701.6h0" stroke="#22b026" stroke-width="2.6" stroke-linecap="round" fill="none"/>
<path d="M869.6 626.8h0M777.1 790.8h0M825.0 638.1h0M827.2 751.1h0M808.1 609.9h0M875.5 782.3h0M893.3 739.1h0M802.4 783.7h0M705.6 798.2h0M806.6 720.2h0M777.5 759.6h0M787.0 615.3h0M820.9 668.0h0M886.4 737.9h0M854.6 684.4h0M846.8 792.4h0M903.4 785.9h0M778.6 627.3h0M758.9 761.7h0M892.1 739.5h0M800.1 712.4h0M744.4 647.0h0M891.2 741.6h0M771.3 643.8h0M719.8 695.7h0M899.2 644.4h0M857.6 751.0h0M811.3 612.7h0M912.2 782.1h0M802.2 735.3h0M826.5 742.2h0M747.1 721.1h0M819.2 593.0h0M836.8 683.7h0M706.4 653.6h0M895.8 593.1h0M775.2 747.9h0M866.7 624.9h0M708.8 774.4h0M739.3 765.0h0M736.1 726.4h0M899.6 803.3h0M733.3 621.9h0M811.8 764.3h0M722.5 760.2h0M769.2 718.7h0M857.6 719.0h0M735.1 743.1h0M909.9 600.7h0M845.4 687.8h0M812.3 651.8h0M716.4 716.6h0M774.9 611.6h0M712.6 648.7h0M745.5 650.7h0M837.8 779.2h0M800.3 601.8h0M715.9 737.0h0M856.0 620.3h0M721.8 612.9h0M709.4 736.2h0M909.9 613.0h0M734.0 737.6h0M804.2 626.6h0M744.8 760.7h0M854.2 600.7h0M850.7 614.2h0M810.7 610.6h0M751.1 770.2h0M812.2 696.6h0M742.5 665.0h0M825.9 684.5h0M768.3 715.5h0M726.9 693.4h0M864.2 753.0h0M818.4 748.6h0M778.2 668.9h0M799.6 617.1h0M723.7 789.2h0M878.9 777.4h0M919.8 687.7h0M824.8 691.3h0M735.1 605.6h0M837.2 612.7h0M878.7 729.6h0M837.5 695.4h0M886.8 637.2h0M781.1 701.9h0M859.9 607.7h0M777.6 680.1h0M886.4 734.0h0M759.6 737.0h0M740.6 770.4h0M769.1 730.4h0M899.8 722.9h0M908.1 623.3h0M786.4 705.8h0M879.5 802.9h0M906.9 788.1h0M758.3 787.5h0M737.3 795.5h0M789.3 671.0h0M856.4 729.1h0M773.4 645.0h0M739.9 798.3h0M852.9 615.3h0M741.0 767.6h0M760.6 660.7h0M881.5 697.1h0M809.0 741.6h0M890.1 760.5h0M762.0 722.3h0M751.4 643.8h0M737.7 744.4h0M789.4 641.2h0M856.6 668.3h0M869.5 788.3h0M915.8 803.5h0M741.7 794.5h0M757.2 797.4h0M808.7 664.0h0M730.1 758.4h0M877.9 755.8h0M757.7 701.0h0M915.3 624.2h0M853.3 662.4h0M826.8 701.6h0M737.0 590.0h0M706.2 630.8h0M800.3 715.8h0M848.7 593.4h0M739.0 713.2h0M817.3 731.1h0M889.6 664.8h0M862.9 603.2h0M818.3 771.7h0M775.1 779.6h0M900.8 714.9h0M831.5 600.8h0M868.2 673.4h0M786.0 653.9h0M849.6 656.9h0M894.5 684.3h0M764.0 661.3h0M727.5 627.9h0M869.4 686.4h0M824.5 614.0h0M795.9 700.9h0M917.0 743.7h0M708.2 715.8h0M707.9 627.4h0M710.5 694.2h0M844.3 796.3h0M733.8 610.6h0M864.8 609.3h0M795.9 750.7h0M864.3 777.3h0M812.2 621.2h0M736.6 682.9h0M705.6 776.5h0M867.1 715.1h0M805.4 758.4h0M754.6 731.3h0M800.2 697.6h0M762.4 774.5h0M797.9 700.8h0M729.9 740.9h0M708.2 605.9h0M881.3 731.3h0M706.6 802.8h0M722.4 648.5h0M780.2 676.2h0M751.2 753.9h0M919.0 697.3h0M787.1 644.5h0M799.3 708.2h0M792.8 802.1h0M910.4 781.9h0M918.9 678.4h0M848.5 634.2h0M866.3 618.5h0M909.6 725.3h0M742.4 659.6h0M792.2 709.6h0M869.4 632.4h0M770.1 636.2h0M791.4 659.4h0M791.5 637.8h0M897.6 642.4h0M762.5 732.4h0M876.2 776.7h0M831.1 613.2h0M775.5 591.6h0M711.7 764.6h0M766.7 607.9h0M752.1 629.5h0M861.2 637.2h0M901.4 796.3h0M725.5 753.4h0M828.3 721.5h0" stroke="#3ce840" stroke-width="2.3" stroke-linecap="round" fill="none"/>
</g>
<rect x="705.30" y="806.80" width="214.70" height="217.00" fill="#010a02"/>
<clipPath id="cg2"><rect x="705.30" y="806.80" width="214.70" height="217.00"/></clipPath>
<g clip-path="url(#cg2)" filter="url(#b2)">
<path d="M764.1 823.6Q761.7 831.3 755.6 837.6M764.1 823.6Q773.9 836.5 774.6 839.5M723.2 802.2Q725.4 808.8 726.6 811.5M723.2 802.2Q728.9 806.8 740.3 804.7M875.2 1023.9Q876.9 1008.7 875.4 999.6M875.2 1023.9Q868.2 1024.5 859.1 1029.7M831.3 845.2Q843.6 847.4 847.1 850.5M831.3 845.2Q839.1 837.8 838.8 833.4M764.9 811.7Q771.8 816.6 772.5 819.1M764.9 811.7Q769.6 806.7 770.0 804.8M816.6 911.8Q814.7 916.0 817.6 920.6M816.6 911.8Q822.0 921.2 827.4 927.7M729.2 902.8Q732.5 910.2 735.6 917.4M729.2 902.8Q715.0 894.6 711.9 892.2M833.3 903.3Q835.9 898.4 839.0 893.0M833.3 903.3Q825.5 901.7 822.6 892.2M701.9 959.2Q711.6 965.7 732.0 958.9M701.9 959.2Q700.4 950.3 708.3 936.9M726.6 811.5Q729.1 807.2 740.3 804.7M726.6 811.5Q732.2 813.6 734.3 811.2M863.1 808.8Q867.2 817.3 870.6 819.2M863.1 808.8Q858.5 826.0 838.8 833.4M748.8 934.1Q751.8 932.2 753.0 925.3M748.8 934.1Q747.6 927.4 735.6 917.4M842.0 903.7Q837.9 898.9 839.0 893.0M842.0 903.7Q846.0 916.4 844.1 921.6M893.3 961.8Q888.2 954.2 879.0 949.8M893.3 961.8Q900.4 971.7 896.6 981.8M735.3 841.5Q732.6 833.1 732.6 827.4M735.3 841.5Q739.2 838.9 749.0 844.1M737.6 971.0Q735.2 962.0 732.0 958.9M737.6 971.0Q721.8 974.2 719.5 986.9M799.0 987.3Q798.9 992.5 805.7 1000.3M799.0 987.3Q802.1 979.1 799.4 975.5M870.1 939.3Q883.6 931.7 888.9 931.2M870.1 939.3Q874.7 940.7 879.0 949.8M822.6 892.2Q817.1 895.2 816.1 902.9M822.6 892.2Q827.0 895.8 829.5 895.7M794.1 856.9Q786.9 862.9 782.2 864.8M794.1 856.9Q798.0 859.7 803.9 860.8M863.7 912.3Q862.5 915.2 856.5 917.4M863.7 912.3Q859.6 912.3 842.0 903.7M846.2 1021.2Q843.0 1009.6 846.1 1003.3M846.2 1021.2Q842.3 1014.3 828.4 1017.7M848.1 872.8Q846.6 871.3 839.7 867.3M848.1 872.8Q844.1 876.0 836.2 878.4M902.1 871.8Q911.4 868.3 916.9 861.2M902.1 871.8Q899.7 871.4 890.9 874.5M828.4 1017.7Q825.6 1019.3 817.1 1018.0M828.4 1017.7Q837.8 1019.2 846.2 1021.2M785.3 802.4Q769.8 802.5 764.9 811.7M785.3 802.4Q781.2 802.9 770.0 804.8M768.2 967.7Q777.8 964.6 779.2 958.6M768.2 967.7Q775.5 961.9 785.6 947.1M797.4 850.1Q793.9 838.4 797.4 835.1M797.4 850.1Q795.1 855.2 794.1 856.9M879.0 949.8Q882.2 943.9 882.5 938.3M879.0 949.8Q888.0 960.2 893.3 961.8M857.8 833.4Q855.9 847.4 847.1 850.5M857.8 833.4Q851.1 836.5 844.2 841.7M797.4 835.1Q788.4 841.6 786.1 840.8M797.4 835.1Q801.0 836.9 806.2 841.5M859.1 1029.7Q866.9 1024.3 875.2 1023.9M859.1 1029.7Q850.7 1011.4 838.4 1009.8M859.2 871.4Q854.0 869.9 848.1 872.8M859.2 871.4Q851.9 864.5 847.1 850.5M745.3 885.7Q742.4 896.4 729.2 902.8M745.3 885.7Q755.2 887.5 759.4 896.6M847.2 864.2Q843.7 856.9 847.1 850.5M847.2 864.2Q850.1 869.3 848.1 872.8M913.5 946.2Q906.3 958.7 893.3 961.8M913.5 946.2Q912.7 948.5 902.6 962.5M911.2 1024.3Q905.6 1030.8 891.4 1029.4M911.2 1024.3Q903.0 1024.7 899.7 1019.4M805.3 1017.0Q806.9 1019.9 816.5 1024.5M805.3 1017.0Q812.7 1019.3 817.1 1018.0M799.4 975.5Q793.6 977.2 783.7 976.5M799.4 975.5Q809.5 979.5 822.3 975.7M730.8 853.7Q743.2 864.0 748.5 863.7M730.8 853.7Q735.2 845.8 728.9 835.5M711.6 912.7Q712.1 919.5 715.0 921.6M711.6 912.7Q718.2 909.4 721.0 910.0M921.2 1028.3Q909.1 1018.7 906.0 1008.0M921.2 1028.3Q923.1 1023.8 925.5 1022.7M890.9 874.5Q887.7 879.4 889.3 882.6M890.9 874.5Q899.2 863.0 900.4 847.9M819.0 831.4Q820.0 826.2 817.0 823.3M819.0 831.4Q809.9 826.1 808.7 820.5M844.1 921.6Q837.5 928.1 835.7 937.3M844.1 921.6Q832.2 928.1 827.4 927.7M904.8 841.4Q899.8 851.8 884.6 850.6M904.8 841.4Q903.7 842.5 900.4 847.9M905.4 805.6Q910.3 811.2 914.1 812.2M905.4 805.6Q910.4 810.0 910.7 818.1M774.6 839.5Q766.3 845.6 762.7 850.4M774.6 839.5Q774.4 837.1 764.1 823.6M748.5 863.7Q755.7 865.1 766.4 870.3M748.5 863.7Q752.5 856.2 749.0 844.1M849.2 895.0Q833.9 893.4 829.5 895.7M849.2 895.0Q843.2 899.3 842.0 903.7M827.8 867.7Q828.3 878.8 830.5 886.5M827.8 867.7Q842.0 864.6 847.2 864.2M820.6 985.8Q825.0 988.8 825.1 995.1M820.6 985.8Q824.4 981.2 822.3 975.7M917.7 851.1Q915.6 859.0 916.9 861.2M917.7 851.1Q909.3 844.5 900.4 847.9M889.3 882.6Q882.7 895.1 876.8 904.2M889.3 882.6Q889.6 876.5 890.9 874.5M803.9 860.8Q806.8 852.0 806.2 841.5M803.9 860.8Q806.3 856.5 816.8 851.7M897.4 941.4Q900.3 943.2 905.1 949.9M897.4 941.4Q889.7 943.0 882.5 938.3M700.7 929.2Q706.0 922.2 711.6 912.7M700.7 929.2Q701.1 926.4 704.7 917.4M847.1 850.5Q845.6 838.9 838.8 833.4M847.1 850.5Q845.8 845.8 844.2 841.7M925.5 1022.7Q909.0 1020.4 899.7 1019.4M925.5 1022.7Q916.1 1014.6 906.0 1008.0M759.9 801.5Q765.1 806.2 770.0 804.8M759.9 801.5Q758.0 814.0 764.1 823.6M902.6 962.5Q900.4 969.6 905.1 981.5M902.6 962.5Q899.8 971.9 896.6 981.8M916.9 861.2Q909.3 859.4 900.4 847.9M916.9 861.2Q905.4 848.5 904.8 841.4M865.6 976.2Q871.8 974.5 873.7 973.2M865.6 976.2Q862.1 976.4 856.7 970.4M822.3 975.7Q829.9 978.1 837.6 979.5M822.3 975.7Q827.5 971.7 830.4 966.1M884.6 850.6Q887.8 865.5 890.9 874.5M884.6 850.6Q896.4 851.2 904.8 841.4M793.8 1024.9Q801.2 1028.8 816.5 1024.5M793.8 1024.9Q786.2 1018.7 781.4 1020.1M861.7 938.1Q871.5 950.9 870.8 958.0M861.7 938.1Q867.6 942.7 882.5 938.3M805.7 1000.3Q817.3 1001.8 825.1 995.1M805.7 1000.3Q810.0 1008.8 805.3 1017.0M816.1 902.9Q826.6 898.4 829.5 895.7M816.1 902.9Q812.8 900.6 799.9 906.9M775.0 876.4Q771.6 873.7 766.4 870.3M775.0 876.4Q788.0 879.6 794.7 872.7M734.3 811.2Q728.8 817.0 732.6 827.4M734.3 811.2Q734.2 820.3 740.5 822.6M898.8 889.1Q901.6 883.2 902.1 871.8M898.8 889.1Q891.3 881.0 890.9 874.5M727.1 987.3Q731.2 981.2 743.7 982.0M727.1 987.3Q721.3 1003.2 718.7 1008.9M899.5 1002.0Q895.3 993.4 896.2 989.9M899.5 1002.0Q902.4 997.0 908.5 988.7M719.5 986.9Q735.0 984.8 737.6 971.0M719.5 986.9Q713.2 1004.0 718.7 1008.9M810.8 955.3Q818.5 954.0 827.1 951.9M810.8 955.3Q826.7 956.7 830.4 966.1M740.6 1012.3Q736.4 1015.0 734.8 1015.7M740.6 1012.3Q725.1 1015.4 718.7 1008.9M824.8 835.5Q821.8 835.4 819.0 831.4M824.8 835.5Q828.5 837.9 831.3 845.2M808.7 820.5Q811.7 813.4 814.2 809.8M808.7 820.5Q808.5 830.1 809.8 834.2M734.7 863.3Q738.6 866.2 748.5 863.7M734.7 863.3Q734.3 849.6 735.3 841.5M784.7 912.9Q790.4 911.2 792.4 910.7M784.7 912.9Q793.3 909.7 799.9 906.9M785.6 947.1Q783.2 938.0 776.7 932.8M785.6 947.1Q792.1 949.1 807.3 939.8M882.5 938.3Q890.7 943.0 897.4 941.4M882.5 938.3Q884.6 936.9 888.9 931.2M762.7 850.4Q754.6 855.1 748.5 863.7M762.7 850.4Q769.3 843.4 774.6 839.5M792.4 910.7Q784.5 905.7 784.6 896.7M792.4 910.7Q780.8 910.0 774.5 901.9M910.6 801.3Q914.7 807.8 914.1 812.2M910.6 801.3Q907.1 809.3 899.3 809.3M823.9 809.9Q824.7 816.7 817.0 823.3M823.9 809.9Q819.7 812.4 814.2 809.8M772.2 1022.1Q765.2 1016.1 764.2 1011.5M772.2 1022.1Q788.6 1017.2 793.8 1024.9M900.4 847.9Q904.8 855.3 916.9 861.2M900.4 847.9Q897.1 848.7 884.6 850.6M881.7 981.6Q889.4 985.9 896.6 981.8M881.7 981.6Q890.2 983.2 896.2 989.9M814.2 809.8Q820.7 816.0 828.1 818.8M814.2 809.8Q820.0 808.9 823.9 809.9M739.3 951.4Q756.8 945.1 761.5 939.3M739.3 951.4Q739.3 947.4 748.8 934.1M740.1 856.2Q735.4 852.9 730.8 853.7M740.1 856.2Q741.1 844.6 735.3 841.5M720.0 1015.9Q713.9 1019.0 704.3 1024.3M720.0 1015.9Q721.6 1015.7 726.7 1015.1M794.7 872.7Q789.7 866.9 782.2 864.8M794.7 872.7Q797.7 870.6 803.9 860.8M906.9 907.4Q909.5 911.1 906.2 917.5M906.9 907.4Q908.7 893.1 898.8 889.1M734.8 1015.7Q738.4 1022.5 744.5 1023.9M734.8 1015.7Q728.8 1015.9 726.7 1015.1M761.5 939.3Q766.9 937.4 774.1 943.1M761.5 939.3Q761.8 934.4 753.0 925.3M764.2 1011.5Q753.2 1018.7 740.6 1012.3M764.2 1011.5Q772.4 1014.9 781.4 1020.1M789.3 830.1Q786.8 830.5 772.5 819.1M789.3 830.1Q795.7 825.7 796.9 823.2M719.5 823.2Q730.0 815.6 734.3 811.2M719.5 823.2Q722.0 813.5 726.6 811.5M835.7 937.3Q840.7 933.3 844.1 921.6M835.7 937.3Q834.7 930.5 834.7 922.9M743.7 982.0Q732.4 984.1 727.1 987.3M743.7 982.0Q752.4 981.1 758.2 984.1M870.6 819.2Q869.8 817.6 863.1 808.8M870.6 819.2Q854.6 819.0 850.3 806.0M704.7 917.4Q705.6 924.1 700.7 929.2M704.7 917.4Q711.6 920.0 715.0 921.6M766.4 870.3Q771.9 870.8 775.0 876.4M766.4 870.3Q760.5 868.8 748.5 863.7M839.7 867.3Q841.2 875.3 836.2 878.4M839.7 867.3Q831.8 867.1 827.8 867.7M796.9 823.2Q811.9 822.4 817.0 823.3M796.9 823.2Q805.8 832.2 809.8 834.2M839.0 893.0Q840.7 900.1 842.0 903.7M839.0 893.0Q834.5 900.2 833.3 903.3M708.3 936.9Q700.9 943.7 701.9 959.2M708.3 936.9Q702.4 930.2 700.7 929.2M853.5 990.4Q851.5 976.3 856.7 970.4M853.5 990.4Q849.0 979.3 849.3 973.3M906.2 917.5Q899.8 922.9 897.4 941.4M906.2 917.5Q905.3 897.0 898.8 889.1M856.7 970.4Q860.7 962.5 870.8 958.0M856.7 970.4Q861.5 976.1 865.6 976.2M779.2 958.6Q771.8 961.3 768.2 967.7M779.2 958.6Q785.7 962.6 783.7 976.5M774.1 943.1Q766.4 942.3 761.5 939.3M774.1 943.1Q781.8 940.4 783.4 930.8M749.0 844.1Q742.4 849.6 740.1 856.2M749.0 844.1Q741.5 839.6 735.3 841.5M888.9 931.2Q884.9 933.5 870.1 939.3M888.9 931.2Q890.4 933.6 897.4 941.4M825.1 995.1Q820.0 983.0 822.3 975.7M825.1 995.1Q822.7 991.2 820.6 985.8M896.6 981.8Q898.7 979.8 905.1 981.5M896.6 981.8Q903.6 988.8 908.5 988.7M830.4 966.1Q829.7 962.9 827.1 951.9M830.4 966.1Q834.3 963.8 842.0 967.8M830.5 886.5Q831.3 888.5 829.5 895.7M830.5 886.5Q836.5 891.2 839.0 893.0M813.9 1003.8Q818.1 1001.4 825.1 995.1M813.9 1003.8Q809.5 1000.2 805.7 1000.3M704.1 812.9Q716.7 812.6 726.6 811.5M704.1 812.9Q714.9 809.5 734.3 811.2M799.9 906.9Q811.8 909.9 816.6 911.8M799.9 906.9Q790.9 914.4 784.7 912.9M837.6 979.5Q842.2 978.9 849.3 973.3M837.6 979.5Q828.3 982.2 820.6 985.8M855.4 1018.1Q848.5 1020.1 846.2 1021.2M855.4 1018.1Q870.4 1018.5 875.2 1023.9M759.4 896.6Q758.4 893.1 762.3 888.1M759.4 896.6Q763.2 897.7 774.5 901.9M728.9 835.5Q740.3 835.4 746.8 837.5M728.9 835.5Q730.0 833.1 732.6 827.4M700.0 978.9Q702.0 968.5 701.9 959.2M700.0 978.9Q711.9 980.0 732.0 958.9M899.3 809.3Q909.3 810.6 924.7 815.5M899.3 809.3Q900.4 805.8 905.4 805.6M911.9 833.8Q908.8 829.8 910.7 818.1M911.9 833.8Q904.4 839.9 900.4 847.9M905.1 949.9Q903.5 955.2 902.6 962.5M905.1 949.9Q902.4 956.2 893.3 961.8M732.6 827.4Q735.8 821.4 734.3 811.2M732.6 827.4Q731.6 838.6 735.3 841.5M781.4 1020.1Q776.8 1019.2 772.2 1022.1M781.4 1020.1Q790.3 1018.9 793.8 1024.9M828.1 818.8Q822.1 824.6 817.0 823.3M828.1 818.8Q826.0 823.7 824.8 835.5M843.6 955.9Q841.0 964.2 830.4 966.1M843.6 955.9Q842.1 959.8 842.0 967.8M783.4 930.8Q775.7 940.6 774.1 943.1M783.4 930.8Q777.8 922.2 777.1 917.2M772.5 819.1Q767.9 823.5 764.1 823.6M772.5 819.1Q768.5 816.9 764.9 811.7M905.1 981.5Q903.9 973.0 902.6 962.5M905.1 981.5Q905.5 983.2 908.5 988.7M782.2 864.8Q774.6 873.7 775.0 876.4M782.2 864.8Q773.7 871.1 766.4 870.3M735.6 917.4Q730.0 916.6 715.0 921.6M735.6 917.4Q745.9 927.0 753.0 925.3M891.4 1029.4Q897.3 1018.2 906.0 1008.0M891.4 1029.4Q901.8 1021.6 911.2 1024.3M770.0 804.8Q777.6 802.9 785.3 802.4M770.0 804.8Q766.3 807.9 764.9 811.7M806.2 841.5Q801.0 849.0 797.4 850.1M806.2 841.5Q813.3 849.4 816.8 851.7M755.6 837.6Q755.9 833.4 764.1 823.6M755.6 837.6Q754.9 843.7 762.7 850.4M856.5 917.4Q856.8 921.6 861.7 938.1M856.5 917.4Q862.0 915.7 863.7 912.3M753.0 925.3Q755.9 936.5 761.5 939.3M753.0 925.3Q759.3 919.1 752.9 902.0M850.3 806.0Q838.8 807.7 823.9 809.9M850.3 806.0Q844.3 815.3 828.1 818.8M876.8 904.2Q856.4 897.5 849.2 895.0M876.8 904.2Q870.4 906.0 863.7 912.3M846.1 1003.3Q840.9 1013.6 846.2 1021.2M846.1 1003.3Q840.7 1008.4 838.4 1009.8M752.9 902.0Q761.5 903.8 774.5 901.9M752.9 902.0Q756.9 902.8 767.3 894.3M706.2 841.4Q711.4 830.1 719.5 823.2M706.2 841.4Q722.9 833.0 735.3 841.5M921.2 870.1Q920.4 878.2 918.5 884.3M921.2 870.1Q921.1 856.3 917.7 851.1M816.8 851.7Q816.6 842.3 809.8 834.2M816.8 851.7Q824.9 845.1 831.3 845.2M746.8 837.5Q752.1 836.3 755.6 837.6M746.8 837.5Q745.9 827.1 740.5 822.6M763.6 999.1Q761.0 1012.5 772.2 1022.1M763.6 999.1Q762.4 988.5 758.2 984.1M918.5 884.3Q923.5 878.1 916.9 861.2M918.5 884.3Q916.4 889.4 913.8 909.4M776.7 932.8Q784.9 935.0 785.6 947.1M776.7 932.8Q777.2 939.6 774.1 943.1M774.5 901.9Q778.7 913.9 777.1 917.2M774.5 901.9Q781.6 907.3 784.7 912.9M899.7 1019.4Q899.4 1007.8 899.5 1002.0M899.7 1019.4Q894.5 1021.0 891.4 1029.4M762.3 888.1Q751.7 891.4 745.3 885.7M762.3 888.1Q763.1 894.1 759.4 896.6M715.0 921.6Q715.4 914.3 721.0 910.0M715.0 921.6Q708.0 920.3 704.7 917.4M913.8 909.4Q905.4 894.1 898.8 889.1M913.8 909.4Q913.5 894.7 918.5 884.3M773.1 852.1Q780.7 859.7 782.2 864.8M773.1 852.1Q768.4 862.3 766.4 870.3M809.8 834.2Q814.2 830.9 819.0 831.4M809.8 834.2Q809.3 840.2 806.2 841.5M827.4 927.7Q819.4 922.8 817.6 920.6M827.4 927.7Q835.1 934.3 835.7 937.3M924.7 815.5Q921.0 818.9 910.7 818.1M924.7 815.5Q914.0 805.1 905.4 805.6M875.4 999.6Q864.1 990.0 853.5 990.4M875.4 999.6Q887.7 999.6 899.5 1002.0M870.8 958.0Q863.6 966.2 856.7 970.4M870.8 958.0Q872.2 951.3 879.0 949.8M925.9 838.4Q920.7 843.3 917.7 851.1M925.9 838.4Q928.1 844.7 916.9 861.2M878.7 847.4Q861.7 841.4 857.8 833.4M878.7 847.4Q877.8 844.8 864.5 831.8M896.2 989.9Q901.5 992.1 908.5 988.7M896.2 989.9Q904.2 987.0 905.1 981.5M721.0 910.0Q727.9 904.0 729.2 902.8M721.0 910.0Q718.7 908.6 711.6 912.7M704.3 1024.3Q711.7 1014.5 718.7 1008.9M704.3 1024.3Q708.3 1021.9 720.0 1015.9M719.4 877.1Q729.1 865.3 730.8 853.7M719.4 877.1Q719.2 884.7 711.9 892.2M838.8 833.4Q833.7 837.8 824.8 835.5M838.8 833.4Q834.4 828.0 828.1 818.8M849.3 973.3Q842.9 975.3 837.6 979.5M849.3 973.3Q861.4 970.0 865.6 976.2M864.5 831.8Q872.9 841.7 878.7 847.4M864.5 831.8Q866.8 820.1 863.1 808.8M706.1 901.7Q712.1 894.3 711.9 892.2M706.1 901.7Q705.8 907.2 704.7 917.4M767.3 894.3Q762.9 895.1 759.4 896.6M767.3 894.3Q769.4 899.1 774.5 901.9M740.5 822.6Q734.6 820.6 734.3 811.2M740.5 822.6Q738.7 823.1 732.6 827.4M834.7 922.9Q836.6 914.9 833.3 903.3M834.7 922.9Q824.4 926.2 817.6 920.6M711.9 892.2Q709.0 887.9 706.6 880.1M711.9 892.2Q708.1 895.0 706.1 901.7M726.7 1015.1Q723.4 1009.4 718.7 1008.9M726.7 1015.1Q729.3 1014.6 734.8 1015.7M844.2 841.7Q849.5 838.0 857.8 833.4M844.2 841.7Q846.0 845.2 847.1 850.5M817.6 920.6Q822.0 914.4 816.1 902.9M817.6 920.6Q826.1 925.3 834.7 922.9M786.1 840.8Q788.0 834.1 789.3 830.1M786.1 840.8Q795.6 847.0 797.4 850.1M914.1 812.2Q912.5 805.6 910.6 801.3M914.1 812.2Q904.4 810.2 899.3 809.3M706.6 880.1Q716.0 881.2 720.4 888.5M706.6 880.1Q700.7 885.1 706.1 901.7M713.7 1028.4Q720.2 1021.6 720.0 1015.9M713.7 1028.4Q710.0 1027.1 704.3 1024.3M817.1 1018.0Q814.1 1006.8 813.9 1003.8M817.1 1018.0Q824.1 1014.5 828.4 1017.7M720.4 888.5Q727.6 898.3 729.2 902.8M720.4 888.5Q717.8 896.9 706.1 901.7M783.7 976.5Q783.7 968.7 779.2 958.6M783.7 976.5Q779.9 969.3 768.2 967.7M838.4 1009.8Q847.4 1013.4 855.4 1018.1M838.4 1009.8Q845.3 1018.8 846.2 1021.2M817.0 823.3Q814.0 827.5 809.8 834.2M817.0 823.3Q815.7 816.3 814.2 809.8M873.7 973.2Q863.0 976.0 856.7 970.4M873.7 973.2Q870.9 977.2 865.6 976.2M910.7 818.1Q914.3 816.2 914.1 812.2M910.7 818.1Q911.8 811.9 905.4 805.6M836.2 878.4Q829.3 871.1 827.8 867.7M836.2 878.4Q838.3 872.1 848.1 872.8M807.3 939.8Q815.4 926.9 817.6 920.6M807.3 939.8Q810.7 951.7 810.8 955.3M827.1 951.9Q819.2 954.6 810.8 955.3M827.1 951.9Q835.1 952.9 843.6 955.9M744.5 1023.9Q740.9 1016.1 740.6 1012.3M744.5 1023.9Q738.1 1021.4 734.8 1015.7M816.5 1024.5Q814.9 1021.6 817.1 1018.0M816.5 1024.5Q809.1 1021.8 805.3 1017.0M732.0 958.9Q746.2 954.0 748.8 934.1M732.0 958.9Q732.5 970.7 743.7 982.0M908.5 988.7Q906.1 985.1 905.1 981.5M908.5 988.7Q898.6 989.3 896.6 981.8M829.5 895.7Q831.5 897.2 833.3 903.3M829.5 895.7Q837.0 891.5 839.0 893.0M777.1 917.2Q778.3 928.5 776.7 932.8M777.1 917.2Q777.7 921.2 783.4 930.8M784.6 896.7Q784.0 908.1 784.7 912.9M784.6 896.7Q777.7 893.3 767.3 894.3M803.0 886.5Q795.7 878.5 794.7 872.7M803.0 886.5Q800.0 887.2 784.6 896.7M718.7 1008.9Q717.2 1017.9 713.7 1028.4M718.7 1008.9Q720.2 1011.4 726.7 1015.1M906.0 1008.0Q908.4 1012.3 911.2 1024.3M906.0 1008.0Q909.2 999.1 908.5 988.7M825.0 1007.6Q834.9 1011.2 838.4 1009.8M825.0 1007.6Q823.9 1015.7 817.1 1018.0M740.3 804.7Q736.4 805.7 734.3 811.2M740.3 804.7Q729.1 803.3 723.2 802.2M923.4 981.6Q917.6 992.7 896.2 989.9M923.4 981.6Q917.6 984.2 908.5 988.7M758.2 984.1Q757.7 991.1 763.6 999.1M758.2 984.1Q765.5 976.6 768.2 967.7M842.0 967.8Q842.0 975.8 837.6 979.5M842.0 967.8Q838.6 968.6 830.4 966.1" stroke="#13681a" stroke-width="1.2" stroke-opacity="0.7" fill="none"/>
<path d="M766.0 931.1l-20.8 21.8M830.4 839.3l-12.4 3.0M792.1 868.7l1.9 26.2M767.9 976.4l18.3 15.1M712.5 890.7l2.4 10.3M874.7 1014.6l29.4 0.9M781.6 906.2l-18.3 17.8M761.5 956.3l-4.0 20.0M800.7 994.6l10.5 7.7M832.1 880.0l-2.1 28.3M851.3 839.2l23.3 22.7M745.4 931.0l8.8 7.0M884.7 946.4l18.9 4.1M857.0 910.6l-2.7 20.3M794.1 1020.8l4.7 12.0M828.5 921.0l28.9 7.2M826.7 1009.9l-12.9 8.5M834.9 982.3l1.2 15.5M730.9 962.0l5.1 9.9M742.9 885.0l-22.7 14.8M834.9 971.1l-13.9 2.0M887.3 869.9l-25.9 3.3M916.3 929.7l23.8 9.4M884.1 871.1l1.6 13.0M773.0 852.1l30.1 13.5M795.5 874.8l-14.9 29.6M802.7 1012.0l23.6 1.6M821.6 996.3l14.6 29.4M902.7 829.0l15.6 2.9M835.8 955.1l-14.4 0.6M778.5 863.7l19.2 12.2M827.7 980.8l-5.8 28.3M789.4 822.6l13.2 16.7M813.3 847.0l-12.0 7.3M918.1 924.6l-11.9 24.7M809.3 1014.3l11.4 10.8M737.1 950.1l4.2 14.2M717.1 910.3l-8.2 16.2M734.8 952.6l3.0 17.8M844.5 831.0l-13.8 24.1M729.8 945.0l0.1 20.5M768.9 909.8l-6.1 15.2M852.5 1013.6l12.4 30.9M715.4 917.9l15.9 14.4M731.0 1016.7l-10.6 12.3M791.2 951.4l-24.1 1.0M807.1 1004.3l16.5 8.3M833.5 981.1l23.2 11.0M905.3 1004.6l-29.2 17.8M852.4 988.5l6.6 9.7M878.8 811.7l-24.4 24.9M870.9 811.2l-2.0 13.1M842.1 888.5l12.7 3.4M918.2 880.3l6.8 8.8M880.0 1014.1l-15.6 15.5M860.8 940.6l7.6 21.9M904.8 863.6l-3.5 31.7M907.3 871.1l-25.7 14.4M765.2 960.0l13.0 7.6M785.2 858.4l-12.2 26.5M901.2 997.4l-33.1 6.7M816.7 1005.3l1.3 14.4M725.2 845.0l-12.2 13.0M865.1 825.2l-22.9 20.9M731.4 842.3l30.2 7.3M766.8 815.4l-16.1 6.8M752.3 996.2l-32.0 11.4M775.1 936.4l19.4 9.5M821.0 957.2l18.3 18.6M902.9 976.2l15.4 16.2M867.8 967.3l-31.6 2.1M776.0 1000.6l-7.8 7.1M811.0 980.6l-4.1 18.2M832.4 907.7l-2.7 13.1M787.7 988.8l11.6 8.7M909.5 853.8l12.4 2.9M865.9 840.4l31.7 1.2M796.0 885.4l11.2 13.0M725.7 879.8l-7.6 14.1M884.6 892.8l-23.0 14.8M837.3 910.7l-10.6 21.4M797.4 857.3l16.7 20.0M821.3 963.3l-21.1 2.3M725.0 900.2l23.2 3.0M812.2 833.5l-12.8 8.4M726.4 1009.2l18.1 22.7M902.1 853.9l-31.9 5.7M834.6 1023.6l-17.6 6.9M723.8 866.6l14.8 3.1M792.7 892.9l-20.3 3.6M825.9 908.6l-32.0 11.2M820.8 872.2l-20.2 1.1M786.4 864.5l-16.8 0.7M708.8 954.1l20.7 20.6M717.7 913.4l-13.5 0.4M720.5 837.3l-27.0 16.4M800.9 898.8l19.0 19.0M749.9 870.8l-9.7 5.0M799.5 973.5l5.7 9.6M867.6 879.5l-28.3 0.1M782.6 828.4l32.6 8.7M879.4 904.9l-16.2 10.1M903.9 1002.0l-18.6 13.3M728.5 989.0l10.5 8.7M798.7 832.6l12.0 6.3M753.1 988.6l-9.0 12.6M871.2 996.4l-9.6 13.0M751.3 919.1l2.9 14.6M729.7 976.8l22.7 19.5M868.5 1018.2l5.0 10.1M869.9 825.2l1.7 28.8M791.0 860.6l-14.9 7.2M909.9 958.4l21.7 24.3M810.0 946.1l26.6 20.2M755.9 915.2l9.2 12.8M797.2 1009.4l3.6 28.2M709.6 907.8l-31.9 11.8M858.6 887.6l10.4 13.0M723.0 957.1l24.8 7.3M895.9 984.9l15.3 17.8M753.6 901.0l-8.1 23.2M733.6 812.2l-4.5 12.3M845.2 929.2l5.5 19.3M829.0 817.1l25.1 14.1M853.0 942.3l-18.9 13.9M843.5 958.1l14.4 7.4M804.1 858.7l-19.1 2.6M823.1 944.5l8.3 6.6M834.6 1000.4l30.0 4.6M820.4 1000.1l25.7 16.3M723.9 888.2l13.7 6.1M778.5 961.7l8.1 12.5M842.4 933.7l-12.1 6.7M708.9 927.6l24.3 21.8M753.5 1002.2l-24.6 11.4M827.8 856.1l15.7 26.7M896.8 861.7l11.8 2.3M882.3 931.4l1.3 19.2M785.8 852.9l-12.4 12.6M761.1 844.4l-14.5 15.8" stroke="#0e5213" stroke-width="0.9" stroke-linecap="round" fill="none" stroke-opacity="0.7"/>
<path d="M835.7 969.5h0M830.8 839.5h0M743.7 816.2h0M819.4 942.9h0M739.5 957.6h0M745.5 826.1h0M864.0 892.9h0M873.4 815.5h0M843.5 836.3h0M729.5 838.8h0M850.3 853.0h0M723.8 977.0h0M878.7 973.1h0M710.6 983.1h0M737.1 910.2h0M852.6 1022.8h0M711.9 887.0h0M735.3 1011.3h0M917.7 981.4h0M841.7 902.1h0M746.9 908.0h0M908.1 932.1h0M757.5 955.3h0M909.5 977.2h0M785.1 841.2h0M717.9 977.1h0M760.8 1012.4h0M771.1 947.6h0M831.6 911.5h0M709.8 817.6h0M759.5 882.8h0M805.8 853.8h0M749.1 828.0h0M771.5 859.4h0M765.3 921.6h0M895.3 881.9h0M821.8 1011.5h0M777.5 955.9h0M915.0 919.2h0M847.4 1001.8h0M844.2 934.2h0M830.5 815.9h0M781.9 981.5h0M785.8 988.5h0M916.0 913.6h0M783.2 830.9h0M724.9 899.7h0M785.8 882.6h0M910.8 961.2h0M898.8 1023.3h0M851.3 878.9h0M738.4 947.9h0M884.6 962.7h0M734.2 931.7h0M818.8 882.5h0M732.6 888.5h0M873.3 959.3h0M707.5 965.0h0M823.1 894.8h0M845.1 945.4h0M786.0 812.4h0M841.9 899.1h0M823.1 1015.7h0M817.8 994.4h0M730.4 922.9h0M811.1 1012.2h0M919.2 1013.8h0M765.2 987.9h0M745.2 878.3h0M871.7 915.5h0" stroke="#093a0d" stroke-width="10" stroke-linecap="round" fill="none" stroke-opacity="0.5"/>
<path d="M764.4 823.2l-0.6 0.8M724.1 801.8l-1.9 1.0M875.3 1022.5l-0.2 2.8M830.8 845.2l1.1 0.2M765.9 811.7l-2.0 0.0M817.2 911.6l-1.1 0.4M727.8 902.5l2.8 0.6M832.7 903.0l1.1 0.6M701.6 958.5l0.5 1.3M727.6 810.7l-2.1 1.5M862.8 807.6l0.5 2.4M748.1 933.7l1.4 0.8M843.1 902.6l-2.2 2.2M893.0 960.3l0.5 2.8M735.0 841.5l0.6 0.0M737.2 970.8l0.9 0.4M799.7 987.0l-1.4 0.5M869.6 938.2l1.0 2.2M823.2 891.3l-1.1 1.8M792.9 856.7l2.4 0.5M863.8 911.7l-0.2 1.4M845.5 1020.3l1.5 1.7M847.7 872.4l0.7 0.9M902.6 870.6l-1.1 2.4M828.0 1017.5l0.7 0.4M785.0 802.2l0.7 0.2M769.0 967.2l-1.6 0.9M796.8 848.7l1.2 2.8M878.7 949.4l0.5 0.7M857.4 833.4l1.0 0.1M797.8 834.4l-0.8 1.5M859.2 1029.1l-0.3 1.1M859.2 870.0l-0.1 2.7M745.8 885.6l-1.0 0.3M846.2 863.5l2.1 1.4M912.9 946.2l1.3 0.1M910.6 1024.0l1.2 0.6M806.4 1016.3l-2.2 1.5M798.3 975.5l2.2 0.1M730.9 852.4l-0.1 2.6M713.0 912.1l-2.8 1.1M921.6 1028.0l-0.8 0.7M890.6 874.3l0.6 0.5M818.9 831.1l0.2 0.6M844.3 920.9l-0.4 1.3M905.0 840.4l-0.5 1.9M905.9 805.4l-1.0 0.6M775.6 838.8l-2.0 1.6M747.4 862.7l2.3 2.1M848.8 894.7l0.8 0.5M828.1 866.9l-0.6 1.5M821.2 985.3l-1.3 1.1M918.0 850.6l-0.4 1.0M889.0 881.9l0.6 1.5M804.3 860.6l-0.8 0.3M897.9 941.2l-1.1 0.4M700.7 928.5l-0.0 1.4M846.8 850.5l0.7 0.0M926.3 1022.2l-1.6 1.0M759.5 801.5l0.7 0.1M901.5 961.3l2.1 2.4M915.7 860.9l2.4 0.5M867.1 976.0l-2.9 0.3M821.3 974.8l1.9 1.9M884.3 850.6l0.6 0.1M792.8 1024.7l2.0 0.4M862.1 937.4l-0.8 1.4M806.2 999.8l-0.9 1.0M816.1 902.6l0.1 0.8M774.6 875.8l0.9 1.2M734.0 810.6l0.7 1.1M898.2 889.0l1.2 0.2M727.0 987.1l0.3 0.5M899.2 1001.6l0.5 0.8M719.4 986.6l0.2 0.5M811.3 955.3l-1.0 0.0M741.7 1011.9l-2.0 0.9M824.9 835.1l-0.3 0.8M809.3 820.2l-1.3 0.5M735.0 862.2l-0.6 2.0M785.0 912.8l-0.7 0.1M786.4 946.5l-1.6 1.3M881.6 938.2l1.8 0.3M763.2 850.3l-1.0 0.2M793.1 910.3l-1.5 0.9M910.6 800.6l0.0 1.4M823.6 808.6l0.6 2.6M773.3 1022.1l-2.1 0.0M901.3 847.9l-1.8 0.1M881.4 980.4l0.6 2.3M813.8 809.5l0.9 0.6M739.0 950.8l0.4 1.2M739.1 855.4l2.1 1.7M718.8 1015.2l2.4 1.6M795.2 872.4l-1.1 0.6M906.3 905.9l1.1 3.0M734.6 1015.2l0.4 1.1M761.7 939.0l-0.5 0.5M763.0 1011.0l2.4 1.1M788.9 828.9l0.8 2.5M720.4 822.7l-1.7 1.2M835.1 936.4l1.3 1.9M743.9 980.5l-0.4 2.9M871.3 818.9l-1.6 0.5M705.1 916.7l-0.9 1.4M767.2 869.6l-1.6 1.4M839.7 866.6l0.0 1.5M797.7 822.1l-1.7 2.1M839.1 892.1l-0.2 1.7M709.8 936.8l-3.0 0.3M853.1 989.7l0.8 1.3M906.0 917.2l0.6 0.6M856.4 969.8l0.7 1.2M779.4 957.5l-0.3 2.0M773.5 941.8l1.3 2.7M749.8 843.9l-1.5 0.3M889.2 931.1l-0.5 0.4M825.3 994.8l-0.3 0.5M897.3 980.9l-1.3 1.7M830.8 965.9l-0.8 0.5M830.3 885.3l0.3 2.4M814.7 1003.1l-1.6 1.3M705.5 812.6l-2.7 0.8M799.0 905.8l2.0 2.3M836.5 978.9l2.4 1.3M855.3 1017.8l0.2 0.7M759.1 896.6l0.5 0.1M728.7 835.3l0.4 0.4M699.9 978.5l0.2 0.8M900.3 808.3l-2.0 2.1M911.8 832.7l0.3 2.2M905.7 949.3l-1.2 1.2M733.2 826.8l-1.1 1.1M780.4 1019.2l2.0 1.8M828.7 817.7l-1.2 2.2M842.4 954.9l2.3 2.0M782.3 930.3l2.3 1.1M773.5 818.0l-2.1 2.1M904.1 981.0l2.0 1.0M781.3 864.5l1.8 0.7M736.1 916.0l-1.1 2.8M890.9 1028.4l0.8 2.1M769.5 804.4l1.1 0.8M805.4 840.9l1.7 1.3M754.9 836.7l1.3 1.8M857.1 916.7l-1.3 1.4M752.0 925.3l2.1 0.0M849.8 805.5l1.0 1.0M877.5 903.4l-1.3 1.6M844.8 1002.4l2.6 1.9M752.6 901.0l0.5 1.8M706.5 840.7l-0.7 1.4M921.9 869.4l-1.5 1.5M817.1 851.5l-0.5 0.4M747.5 836.5l-1.4 2.0M763.2 998.8l0.7 0.7M918.9 884.2l-0.8 0.2M776.1 932.2l1.3 1.1M774.1 901.9l0.6 0.1M898.7 1019.3l2.2 0.2" stroke="#1a8c20" stroke-width="4.2" stroke-linecap="round" fill="none"/>
<path d="M761.3 887.9l2.1 0.3M713.8 921.1l2.5 1.0M913.2 908.8l1.3 1.2M774.4 851.6l-2.7 1.0M810.4 833.0l-1.2 2.3M827.8 926.6l-0.8 2.2M924.5 815.2l0.4 0.6M876.4 999.1l-2.0 0.9M870.3 956.8l1.1 2.3M925.3 837.6l1.2 1.5M879.4 846.4l-1.5 1.9M896.3 989.2l-0.2 1.4M720.5 908.8l1.0 2.4M705.4 1024.3l-2.2 0.1M718.7 876.5l1.5 1.3M838.7 832.6l0.0 1.6M848.9 972.5l0.9 1.6M863.3 831.6l2.4 0.4M706.4 901.1l-0.5 1.3M766.5 894.2l1.6 0.3M741.1 821.5l-1.2 2.2M834.8 922.3l-0.3 1.2M711.6 892.2l0.6 0.0M725.8 1014.4l1.8 1.3M843.2 840.9l2.1 1.6M818.5 920.2l-1.9 0.7M785.6 839.5l0.9 2.6M914.1 811.3l0.1 1.8M707.3 879.2l-1.3 1.8M713.8 1027.9l-0.2 0.9M817.1 1016.7l-0.0 2.6M721.0 888.2l-1.1 0.5M784.5 975.4l-1.5 2.1M837.7 1009.5l1.4 0.5M817.4 822.7l-0.9 1.3M873.3 971.9l0.8 2.6M909.3 817.7l2.9 0.8M836.2 877.9l0.1 1.1M807.7 939.4l-0.9 0.7M826.4 951.8l1.3 0.2M744.4 1023.5l0.2 0.9M815.5 1024.3l1.8 0.5M731.1 957.7l1.7 2.3M908.8 988.3l-0.6 1.0M829.7 895.2l-0.3 1.0M776.4 916.9l1.4 0.6M785.6 895.9l-1.9 1.7M802.0 886.2l2.0 0.7M718.3 1007.9l0.9 2.0M905.1 1006.8l1.8 2.5M824.6 1007.6l0.7 0.1M740.5 803.9l-0.2 1.5M923.2 980.8l0.5 1.4M758.5 983.9l-0.5 0.4M842.1 966.4l-0.3 2.8" stroke="#1c9222" stroke-width="5.4" stroke-linecap="round" fill="none"/>
<path d="M905.5 911.8l-0.3 1.7M846.7 859.2l1.4 0.2M856.3 1019.0l1.9 1.8M831.7 965.1l1.7 0.0M790.1 888.9l1.2 1.5M837.1 1014.4l0.5 2.1M849.3 1009.8l-0.6 0.3M736.9 972.9l1.7 2.2M873.7 895.8l0.8 0.9M791.5 911.6l0.9 1.4M847.9 843.6l1.1 1.7M717.6 809.7l-2.2 0.9M891.5 1012.0l-0.4 0.9M867.2 899.0l2.0 1.9M839.7 954.8l1.3 0.1M851.9 965.6l0.5 3.1M778.4 894.1l-0.4 2.7M843.6 821.3l-0.8 3.0M810.4 817.5l-0.7 0.5M893.8 932.5l0.8 0.4M820.6 937.3l-1.7 0.6M784.9 943.0l-1.1 0.9M916.8 833.9l0.2 0.6M794.5 941.0l-0.7 0.1M718.7 808.4l-0.4 0.3M910.7 995.3l0.6 1.8M745.2 1021.6l-1.2 2.9M895.3 949.9l0.8 0.4M828.6 993.3l0.7 2.6M790.8 965.1l-1.0 2.3M754.9 924.4l-1.3 1.5M802.0 854.0l1.3 1.3M721.2 907.1l0.1 0.8M893.6 988.3l-2.4 0.2M870.7 864.9l-0.7 1.2" stroke="#178a1d" stroke-width="3.4" stroke-linecap="round" fill="none"/>
<path d="M764.1 823.6h0M701.9 959.2h0M799.0 987.3h0M828.4 1017.7h0M859.2 871.4h0M711.6 912.7h0M748.5 863.7h0M700.7 929.2h0M884.6 850.6h0M727.1 987.3h0M784.7 912.9h0M900.4 847.9h0M734.8 1015.7h0M704.7 917.4h0M856.7 970.4h0M830.5 886.5h0M700.0 978.9h0M783.4 930.8h0M755.6 837.6h0M921.2 870.1h0M762.3 888.1h0M870.8 958.0h0M849.3 973.3h0M844.2 841.7h0M783.7 976.5h0M744.5 1023.9h0M718.7 1008.9h0" stroke="#3ce044" stroke-width="2.8" stroke-linecap="round" fill="none"/>
</g>
<line x1="705.30" y1="806.00" x2="920.00" y2="806.00" stroke="#cfd4cf" stroke-width="1.4" />
<rect x="744" y="636" width="124.8" height="115" fill="none" stroke="#fff" stroke-width="3.5" stroke-dasharray="3.5 3.43" stroke-dashoffset="1.75"/>
<line x1="743.00" y1="752.50" x2="705.50" y2="796.00" stroke="#fff" stroke-width="3.5" stroke-dasharray="3.5 3.43" stroke-dashoffset="1.75"/>
<line x1="870.30" y1="752.50" x2="920.00" y2="804.00" stroke="#fff" stroke-width="3.5" stroke-dasharray="3.5 3.43" stroke-dashoffset="1.75"/>
<rect x="852.50" y="784.00" width="44.70" height="8.70" fill="#fff"/>
<rect x="851.00" y="1002.40" width="45.20" height="8.80" fill="#fff"/>
<text transform="translate(710.61,609.80) scale(0.9885,1)" font-size="19" font-weight="bold" font-style="normal" fill="#fff">Silk_DMEM Day 9</text>
</svg>
</body></html>
